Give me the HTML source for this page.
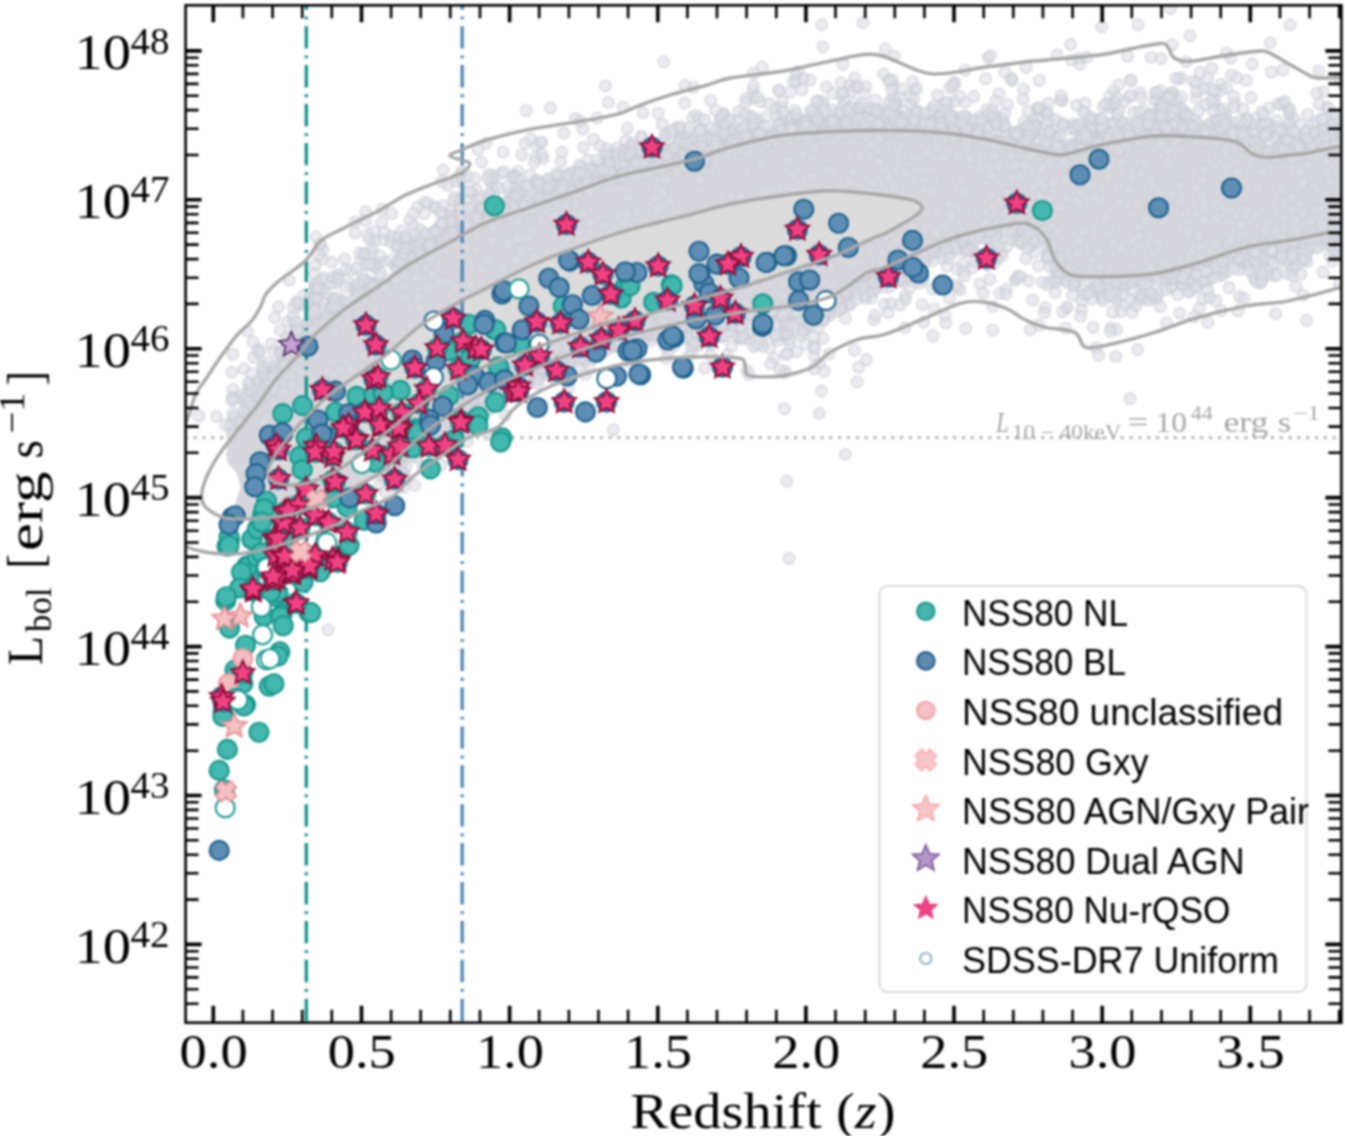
<!DOCTYPE html><html><head><meta charset="utf-8"><style>html,body{margin:0;padding:0;background:#fff;width:1345px;height:1136px;overflow:hidden}svg{display:block}#w{filter:blur(1px)}</style></head><body>
<div id="w"><svg width="1345" height="1136" viewBox="0 0 1345 1136">
<rect width="1345" height="1136" fill="#fff"/>
<defs><clipPath id="ax"><rect x="185.6" y="5.3" width="1155.8" height="1017.4"/></clipPath></defs>
<g clip-path="url(#ax)">
<line x1="185.6" y1="437.8" x2="1341.4" y2="437.8" stroke="#b2b2b2" stroke-width="3" stroke-dasharray="3 5.83" stroke-dashoffset="0.8"/>
<path d="M245 425 C249.9 418.9 253.8 410.9 259 403.2 C264.2 395.5 270.1 386.5 276.5 378.6 C282.9 370.7 291.5 362.8 297.7 355.7 C303.9 348.6 305.9 343.9 313.5 336.3 C321.1 328.7 331.6 319.1 343.5 310 C355.4 300.9 374.2 289.3 385 281.8 C395.8 274.3 396.7 271.9 408 265 C419.3 258.1 439.9 247.6 452.7 240.6 C465.5 233.6 472.2 228.5 485 223 C497.8 217.5 514.7 212.7 529.6 207.5 C544.5 202.3 559.3 197 574.2 191.8 C589.1 186.6 603.9 180.5 618.8 176.2 C633.7 171.9 650.5 169.2 663.5 166.2 C676.5 163.2 685.9 161.6 697 158.4 C708.1 155.2 715.7 151.1 730.4 147.2 C745.1 143.3 761 137.8 785 135 C809 132.2 848.2 130.9 874.2 130.5 C900.2 130.1 922.5 131.2 941.1 132.7 C959.7 134.2 970.9 136.6 985.8 139.4 C1000.7 142.2 1019.3 147.1 1030.4 149.5 C1041.6 151.9 1046.6 153.2 1052.7 154 C1058.8 154.8 1059.3 155.5 1067.3 154 C1075.3 152.5 1085.9 148 1100.8 145 C1115.7 142 1136 136.9 1156.5 136 C1177 135.1 1209.4 137.9 1223.5 139.4 C1237.6 140.9 1236.5 142.6 1241.3 145 C1246.1 147.4 1248 151.9 1252.5 154 C1257 156.1 1259.8 157.3 1268 157.3 C1276.2 157.3 1286.2 155.1 1301.5 154 C1316.8 152.9 1350.2 138.5 1360 151 C1369.8 163.5 1365.4 215.3 1360 229 C1354.6 242.7 1338.1 231.3 1327.6 233 C1317.1 234.7 1310.7 236.7 1297.2 239.1 C1283.7 241.5 1263.5 243.1 1246.6 247.2 C1229.7 251.2 1211.2 259 1196 263.4 C1180.8 267.8 1169 271.3 1155.5 273.5 C1142 275.7 1124.5 276 1115 276.5 C1105.5 277 1106.1 277 1098.8 276.7 C1091.5 276.4 1078 277.3 1070.9 274.8 C1063.8 272.3 1060 267.7 1056 261.8 C1052 255.9 1050.4 245.4 1046.7 239.5 C1043 233.6 1039 229.1 1033.7 226.5 C1028.4 223.9 1027.5 222.1 1015.1 223.7 C1002.7 225.2 974.8 231.3 959.3 235.8 C943.8 240.3 934.6 245.3 922.2 250.6 C909.8 255.9 894.1 263.9 885 267.5 C875.9 271.1 873.3 269.5 867.3 272.5 C861.3 275.5 855 281.5 848.8 285.5 C842.6 289.5 838 293.6 830.2 296.7 C822.5 299.8 816.2 301.6 802.3 304.1 C788.3 306.6 765.1 308.7 746.5 311.5 C727.9 314.3 709.4 317.1 690.8 320.8 C672.2 324.5 648.8 330.2 635 333.6 C621.2 337 618.7 337.5 608 340.9 C597.3 344.3 583.3 349.2 570.9 353.9 C558.5 358.5 546.1 363.5 533.7 368.8 C521.3 374.1 508.9 379 496.5 385.5 C484.1 392 471.7 399.6 459.3 407.8 C446.9 416.1 434.6 424.8 422.2 435 C409.8 445.2 393.7 461.6 385 469 C376.3 476.4 376.8 475.2 369.9 479.3 C363 483.4 352.3 489 343.5 493.4 C334.7 497.8 325.8 502.2 317 505.7 C308.2 509.2 299.4 512.5 290.6 514.5 C281.8 516.5 273 517.8 264.2 518 C255.4 518.2 242.8 518.4 238 516 C233.2 513.6 235.4 508.1 235.7 503.4 C236 498.6 240 492.8 240 487.5 C240 482.2 237.8 476.1 235.7 471.7 C233.6 467.3 228.2 466.3 227.2 461 C226.1 455.7 226.4 446 229.4 440 C232.4 434 240.1 431.1 245 425Z" fill="#d5d5dc"/>
<g fill="#dcdce3" fill-opacity="0.55" stroke="#c8c8d2" stroke-opacity="0.6" stroke-width="1.6"><circle cx="735.5" cy="140.6" r="5.6"/><circle cx="750.3" cy="134.5" r="5.6"/><circle cx="437.5" cy="229" r="5.6"/><circle cx="336.8" cy="318.4" r="5.6"/><circle cx="1003.8" cy="150.5" r="5.6"/><circle cx="1305.8" cy="137.6" r="5.6"/><circle cx="407.3" cy="241.1" r="5.6"/><circle cx="443.7" cy="245.2" r="5.6"/><circle cx="722.3" cy="122.9" r="5.6"/><circle cx="944.6" cy="127.2" r="5.6"/><circle cx="741" cy="147.9" r="5.6"/><circle cx="1340.2" cy="125.9" r="5.6"/><circle cx="582.9" cy="178.6" r="5.6"/><circle cx="1084.9" cy="144.7" r="5.6"/><circle cx="662.2" cy="124.4" r="5.6"/><circle cx="232.6" cy="354.1" r="5.6"/><circle cx="1323.1" cy="139.5" r="5.6"/><circle cx="932.6" cy="110.6" r="5.6"/><circle cx="1075.7" cy="146.6" r="5.6"/><circle cx="344.5" cy="259" r="5.6"/><circle cx="854.5" cy="118.5" r="5.6"/><circle cx="1046.6" cy="152.9" r="5.6"/><circle cx="361.7" cy="288.7" r="5.6"/><circle cx="1312.6" cy="124.3" r="5.6"/><circle cx="1216.9" cy="134.3" r="5.6"/><circle cx="1182.9" cy="115.2" r="5.6"/><circle cx="1333.1" cy="146.1" r="5.6"/><circle cx="1092" cy="137.5" r="5.6"/><circle cx="313.7" cy="306.5" r="5.6"/><circle cx="901.2" cy="124.8" r="5.6"/><circle cx="1299.5" cy="144" r="5.6"/><circle cx="1196.4" cy="130.7" r="5.6"/><circle cx="1243.1" cy="109" r="5.6"/><circle cx="443.2" cy="170" r="5.6"/><circle cx="1289.5" cy="114.8" r="5.6"/><circle cx="701.1" cy="149.9" r="5.6"/><circle cx="1303.5" cy="152.9" r="5.6"/><circle cx="518" cy="189.1" r="5.6"/><circle cx="427.3" cy="249.9" r="5.6"/><circle cx="854.6" cy="103.1" r="5.6"/><circle cx="543.9" cy="192.5" r="5.6"/><circle cx="531.6" cy="202" r="5.6"/><circle cx="642.5" cy="154.3" r="5.6"/><circle cx="635.1" cy="148.4" r="5.6"/><circle cx="963.2" cy="121" r="5.6"/><circle cx="388.2" cy="285.7" r="5.6"/><circle cx="1012.2" cy="80.5" r="5.6"/><circle cx="940.1" cy="128.2" r="5.6"/><circle cx="315.8" cy="299.1" r="5.6"/><circle cx="1052.4" cy="133.8" r="5.6"/><circle cx="1250.4" cy="146.4" r="5.6"/><circle cx="1234.6" cy="102.8" r="5.6"/><circle cx="1111.9" cy="105.5" r="5.6"/><circle cx="927.6" cy="128.1" r="5.6"/><circle cx="909.7" cy="133.4" r="5.6"/><circle cx="1337.6" cy="121.6" r="5.6"/><circle cx="664.3" cy="148" r="5.6"/><circle cx="722.3" cy="117.2" r="5.6"/><circle cx="1067" cy="155.8" r="5.6"/><circle cx="767.3" cy="138.9" r="5.6"/><circle cx="785.4" cy="128.4" r="5.6"/><circle cx="516.7" cy="207.3" r="5.6"/><circle cx="457.5" cy="177.3" r="5.6"/><circle cx="723.9" cy="114" r="5.6"/><circle cx="973.1" cy="134.2" r="5.6"/><circle cx="1129.1" cy="97.4" r="5.6"/><circle cx="659.9" cy="152.3" r="5.6"/><circle cx="383.6" cy="239.8" r="5.6"/><circle cx="1023.6" cy="89.3" r="5.6"/><circle cx="420.2" cy="247.3" r="5.6"/><circle cx="692.8" cy="145.1" r="5.6"/><circle cx="583" cy="129" r="5.6"/><circle cx="315.1" cy="265.1" r="5.6"/><circle cx="1020.7" cy="129.9" r="5.6"/><circle cx="1113" cy="138.6" r="5.6"/><circle cx="738.2" cy="150.7" r="5.6"/><circle cx="496.2" cy="220.7" r="5.6"/><circle cx="728.9" cy="135.7" r="5.6"/><circle cx="1130.6" cy="79.8" r="5.6"/><circle cx="453.9" cy="228.9" r="5.6"/><circle cx="757.6" cy="119.2" r="5.6"/><circle cx="535.1" cy="183" r="5.6"/><circle cx="915.9" cy="111.7" r="5.6"/><circle cx="1113.4" cy="90.9" r="5.6"/><circle cx="1270" cy="123.7" r="5.6"/><circle cx="736.8" cy="137.7" r="5.6"/><circle cx="651.4" cy="162.7" r="5.6"/><circle cx="1118.8" cy="84.8" r="5.6"/><circle cx="956.9" cy="135.9" r="5.6"/><circle cx="1142.8" cy="121.6" r="5.6"/><circle cx="1323.3" cy="91.8" r="5.6"/><circle cx="1112.1" cy="142.2" r="5.6"/><circle cx="1184.5" cy="125.3" r="5.6"/><circle cx="722.7" cy="142.3" r="5.6"/><circle cx="774.5" cy="142.3" r="5.6"/><circle cx="424.4" cy="213.6" r="5.6"/><circle cx="397.5" cy="244.7" r="5.6"/><circle cx="999.3" cy="93.9" r="5.6"/><circle cx="1288.4" cy="150.6" r="5.6"/><circle cx="818.2" cy="132.3" r="5.6"/><circle cx="943.1" cy="128.9" r="5.6"/><circle cx="855.2" cy="124.7" r="5.6"/><circle cx="1172.8" cy="92.3" r="5.6"/><circle cx="1178.9" cy="79" r="5.6"/><circle cx="869.7" cy="128.5" r="5.6"/><circle cx="792" cy="115.7" r="5.6"/><circle cx="1310.9" cy="140.8" r="5.6"/><circle cx="1123.6" cy="125.6" r="5.6"/><circle cx="1001.1" cy="143.2" r="5.6"/><circle cx="692.5" cy="117.6" r="5.6"/><circle cx="531.6" cy="204.1" r="5.6"/><circle cx="1139.9" cy="92.8" r="5.6"/><circle cx="585.1" cy="180.6" r="5.6"/><circle cx="376.1" cy="283.9" r="5.6"/><circle cx="484.9" cy="211.2" r="5.6"/><circle cx="921.8" cy="134.8" r="5.6"/><circle cx="368.7" cy="281.7" r="5.6"/><circle cx="822.3" cy="123.5" r="5.6"/><circle cx="692.1" cy="144.1" r="5.6"/><circle cx="459.3" cy="210.7" r="5.6"/><circle cx="1179.5" cy="126.9" r="5.6"/><circle cx="490.9" cy="183" r="5.6"/><circle cx="583.6" cy="147.3" r="5.6"/><circle cx="1343.2" cy="112" r="5.6"/><circle cx="498.4" cy="206" r="5.6"/><circle cx="1158.2" cy="130" r="5.6"/><circle cx="372.2" cy="252.9" r="5.6"/><circle cx="455.6" cy="181.4" r="5.6"/><circle cx="360.5" cy="259.3" r="5.6"/><circle cx="995.2" cy="133" r="5.6"/><circle cx="350.2" cy="283.4" r="5.6"/><circle cx="865" cy="124.9" r="5.6"/><circle cx="1263.6" cy="148.9" r="5.6"/><circle cx="1291" cy="147.5" r="5.6"/><circle cx="595.8" cy="173.8" r="5.6"/><circle cx="900.8" cy="135" r="5.6"/><circle cx="1171.7" cy="133.5" r="5.6"/><circle cx="1054.9" cy="139.9" r="5.6"/><circle cx="415.7" cy="266.9" r="5.6"/><circle cx="1124.3" cy="122.8" r="5.6"/><circle cx="932.5" cy="128.1" r="5.6"/><circle cx="793.3" cy="81.3" r="5.6"/><circle cx="519.4" cy="185.4" r="5.6"/><circle cx="1138.7" cy="134.9" r="5.6"/><circle cx="1211.3" cy="122.4" r="5.6"/><circle cx="1083.7" cy="143" r="5.6"/><circle cx="310.5" cy="314.6" r="5.6"/><circle cx="627.8" cy="162.6" r="5.6"/><circle cx="973.4" cy="134.5" r="5.6"/><circle cx="865.9" cy="117.8" r="5.6"/><circle cx="1344.9" cy="138.8" r="5.6"/><circle cx="1079.8" cy="64.1" r="5.6"/><circle cx="916.9" cy="110.9" r="5.6"/><circle cx="678.9" cy="158.5" r="5.6"/><circle cx="650.1" cy="165.2" r="5.6"/><circle cx="1240" cy="129.7" r="5.6"/><circle cx="1308.4" cy="147" r="5.6"/><circle cx="942.1" cy="105.8" r="5.6"/><circle cx="897.1" cy="104.2" r="5.6"/><circle cx="1267.3" cy="153.7" r="5.6"/><circle cx="420.2" cy="229.6" r="5.6"/><circle cx="1284.1" cy="145.7" r="5.6"/><circle cx="897.4" cy="122.3" r="5.6"/><circle cx="961.1" cy="121.8" r="5.6"/><circle cx="1029.6" cy="136.7" r="5.6"/><circle cx="504.7" cy="216.5" r="5.6"/><circle cx="666" cy="135.5" r="5.6"/><circle cx="1283.2" cy="160.9" r="5.6"/><circle cx="710.1" cy="151.7" r="5.6"/><circle cx="503.2" cy="151.9" r="5.6"/><circle cx="753.3" cy="90.6" r="5.6"/><circle cx="903.8" cy="132.4" r="5.6"/><circle cx="739.2" cy="136.5" r="5.6"/><circle cx="819.8" cy="131.4" r="5.6"/><circle cx="975.4" cy="126.2" r="5.6"/><circle cx="880" cy="126.6" r="5.6"/><circle cx="822.7" cy="46.8" r="5.6"/><circle cx="1049.3" cy="143.3" r="5.6"/><circle cx="1225.6" cy="114.3" r="5.6"/><circle cx="631.8" cy="172.4" r="5.6"/><circle cx="860.7" cy="119.4" r="5.6"/><circle cx="1070.5" cy="146.2" r="5.6"/><circle cx="1322.4" cy="118.3" r="5.6"/><circle cx="276" cy="368.5" r="5.6"/><circle cx="925.8" cy="132.4" r="5.6"/><circle cx="312.7" cy="304.1" r="5.6"/><circle cx="934.4" cy="127.1" r="5.6"/><circle cx="466.4" cy="200.7" r="5.6"/><circle cx="314.7" cy="286.4" r="5.6"/><circle cx="1087.6" cy="143.6" r="5.6"/><circle cx="519.2" cy="203.9" r="5.6"/><circle cx="1333" cy="147.6" r="5.6"/><circle cx="1062.4" cy="100.7" r="5.6"/><circle cx="643" cy="175.5" r="5.6"/><circle cx="319.4" cy="305.5" r="5.6"/><circle cx="994.8" cy="140.4" r="5.6"/><circle cx="316.7" cy="294.6" r="5.6"/><circle cx="570.1" cy="172.9" r="5.6"/><circle cx="391.1" cy="242.1" r="5.6"/><circle cx="362.6" cy="280.1" r="5.6"/><circle cx="1278.1" cy="103.5" r="5.6"/><circle cx="1125.8" cy="132.1" r="5.6"/><circle cx="676.7" cy="127.6" r="5.6"/><circle cx="508.4" cy="203" r="5.6"/><circle cx="672.3" cy="153.4" r="5.6"/><circle cx="859.5" cy="106.8" r="5.6"/><circle cx="1162.9" cy="116.1" r="5.6"/><circle cx="1076.7" cy="105.2" r="5.6"/><circle cx="256.7" cy="381.6" r="5.6"/><circle cx="1307.6" cy="140.5" r="5.6"/><circle cx="303.3" cy="295.7" r="5.6"/><circle cx="322.9" cy="250.2" r="5.6"/><circle cx="937.8" cy="135" r="5.6"/><circle cx="954.3" cy="127.8" r="5.6"/><circle cx="1083.8" cy="139.1" r="5.6"/><circle cx="670.9" cy="165.7" r="5.6"/><circle cx="980.4" cy="129.5" r="5.6"/><circle cx="1034.4" cy="132.9" r="5.6"/><circle cx="689" cy="136.5" r="5.6"/><circle cx="1181.9" cy="114.9" r="5.6"/><circle cx="1221.1" cy="84.4" r="5.6"/><circle cx="815.1" cy="119.9" r="5.6"/><circle cx="701.3" cy="144.6" r="5.6"/><circle cx="1057" cy="54.8" r="5.6"/><circle cx="418.6" cy="243.5" r="5.6"/><circle cx="1311.3" cy="150.8" r="5.6"/><circle cx="359.8" cy="253" r="5.6"/><circle cx="301.4" cy="330.3" r="5.6"/><circle cx="272.5" cy="374.2" r="5.6"/><circle cx="494" cy="193.2" r="5.6"/><circle cx="437.9" cy="248.5" r="5.6"/><circle cx="579" cy="165.2" r="5.6"/><circle cx="521.9" cy="154.9" r="5.6"/><circle cx="841.2" cy="82.7" r="5.6"/><circle cx="478" cy="149.4" r="5.6"/><circle cx="660.5" cy="156.8" r="5.6"/><circle cx="963.9" cy="126.3" r="5.6"/><circle cx="758.1" cy="139.4" r="5.6"/><circle cx="1025.9" cy="126.9" r="5.6"/><circle cx="406.6" cy="264.5" r="5.6"/><circle cx="806.4" cy="126.7" r="5.6"/><circle cx="528.6" cy="209.2" r="5.6"/><circle cx="1173.8" cy="101.7" r="5.6"/><circle cx="532.4" cy="205.1" r="5.6"/><circle cx="753.6" cy="98.3" r="5.6"/><circle cx="1186.2" cy="136.4" r="5.6"/><circle cx="696.1" cy="115.3" r="5.6"/><circle cx="1151.7" cy="133.7" r="5.6"/><circle cx="817.1" cy="136.4" r="5.6"/><circle cx="578.6" cy="187.3" r="5.6"/><circle cx="752" cy="122.8" r="5.6"/><circle cx="996.7" cy="139.5" r="5.6"/><circle cx="745.9" cy="98.5" r="5.6"/><circle cx="959.8" cy="134.6" r="5.6"/><circle cx="1022.2" cy="144.5" r="5.6"/><circle cx="741.9" cy="152.4" r="5.6"/><circle cx="1121.8" cy="139.6" r="5.6"/><circle cx="555.2" cy="183.7" r="5.6"/><circle cx="607.5" cy="162.2" r="5.6"/><circle cx="454.5" cy="236.1" r="5.6"/><circle cx="858.4" cy="109" r="5.6"/><circle cx="1152.3" cy="130.7" r="5.6"/><circle cx="337.1" cy="275" r="5.6"/><circle cx="679.7" cy="136.8" r="5.6"/><circle cx="332.3" cy="310.3" r="5.6"/><circle cx="684.8" cy="167" r="5.6"/><circle cx="707.3" cy="147" r="5.6"/><circle cx="1085.5" cy="113.3" r="5.6"/><circle cx="600.9" cy="181.9" r="5.6"/><circle cx="1011" cy="78.3" r="5.6"/><circle cx="966.8" cy="116.9" r="5.6"/><circle cx="600.4" cy="163" r="5.6"/><circle cx="652.3" cy="163.2" r="5.6"/><circle cx="1150.4" cy="114.1" r="5.6"/><circle cx="1085.1" cy="103.2" r="5.6"/><circle cx="624.4" cy="161.2" r="5.6"/><circle cx="1026" cy="67.3" r="5.6"/><circle cx="1028.2" cy="111.1" r="5.6"/><circle cx="1283.7" cy="132" r="5.6"/><circle cx="324.6" cy="303.1" r="5.6"/><circle cx="598.4" cy="177.4" r="5.6"/><circle cx="836.8" cy="121.2" r="5.6"/><circle cx="526.2" cy="110.6" r="5.6"/><circle cx="901.5" cy="135" r="5.6"/><circle cx="553.2" cy="196.6" r="5.6"/><circle cx="1156.6" cy="133.5" r="5.6"/><circle cx="316.9" cy="334.9" r="5.6"/><circle cx="1277.6" cy="131.3" r="5.6"/><circle cx="979.1" cy="117" r="5.6"/><circle cx="890.8" cy="99.7" r="5.6"/><circle cx="454.1" cy="235.1" r="5.6"/><circle cx="865.9" cy="129.1" r="5.6"/><circle cx="525.5" cy="203.3" r="5.6"/><circle cx="274.1" cy="383.9" r="5.6"/><circle cx="899.9" cy="121.6" r="5.6"/><circle cx="926.3" cy="121.4" r="5.6"/><circle cx="1068.7" cy="147.5" r="5.6"/><circle cx="1165" cy="97.5" r="5.6"/><circle cx="715" cy="146.2" r="5.6"/><circle cx="817.4" cy="122" r="5.6"/><circle cx="1238.5" cy="131.2" r="5.6"/><circle cx="1039.6" cy="109.6" r="5.6"/><circle cx="897" cy="108.3" r="5.6"/><circle cx="892.5" cy="125.7" r="5.6"/><circle cx="729.5" cy="136.4" r="5.6"/><circle cx="289.8" cy="336.9" r="5.6"/><circle cx="572.9" cy="183.1" r="5.6"/><circle cx="1246.3" cy="80.4" r="5.6"/><circle cx="1196.4" cy="133.9" r="5.6"/><circle cx="478.8" cy="209.6" r="5.6"/><circle cx="232.6" cy="423" r="5.6"/><circle cx="1139.6" cy="127.5" r="5.6"/><circle cx="883.7" cy="124.5" r="5.6"/><circle cx="1232" cy="136" r="5.6"/><circle cx="1271.5" cy="72.1" r="5.6"/><circle cx="461.8" cy="171.8" r="5.6"/><circle cx="449.6" cy="231.4" r="5.6"/><circle cx="1339.9" cy="151.2" r="5.6"/><circle cx="287.7" cy="321.9" r="5.6"/><circle cx="1234" cy="107.1" r="5.6"/><circle cx="382.1" cy="209.1" r="5.6"/><circle cx="319.9" cy="322.9" r="5.6"/><circle cx="450.7" cy="237.9" r="5.6"/><circle cx="1111.8" cy="137.2" r="5.6"/><circle cx="1216.4" cy="120.2" r="5.6"/><circle cx="566.9" cy="175.1" r="5.6"/><circle cx="944.2" cy="139.7" r="5.6"/><circle cx="722.1" cy="139.9" r="5.6"/><circle cx="282.5" cy="358.3" r="5.6"/><circle cx="1126" cy="137.1" r="5.6"/><circle cx="1073.1" cy="144.5" r="5.6"/><circle cx="842" cy="135.4" r="5.6"/><circle cx="1331.4" cy="152.4" r="5.6"/><circle cx="1067.4" cy="150.7" r="5.6"/><circle cx="788.4" cy="133.8" r="5.6"/><circle cx="949.8" cy="131.1" r="5.6"/><circle cx="1103.5" cy="131.2" r="5.6"/><circle cx="1172.9" cy="117.5" r="5.6"/><circle cx="1291.1" cy="156.2" r="5.6"/><circle cx="415.8" cy="254.1" r="5.6"/><circle cx="1092.4" cy="121.2" r="5.6"/><circle cx="494.6" cy="215.2" r="5.6"/><circle cx="787.3" cy="136.7" r="5.6"/><circle cx="1027.5" cy="138.8" r="5.6"/><circle cx="432.4" cy="252.2" r="5.6"/><circle cx="715.8" cy="140.9" r="5.6"/><circle cx="1120.8" cy="147" r="5.6"/><circle cx="865.2" cy="123.2" r="5.6"/><circle cx="496.9" cy="203.8" r="5.6"/><circle cx="581.9" cy="175.6" r="5.6"/><circle cx="887.2" cy="134.9" r="5.6"/><circle cx="423" cy="256.2" r="5.6"/><circle cx="1156.8" cy="99.7" r="5.6"/><circle cx="689" cy="150.3" r="5.6"/><circle cx="1312.2" cy="153.6" r="5.6"/><circle cx="1079.3" cy="58.3" r="5.6"/><circle cx="738.8" cy="119.3" r="5.6"/><circle cx="499.8" cy="213.5" r="5.6"/><circle cx="563.7" cy="188.7" r="5.6"/><circle cx="1340.7" cy="132.7" r="5.6"/><circle cx="487.9" cy="197.5" r="5.6"/><circle cx="745.7" cy="102.7" r="5.6"/><circle cx="607.1" cy="161.5" r="5.6"/><circle cx="680.6" cy="140.9" r="5.6"/><circle cx="614" cy="152.4" r="5.6"/><circle cx="1218.5" cy="127.4" r="5.6"/><circle cx="1170.3" cy="132.6" r="5.6"/><circle cx="471.7" cy="226.2" r="5.6"/><circle cx="414.4" cy="256" r="5.6"/><circle cx="575.4" cy="118.6" r="5.6"/><circle cx="1192.2" cy="133.3" r="5.6"/><circle cx="313" cy="320.8" r="5.6"/><circle cx="252.7" cy="400.6" r="5.6"/><circle cx="1259.9" cy="124.6" r="5.6"/><circle cx="633.9" cy="177.5" r="5.6"/><circle cx="632.4" cy="156.6" r="5.6"/><circle cx="1241.6" cy="143.3" r="5.6"/><circle cx="659.8" cy="172.1" r="5.6"/><circle cx="594" cy="169" r="5.6"/><circle cx="670.5" cy="155" r="5.6"/><circle cx="399.9" cy="268.4" r="5.6"/><circle cx="704" cy="139.8" r="5.6"/><circle cx="1018.5" cy="145.4" r="5.6"/><circle cx="973.5" cy="132" r="5.6"/><circle cx="544" cy="192.3" r="5.6"/><circle cx="1195.8" cy="131.7" r="5.6"/><circle cx="615.9" cy="171" r="5.6"/><circle cx="933.6" cy="126.9" r="5.6"/><circle cx="1317.8" cy="150.6" r="5.6"/><circle cx="1254.9" cy="152.6" r="5.6"/><circle cx="973.9" cy="96.5" r="5.6"/><circle cx="493.1" cy="217.7" r="5.6"/><circle cx="668.8" cy="163.4" r="5.6"/><circle cx="597.3" cy="175.2" r="5.6"/><circle cx="679.9" cy="148.8" r="5.6"/><circle cx="972.4" cy="128.5" r="5.6"/><circle cx="612.5" cy="178.3" r="5.6"/><circle cx="1012.6" cy="134.8" r="5.6"/><circle cx="257.6" cy="384.5" r="5.6"/><circle cx="682.1" cy="162" r="5.6"/><circle cx="884.1" cy="119.2" r="5.6"/><circle cx="514" cy="209.5" r="5.6"/><circle cx="861.6" cy="129.5" r="5.6"/><circle cx="439" cy="231.3" r="5.6"/><circle cx="635.6" cy="167.3" r="5.6"/><circle cx="1090.6" cy="130.4" r="5.6"/><circle cx="689.4" cy="149.7" r="5.6"/><circle cx="1155.4" cy="92.8" r="5.6"/><circle cx="1244.4" cy="142.6" r="5.6"/><circle cx="796.4" cy="128.1" r="5.6"/><circle cx="1319.4" cy="147.1" r="5.6"/><circle cx="486.3" cy="209.2" r="5.6"/><circle cx="837.3" cy="121.8" r="5.6"/><circle cx="781.4" cy="122.5" r="5.6"/><circle cx="926.9" cy="127.1" r="5.6"/><circle cx="1310.3" cy="145.5" r="5.6"/><circle cx="1218.5" cy="136.3" r="5.6"/><circle cx="1006" cy="131.2" r="5.6"/><circle cx="1149.5" cy="136.3" r="5.6"/><circle cx="778.1" cy="123.9" r="5.6"/><circle cx="550" cy="184.3" r="5.6"/><circle cx="509.5" cy="211" r="5.6"/><circle cx="372.2" cy="283.9" r="5.6"/><circle cx="1016.4" cy="144.5" r="5.6"/><circle cx="1091.4" cy="130.6" r="5.6"/><circle cx="1196.2" cy="97.9" r="5.6"/><circle cx="514.6" cy="175.4" r="5.6"/><circle cx="1028.9" cy="147.6" r="5.6"/><circle cx="595.8" cy="169.4" r="5.6"/><circle cx="1154.2" cy="119.4" r="5.6"/><circle cx="1018.8" cy="134.5" r="5.6"/><circle cx="1123.8" cy="137.9" r="5.6"/><circle cx="977" cy="130.6" r="5.6"/><circle cx="247.3" cy="330.9" r="5.6"/><circle cx="380.9" cy="272.8" r="5.6"/><circle cx="673.5" cy="130.1" r="5.6"/><circle cx="286.2" cy="358.5" r="5.6"/><circle cx="550.4" cy="107.9" r="5.6"/><circle cx="599.4" cy="172.5" r="5.6"/><circle cx="647.6" cy="169.5" r="5.6"/><circle cx="1165.5" cy="129.3" r="5.6"/><circle cx="919.6" cy="119.9" r="5.6"/><circle cx="665.3" cy="149.4" r="5.6"/><circle cx="1122.6" cy="134.7" r="5.6"/><circle cx="511.8" cy="209.2" r="5.6"/><circle cx="253.4" cy="407.9" r="5.6"/><circle cx="537" cy="191.1" r="5.6"/><circle cx="520.9" cy="215.5" r="5.6"/><circle cx="576.3" cy="188.8" r="5.6"/><circle cx="1341.8" cy="154.4" r="5.6"/><circle cx="771" cy="135.7" r="5.6"/><circle cx="672.7" cy="164.9" r="5.6"/><circle cx="963.1" cy="119.6" r="5.6"/><circle cx="1277" cy="120.7" r="5.6"/><circle cx="725.3" cy="125.7" r="5.6"/><circle cx="427.7" cy="245.4" r="5.6"/><circle cx="315.1" cy="289.6" r="5.6"/><circle cx="804.4" cy="130.8" r="5.6"/><circle cx="1299.7" cy="155.4" r="5.6"/><circle cx="1133.7" cy="112.3" r="5.6"/><circle cx="676.4" cy="143.8" r="5.6"/><circle cx="1086.5" cy="57.3" r="5.6"/><circle cx="1289.8" cy="148.7" r="5.6"/><circle cx="510.8" cy="215.5" r="5.6"/><circle cx="484.9" cy="213.4" r="5.6"/><circle cx="1134.4" cy="133.4" r="5.6"/><circle cx="626.1" cy="176.7" r="5.6"/><circle cx="590" cy="184.7" r="5.6"/><circle cx="467.2" cy="214.1" r="5.6"/><circle cx="429.3" cy="248.5" r="5.6"/><circle cx="711.4" cy="154.5" r="5.6"/><circle cx="680.9" cy="157.7" r="5.6"/><circle cx="1291.9" cy="156.8" r="5.6"/><circle cx="589.2" cy="192.7" r="5.6"/><circle cx="710.7" cy="100.4" r="5.6"/><circle cx="686.3" cy="138.4" r="5.6"/><circle cx="536.3" cy="145.4" r="5.6"/><circle cx="396.9" cy="263.6" r="5.6"/><circle cx="468.3" cy="176.7" r="5.6"/><circle cx="931.7" cy="125.2" r="5.6"/><circle cx="999.8" cy="135.6" r="5.6"/><circle cx="698.8" cy="147.5" r="5.6"/><circle cx="900.5" cy="119.8" r="5.6"/><circle cx="267.8" cy="372.1" r="5.6"/><circle cx="893.8" cy="85.8" r="5.6"/><circle cx="753.6" cy="73.3" r="5.6"/><circle cx="580.3" cy="120.9" r="5.6"/><circle cx="1197.5" cy="143.6" r="5.6"/><circle cx="778.6" cy="138.4" r="5.6"/><circle cx="954.6" cy="101.2" r="5.6"/><circle cx="1119.8" cy="135.5" r="5.6"/><circle cx="1024.1" cy="147.9" r="5.6"/><circle cx="737.4" cy="140.2" r="5.6"/><circle cx="450.1" cy="209.8" r="5.6"/><circle cx="849.7" cy="107.7" r="5.6"/><circle cx="501.1" cy="173.5" r="5.6"/><circle cx="843.4" cy="99.5" r="5.6"/><circle cx="400.9" cy="261.9" r="5.6"/><circle cx="616.9" cy="147.8" r="5.6"/><circle cx="434.2" cy="206.3" r="5.6"/><circle cx="1235.7" cy="149.6" r="5.6"/><circle cx="462.1" cy="182.1" r="5.6"/><circle cx="451.3" cy="220.6" r="5.6"/><circle cx="610" cy="163.3" r="5.6"/><circle cx="903.2" cy="110.4" r="5.6"/><circle cx="374.5" cy="267.5" r="5.6"/><circle cx="911" cy="122.1" r="5.6"/><circle cx="1339.3" cy="137.1" r="5.6"/><circle cx="633" cy="167.4" r="5.6"/><circle cx="394.8" cy="265.5" r="5.6"/><circle cx="687.2" cy="152.3" r="5.6"/><circle cx="1280.1" cy="150.9" r="5.6"/><circle cx="493.6" cy="217.4" r="5.6"/><circle cx="550.9" cy="180.8" r="5.6"/><circle cx="1271.2" cy="150.3" r="5.6"/><circle cx="901.2" cy="117.4" r="5.6"/><circle cx="698.5" cy="153" r="5.6"/><circle cx="1294.4" cy="151.7" r="5.6"/><circle cx="980" cy="133.9" r="5.6"/><circle cx="512.1" cy="209.2" r="5.6"/><circle cx="1178.4" cy="123.4" r="5.6"/><circle cx="330.4" cy="311.1" r="5.6"/><circle cx="976.8" cy="138.1" r="5.6"/><circle cx="1289" cy="157.6" r="5.6"/><circle cx="754.2" cy="135.8" r="5.6"/><circle cx="583.7" cy="182.2" r="5.6"/><circle cx="1318.8" cy="71" r="5.6"/><circle cx="1154.3" cy="119" r="5.6"/><circle cx="1342.4" cy="151.2" r="5.6"/><circle cx="678.6" cy="143.3" r="5.6"/><circle cx="1333.6" cy="147.7" r="5.6"/><circle cx="391.1" cy="236.5" r="5.6"/><circle cx="417.7" cy="239.6" r="5.6"/><circle cx="514" cy="187.3" r="5.6"/><circle cx="365.2" cy="300.8" r="5.6"/><circle cx="1283.3" cy="102.9" r="5.6"/><circle cx="622.8" cy="166.1" r="5.6"/><circle cx="355.8" cy="292.5" r="5.6"/><circle cx="370.7" cy="282.9" r="5.6"/><circle cx="802.1" cy="133.9" r="5.6"/><circle cx="506.7" cy="211.2" r="5.6"/><circle cx="734.7" cy="134.3" r="5.6"/><circle cx="1178.9" cy="141.1" r="5.6"/><circle cx="816.3" cy="128" r="5.6"/><circle cx="1193.5" cy="81.4" r="5.6"/><circle cx="243.9" cy="368.9" r="5.6"/><circle cx="1025.1" cy="146.5" r="5.6"/><circle cx="263.8" cy="391.5" r="5.6"/><circle cx="947.7" cy="102.6" r="5.6"/><circle cx="695.2" cy="155.2" r="5.6"/><circle cx="597.9" cy="174.6" r="5.6"/><circle cx="1285.4" cy="139.3" r="5.6"/><circle cx="1238" cy="132.2" r="5.6"/><circle cx="1054.9" cy="146.9" r="5.6"/><circle cx="709.8" cy="143.2" r="5.6"/><circle cx="711.1" cy="139.1" r="5.6"/><circle cx="1162.1" cy="136.4" r="5.6"/><circle cx="841.4" cy="121.1" r="5.6"/><circle cx="342.4" cy="300.6" r="5.6"/><circle cx="488.3" cy="197.8" r="5.6"/><circle cx="684.6" cy="103" r="5.6"/><circle cx="892.4" cy="79.8" r="5.6"/><circle cx="897.6" cy="122.5" r="5.6"/><circle cx="910" cy="117.3" r="5.6"/><circle cx="785.9" cy="129.2" r="5.6"/><circle cx="291" cy="351.1" r="5.6"/><circle cx="1117.6" cy="137.2" r="5.6"/><circle cx="679.8" cy="160.7" r="5.6"/><circle cx="1157.5" cy="126.4" r="5.6"/><circle cx="1143.9" cy="109.7" r="5.6"/><circle cx="285.4" cy="349.1" r="5.6"/><circle cx="942.9" cy="139.7" r="5.6"/><circle cx="1069.8" cy="129.2" r="5.6"/><circle cx="1052.2" cy="146.2" r="5.6"/><circle cx="1326.8" cy="106.9" r="5.6"/><circle cx="1101.7" cy="137.8" r="5.6"/><circle cx="652.5" cy="159.9" r="5.6"/><circle cx="363.3" cy="254.2" r="5.6"/><circle cx="973.5" cy="121.1" r="5.6"/><circle cx="855.5" cy="86.9" r="5.6"/><circle cx="693.7" cy="153" r="5.6"/><circle cx="757.8" cy="140.7" r="5.6"/><circle cx="652.2" cy="159" r="5.6"/><circle cx="781.4" cy="118.6" r="5.6"/><circle cx="1098.6" cy="147.8" r="5.6"/><circle cx="417.3" cy="253.1" r="5.6"/><circle cx="414.4" cy="240.2" r="5.6"/><circle cx="664.5" cy="158.8" r="5.6"/><circle cx="630.7" cy="161.8" r="5.6"/><circle cx="1323.4" cy="150.1" r="5.6"/><circle cx="492" cy="187.7" r="5.6"/><circle cx="518.1" cy="171.4" r="5.6"/><circle cx="1029.4" cy="141" r="5.6"/><circle cx="854.8" cy="77.9" r="5.6"/><circle cx="739.3" cy="132.4" r="5.6"/><circle cx="1070.2" cy="149.2" r="5.6"/><circle cx="1175.2" cy="140.1" r="5.6"/><circle cx="864.3" cy="116.5" r="5.6"/><circle cx="1083.1" cy="111.5" r="5.6"/><circle cx="1104.7" cy="136.3" r="5.6"/><circle cx="827.4" cy="113.8" r="5.6"/><circle cx="1083.3" cy="138.4" r="5.6"/><circle cx="1260.3" cy="128" r="5.6"/><circle cx="1290.5" cy="128" r="5.6"/><circle cx="1186.5" cy="113.3" r="5.6"/><circle cx="509.4" cy="193.6" r="5.6"/><circle cx="558.2" cy="196" r="5.6"/><circle cx="535.4" cy="200.1" r="5.6"/><circle cx="1204.6" cy="141.4" r="5.6"/><circle cx="1183.3" cy="123" r="5.6"/><circle cx="1048.8" cy="140.7" r="5.6"/><circle cx="1255.1" cy="118.4" r="5.6"/><circle cx="635.7" cy="147.4" r="5.6"/><circle cx="736" cy="143.2" r="5.6"/><circle cx="1282.3" cy="143" r="5.6"/><circle cx="620.2" cy="179.6" r="5.6"/><circle cx="963.4" cy="141.6" r="5.6"/><circle cx="345.5" cy="312.7" r="5.6"/><circle cx="576.3" cy="193.4" r="5.6"/><circle cx="307.5" cy="325.3" r="5.6"/><circle cx="994.6" cy="114.3" r="5.6"/><circle cx="812.1" cy="133.8" r="5.6"/><circle cx="437.4" cy="238.9" r="5.6"/><circle cx="451.8" cy="227.6" r="5.6"/><circle cx="319.6" cy="312.6" r="5.6"/><circle cx="856.9" cy="127.2" r="5.6"/><circle cx="605.6" cy="148.9" r="5.6"/><circle cx="1289.3" cy="109.2" r="5.6"/><circle cx="1272.6" cy="157.2" r="5.6"/><circle cx="889.4" cy="115.3" r="5.6"/><circle cx="914.4" cy="89.1" r="5.6"/><circle cx="809.9" cy="80" r="5.6"/><circle cx="1297.3" cy="148.4" r="5.6"/><circle cx="1155.5" cy="113.9" r="5.6"/><circle cx="877.6" cy="112.4" r="5.6"/><circle cx="232.8" cy="389.6" r="5.6"/><circle cx="1159.6" cy="124.2" r="5.6"/><circle cx="617.9" cy="153.9" r="5.6"/><circle cx="883.8" cy="117.4" r="5.6"/><circle cx="983.2" cy="126.7" r="5.6"/><circle cx="1213.5" cy="131.5" r="5.6"/><circle cx="514.1" cy="176" r="5.6"/><circle cx="497.2" cy="212.3" r="5.6"/><circle cx="515.7" cy="204.9" r="5.6"/><circle cx="567.6" cy="177.4" r="5.6"/><circle cx="1111.6" cy="122.8" r="5.6"/><circle cx="1081.7" cy="141.4" r="5.6"/><circle cx="693.2" cy="87.3" r="5.6"/><circle cx="628.7" cy="147.7" r="5.6"/><circle cx="662.9" cy="169.2" r="5.6"/><circle cx="1102.7" cy="141.6" r="5.6"/><circle cx="654.4" cy="165.5" r="5.6"/><circle cx="1057.3" cy="146" r="5.6"/><circle cx="247.4" cy="396.8" r="5.6"/><circle cx="1249.9" cy="145.4" r="5.6"/><circle cx="1209.4" cy="88.5" r="5.6"/><circle cx="612.6" cy="180.3" r="5.6"/><circle cx="1284.5" cy="147.1" r="5.6"/><circle cx="986.8" cy="109.5" r="5.6"/><circle cx="1288.5" cy="142.3" r="5.6"/><circle cx="365.7" cy="211.7" r="5.6"/><circle cx="437.7" cy="245.8" r="5.6"/><circle cx="435.5" cy="232.9" r="5.6"/><circle cx="863.9" cy="108.8" r="5.6"/><circle cx="1286.2" cy="150.9" r="5.6"/><circle cx="317.4" cy="294.8" r="5.6"/><circle cx="792.7" cy="130.7" r="5.6"/><circle cx="864.7" cy="130.4" r="5.6"/><circle cx="1314.5" cy="145.5" r="5.6"/><circle cx="1173.6" cy="122.5" r="5.6"/><circle cx="1282.7" cy="70.2" r="5.6"/><circle cx="1080.9" cy="134.5" r="5.6"/><circle cx="413.2" cy="225.4" r="5.6"/><circle cx="253.8" cy="357.4" r="5.6"/><circle cx="958.6" cy="122.9" r="5.6"/><circle cx="248.9" cy="412.2" r="5.6"/><circle cx="920.7" cy="126.4" r="5.6"/><circle cx="926.4" cy="126.2" r="5.6"/><circle cx="1215.8" cy="123.2" r="5.6"/><circle cx="833.2" cy="121.5" r="5.6"/><circle cx="1249" cy="152.5" r="5.6"/><circle cx="1181.4" cy="97" r="5.6"/><circle cx="798.4" cy="71.4" r="5.6"/><circle cx="422.3" cy="252.7" r="5.6"/><circle cx="548.1" cy="179.2" r="5.6"/><circle cx="854.5" cy="127.3" r="5.6"/><circle cx="804.3" cy="121" r="5.6"/><circle cx="784.6" cy="132.7" r="5.6"/><circle cx="935.3" cy="119.6" r="5.6"/><circle cx="785.7" cy="128.6" r="5.6"/><circle cx="1311.7" cy="148.1" r="5.6"/><circle cx="493" cy="175.4" r="5.6"/><circle cx="1236.8" cy="129.7" r="5.6"/><circle cx="849.9" cy="85.6" r="5.6"/><circle cx="768.7" cy="139.5" r="5.6"/><circle cx="791.9" cy="125.4" r="5.6"/><circle cx="471.5" cy="192.1" r="5.6"/><circle cx="1252.7" cy="133.2" r="5.6"/><circle cx="1024.1" cy="121.9" r="5.6"/><circle cx="428.1" cy="242.5" r="5.6"/><circle cx="1255.5" cy="155.3" r="5.6"/><circle cx="613.9" cy="171.6" r="5.6"/><circle cx="1269.9" cy="128.4" r="5.6"/><circle cx="974.6" cy="143.7" r="5.6"/><circle cx="1201.8" cy="128.4" r="5.6"/><circle cx="1004.7" cy="126.8" r="5.6"/><circle cx="925.3" cy="134.6" r="5.6"/><circle cx="1087.5" cy="123.5" r="5.6"/><circle cx="865.5" cy="86.7" r="5.6"/><circle cx="779.5" cy="128.3" r="5.6"/><circle cx="257.5" cy="348.8" r="5.6"/><circle cx="959.5" cy="117.7" r="5.6"/><circle cx="806.1" cy="126.1" r="5.6"/><circle cx="440.5" cy="225" r="5.6"/><circle cx="599.9" cy="146" r="5.6"/><circle cx="1291.6" cy="143.4" r="5.6"/><circle cx="1093.6" cy="136.7" r="5.6"/><circle cx="813.6" cy="117.9" r="5.6"/><circle cx="1192" cy="125.5" r="5.6"/><circle cx="1060.7" cy="144.8" r="5.6"/><circle cx="878.4" cy="124.7" r="5.6"/><circle cx="309.9" cy="328.6" r="5.6"/><circle cx="1288.1" cy="134.5" r="5.6"/><circle cx="684.7" cy="157.7" r="5.6"/><circle cx="1299.4" cy="151.8" r="5.6"/><circle cx="995.1" cy="119.3" r="5.6"/><circle cx="945.6" cy="102.2" r="5.6"/><circle cx="819.4" cy="134.8" r="5.6"/><circle cx="295.4" cy="330.1" r="5.6"/><circle cx="1033" cy="123.1" r="5.6"/><circle cx="1085.6" cy="131.6" r="5.6"/><circle cx="740.2" cy="132" r="5.6"/><circle cx="760.5" cy="101.6" r="5.6"/><circle cx="294.4" cy="352.8" r="5.6"/><circle cx="719.1" cy="148.9" r="5.6"/><circle cx="869.9" cy="107.8" r="5.6"/><circle cx="955.1" cy="121.3" r="5.6"/><circle cx="283.7" cy="361" r="5.6"/><circle cx="759.2" cy="135.5" r="5.6"/><circle cx="667.2" cy="151.2" r="5.6"/><circle cx="1293.5" cy="118.4" r="5.6"/><circle cx="886.2" cy="132.6" r="5.6"/><circle cx="365.5" cy="294.2" r="5.6"/><circle cx="798.3" cy="126.2" r="5.6"/><circle cx="1219.3" cy="138.8" r="5.6"/><circle cx="1020.1" cy="135.2" r="5.6"/><circle cx="718.2" cy="140.5" r="5.6"/><circle cx="926.3" cy="123.5" r="5.6"/><circle cx="1092.1" cy="135.7" r="5.6"/><circle cx="1210.9" cy="127.2" r="5.6"/><circle cx="1231.5" cy="75.1" r="5.6"/><circle cx="678.8" cy="149.9" r="5.6"/><circle cx="561.7" cy="152.1" r="5.6"/><circle cx="976.4" cy="132.4" r="5.6"/><circle cx="483.5" cy="210" r="5.6"/><circle cx="612.3" cy="178.1" r="5.6"/><circle cx="1085" cy="145.7" r="5.6"/><circle cx="298.5" cy="305.4" r="5.6"/><circle cx="667.5" cy="155.7" r="5.6"/><circle cx="1079.8" cy="124.4" r="5.6"/><circle cx="512" cy="195.9" r="5.6"/><circle cx="1330.6" cy="155" r="5.6"/><circle cx="593.5" cy="139.1" r="5.6"/><circle cx="863.2" cy="119.7" r="5.6"/><circle cx="417.9" cy="206.8" r="5.6"/><circle cx="553.8" cy="185.8" r="5.6"/><circle cx="906.3" cy="124" r="5.6"/><circle cx="1335.2" cy="145.8" r="5.6"/><circle cx="624.5" cy="150.1" r="5.6"/><circle cx="566.3" cy="181.9" r="5.6"/><circle cx="655.1" cy="162.3" r="5.6"/><circle cx="830" cy="131.6" r="5.6"/><circle cx="963.5" cy="132.1" r="5.6"/><circle cx="1203.2" cy="88.6" r="5.6"/><circle cx="430" cy="255.9" r="5.6"/><circle cx="1054.5" cy="148.4" r="5.6"/><circle cx="1006" cy="148.9" r="5.6"/><circle cx="1188.7" cy="137.5" r="5.6"/><circle cx="1010.3" cy="143.9" r="5.6"/><circle cx="475.1" cy="218" r="5.6"/><circle cx="1136.1" cy="124.8" r="5.6"/><circle cx="1330.5" cy="145.5" r="5.6"/><circle cx="921.7" cy="137.4" r="5.6"/><circle cx="611.8" cy="176.4" r="5.6"/><circle cx="1250.8" cy="124" r="5.6"/><circle cx="627.3" cy="154.1" r="5.6"/><circle cx="1214.4" cy="99.1" r="5.6"/><circle cx="637.4" cy="172.3" r="5.6"/><circle cx="284.4" cy="373.6" r="5.6"/><circle cx="836.6" cy="113.9" r="5.6"/><circle cx="899.9" cy="96.4" r="5.6"/><circle cx="345.4" cy="270.2" r="5.6"/><circle cx="535.5" cy="180.3" r="5.6"/><circle cx="752.3" cy="139.1" r="5.6"/><circle cx="628.1" cy="165.3" r="5.6"/><circle cx="557.2" cy="195.9" r="5.6"/><circle cx="890.9" cy="121.7" r="5.6"/><circle cx="1173.6" cy="126.9" r="5.6"/><circle cx="579.1" cy="171.6" r="5.6"/><circle cx="965.9" cy="120" r="5.6"/><circle cx="691.8" cy="153" r="5.6"/><circle cx="753.6" cy="132.4" r="5.6"/><circle cx="1109.7" cy="96.2" r="5.6"/><circle cx="256.7" cy="410.1" r="5.6"/><circle cx="922.5" cy="124.2" r="5.6"/><circle cx="1198.8" cy="110.6" r="5.6"/><circle cx="1001.9" cy="120" r="5.6"/><circle cx="674.3" cy="157.6" r="5.6"/><circle cx="1335.4" cy="117.2" r="5.6"/><circle cx="836.9" cy="119.2" r="5.6"/><circle cx="1191.4" cy="133.4" r="5.6"/><circle cx="246.9" cy="404.9" r="5.6"/><circle cx="355.1" cy="221.8" r="5.6"/><circle cx="1080.5" cy="134.1" r="5.6"/><circle cx="424.8" cy="202.3" r="5.6"/><circle cx="473.3" cy="206" r="5.6"/><circle cx="875" cy="108.2" r="5.6"/><circle cx="476.9" cy="215.7" r="5.6"/><circle cx="1080" cy="149.6" r="5.6"/><circle cx="853.9" cy="132.7" r="5.6"/><circle cx="523.9" cy="186.1" r="5.6"/><circle cx="295.7" cy="302.2" r="5.6"/><circle cx="456.6" cy="234.3" r="5.6"/><circle cx="1298.3" cy="144.7" r="5.6"/><circle cx="1153.5" cy="135.3" r="5.6"/><circle cx="916.7" cy="88.6" r="5.6"/><circle cx="858.8" cy="128.9" r="5.6"/><circle cx="512.8" cy="209.5" r="5.6"/><circle cx="1309.8" cy="146.8" r="5.6"/><circle cx="1253.2" cy="123.8" r="5.6"/><circle cx="439.5" cy="244.9" r="5.6"/><circle cx="1011.7" cy="78.7" r="5.6"/><circle cx="930.8" cy="130.1" r="5.6"/><circle cx="781.2" cy="135.9" r="5.6"/><circle cx="659.5" cy="150.4" r="5.6"/><circle cx="645.2" cy="160.5" r="5.6"/><circle cx="891.4" cy="89.1" r="5.6"/><circle cx="788.8" cy="129.6" r="5.6"/><circle cx="860.9" cy="123.4" r="5.6"/><circle cx="1038.5" cy="155.6" r="5.6"/><circle cx="269.2" cy="372.4" r="5.6"/><circle cx="921.6" cy="118.2" r="5.6"/><circle cx="1036" cy="155.1" r="5.6"/><circle cx="396.4" cy="266.8" r="5.6"/><circle cx="1208" cy="125.4" r="5.6"/><circle cx="901.6" cy="88.9" r="5.6"/><circle cx="357.3" cy="290.2" r="5.6"/><circle cx="455.2" cy="230.7" r="5.6"/><circle cx="828" cy="121.5" r="5.6"/><circle cx="864.3" cy="118.8" r="5.6"/><circle cx="759.9" cy="142.6" r="5.6"/><circle cx="447.2" cy="249.8" r="5.6"/><circle cx="886" cy="124.5" r="5.6"/><circle cx="1278.1" cy="152.6" r="5.6"/><circle cx="1020.1" cy="142.4" r="5.6"/><circle cx="1242.9" cy="143.4" r="5.6"/><circle cx="557.9" cy="176.5" r="5.6"/><circle cx="1261.2" cy="150.7" r="5.6"/><circle cx="1181.3" cy="108" r="5.6"/><circle cx="1322.5" cy="136.7" r="5.6"/><circle cx="635" cy="166.6" r="5.6"/><circle cx="1231.4" cy="131.8" r="5.6"/><circle cx="1343.9" cy="125.1" r="5.6"/><circle cx="1300.9" cy="150.9" r="5.6"/><circle cx="859.8" cy="133.9" r="5.6"/><circle cx="301.2" cy="339.6" r="5.6"/><circle cx="907.4" cy="128.8" r="5.6"/><circle cx="1186.1" cy="61.8" r="5.6"/><circle cx="638.9" cy="151.2" r="5.6"/><circle cx="1177.1" cy="135" r="5.6"/><circle cx="609.8" cy="173.4" r="5.6"/><circle cx="597.3" cy="117.9" r="5.6"/><circle cx="304.6" cy="339.8" r="5.6"/><circle cx="1036.3" cy="119.4" r="5.6"/><circle cx="700.5" cy="150.9" r="5.6"/><circle cx="580.1" cy="184" r="5.6"/><circle cx="457.9" cy="227.4" r="5.6"/><circle cx="692.8" cy="160.5" r="5.6"/><circle cx="869" cy="119.8" r="5.6"/><circle cx="296.8" cy="355.9" r="5.6"/><circle cx="1149.6" cy="115.6" r="5.6"/><circle cx="1184.9" cy="125.1" r="5.6"/><circle cx="946.1" cy="130.3" r="5.6"/><circle cx="265.2" cy="393.6" r="5.6"/><circle cx="374.6" cy="240.1" r="5.6"/><circle cx="365.9" cy="264.7" r="5.6"/><circle cx="848.7" cy="123.8" r="5.6"/><circle cx="985.7" cy="78.7" r="5.6"/><circle cx="1093.9" cy="127.3" r="5.6"/><circle cx="244" cy="414.3" r="5.6"/><circle cx="799" cy="118.7" r="5.6"/><circle cx="378.4" cy="263" r="5.6"/><circle cx="1114.3" cy="136.4" r="5.6"/><circle cx="794.9" cy="110.4" r="5.6"/><circle cx="1256.6" cy="139.4" r="5.6"/><circle cx="766" cy="140.8" r="5.6"/><circle cx="283.6" cy="371.6" r="5.6"/><circle cx="399.7" cy="259.1" r="5.6"/><circle cx="1081.9" cy="136.1" r="5.6"/><circle cx="641.4" cy="136.1" r="5.6"/><circle cx="769.5" cy="132.3" r="5.6"/><circle cx="1223" cy="108.9" r="5.6"/><circle cx="983.4" cy="135.5" r="5.6"/><circle cx="905.4" cy="137.9" r="5.6"/><circle cx="605.1" cy="155" r="5.6"/><circle cx="273.4" cy="367.6" r="5.6"/><circle cx="1112" cy="133.2" r="5.6"/><circle cx="903.6" cy="120.3" r="5.6"/><circle cx="1252.5" cy="151.7" r="5.6"/><circle cx="1288" cy="134.3" r="5.6"/><circle cx="1037.8" cy="109.7" r="5.6"/><circle cx="277.3" cy="374.2" r="5.6"/><circle cx="1289.4" cy="112.6" r="5.6"/><circle cx="846.3" cy="122.1" r="5.6"/><circle cx="1059.8" cy="122.9" r="5.6"/><circle cx="699.7" cy="143.2" r="5.6"/><circle cx="747.9" cy="136.7" r="5.6"/><circle cx="420.7" cy="244" r="5.6"/><circle cx="637.7" cy="161.8" r="5.6"/><circle cx="1316.7" cy="133.5" r="5.6"/><circle cx="1014.1" cy="131.9" r="5.6"/><circle cx="1088.9" cy="135.4" r="5.6"/><circle cx="1311.3" cy="147.7" r="5.6"/><circle cx="648.7" cy="160.8" r="5.6"/><circle cx="952.4" cy="127.3" r="5.6"/><circle cx="1174.5" cy="112.5" r="5.6"/><circle cx="1171" cy="130.7" r="5.6"/><circle cx="511.6" cy="216.4" r="5.6"/><circle cx="1257.4" cy="146.1" r="5.6"/><circle cx="362.3" cy="275.1" r="5.6"/><circle cx="325.4" cy="278.1" r="5.6"/><circle cx="1208.9" cy="131.6" r="5.6"/><circle cx="456.4" cy="221.6" r="5.6"/><circle cx="1043.5" cy="154.5" r="5.6"/><circle cx="1125.3" cy="129.8" r="5.6"/><circle cx="365.5" cy="253.5" r="5.6"/><circle cx="248.8" cy="384.1" r="5.6"/><circle cx="270.8" cy="379" r="5.6"/><circle cx="632.4" cy="142.8" r="5.6"/><circle cx="871.3" cy="133.7" r="5.6"/><circle cx="332.3" cy="311.9" r="5.6"/><circle cx="688.9" cy="165.5" r="5.6"/><circle cx="875.3" cy="100.1" r="5.6"/><circle cx="1075.6" cy="130.8" r="5.6"/><circle cx="1097.6" cy="119.9" r="5.6"/><circle cx="821.9" cy="126.1" r="5.6"/><circle cx="1025.7" cy="128.2" r="5.6"/><circle cx="1110" cy="104" r="5.6"/><circle cx="393.5" cy="278.4" r="5.6"/><circle cx="576.5" cy="183.4" r="5.6"/><circle cx="543.1" cy="201.1" r="5.6"/><circle cx="1126.3" cy="142.5" r="5.6"/><circle cx="309.2" cy="298.7" r="5.6"/><circle cx="974.3" cy="130.8" r="5.6"/><circle cx="458.2" cy="233" r="5.6"/><circle cx="350.8" cy="300.1" r="5.6"/><circle cx="879.4" cy="138.4" r="5.6"/><circle cx="1161.8" cy="122.8" r="5.6"/><circle cx="1151.2" cy="57.3" r="5.6"/><circle cx="1073.5" cy="123.9" r="5.6"/><circle cx="464.2" cy="226.6" r="5.6"/><circle cx="1233.8" cy="96.6" r="5.6"/><circle cx="373.9" cy="284.8" r="5.6"/><circle cx="1033.4" cy="120.9" r="5.6"/><circle cx="740.5" cy="134.7" r="5.6"/><circle cx="738.5" cy="131.9" r="5.6"/><circle cx="595.3" cy="176.8" r="5.6"/><circle cx="662.7" cy="154.1" r="5.6"/><circle cx="320.5" cy="244.6" r="5.6"/><circle cx="265.6" cy="375.9" r="5.6"/><circle cx="384.6" cy="232.3" r="5.6"/><circle cx="428.3" cy="258.3" r="5.6"/><circle cx="488.9" cy="174.3" r="5.6"/><circle cx="442.3" cy="213.1" r="5.6"/><circle cx="569.1" cy="187.4" r="5.6"/><circle cx="1115.3" cy="141.9" r="5.6"/><circle cx="1256" cy="141.3" r="5.6"/><circle cx="1276" cy="160.3" r="5.6"/><circle cx="455.2" cy="234" r="5.6"/><circle cx="724.1" cy="124.9" r="5.6"/><circle cx="1195.2" cy="120.5" r="5.6"/><circle cx="549.9" cy="198.1" r="5.6"/><circle cx="894.3" cy="99.7" r="5.6"/><circle cx="505.2" cy="202.9" r="5.6"/><circle cx="302.2" cy="335.2" r="5.6"/><circle cx="677.1" cy="148.3" r="5.6"/><circle cx="250.7" cy="401" r="5.6"/><circle cx="652.4" cy="158.7" r="5.6"/><circle cx="562.1" cy="188.5" r="5.6"/><circle cx="767" cy="145" r="5.6"/><circle cx="633" cy="166" r="5.6"/><circle cx="258.8" cy="353.2" r="5.6"/><circle cx="781" cy="134.4" r="5.6"/><circle cx="792" cy="117.7" r="5.6"/><circle cx="1226.9" cy="119.7" r="5.6"/><circle cx="745.7" cy="134.5" r="5.6"/><circle cx="816.6" cy="113.3" r="5.6"/><circle cx="917.9" cy="126.1" r="5.6"/><circle cx="287.2" cy="358.7" r="5.6"/><circle cx="415.2" cy="261.7" r="5.6"/><circle cx="776.4" cy="116.2" r="5.6"/><circle cx="1215.2" cy="136" r="5.6"/><circle cx="1048.3" cy="114.7" r="5.6"/><circle cx="538.2" cy="184.7" r="5.6"/><circle cx="819.5" cy="133.5" r="5.6"/><circle cx="608.4" cy="156.4" r="5.6"/><circle cx="370.1" cy="286.5" r="5.6"/><circle cx="354.2" cy="288.2" r="5.6"/><circle cx="716.4" cy="145.2" r="5.6"/><circle cx="1268.7" cy="108.2" r="5.6"/><circle cx="486.2" cy="208.6" r="5.6"/><circle cx="906.8" cy="133.2" r="5.6"/><circle cx="579.6" cy="185.4" r="5.6"/><circle cx="1045.4" cy="109.8" r="5.6"/><circle cx="495.8" cy="185.6" r="5.6"/><circle cx="525.1" cy="143.3" r="5.6"/><circle cx="1029.6" cy="141.4" r="5.6"/><circle cx="1086.1" cy="132.2" r="5.6"/><circle cx="816.5" cy="115.4" r="5.6"/><circle cx="943.5" cy="138.5" r="5.6"/><circle cx="1289.4" cy="109" r="5.6"/><circle cx="1176.5" cy="109.2" r="5.6"/><circle cx="314.7" cy="284.8" r="5.6"/><circle cx="280.4" cy="330.5" r="5.6"/><circle cx="1226.6" cy="53.1" r="5.6"/><circle cx="983.8" cy="125.5" r="5.6"/><circle cx="641.1" cy="151.2" r="5.6"/><circle cx="1233.8" cy="122.9" r="5.6"/><circle cx="746.5" cy="140.5" r="5.6"/><circle cx="989.5" cy="122.9" r="5.6"/><circle cx="236.2" cy="419.6" r="5.6"/><circle cx="478.5" cy="200" r="5.6"/><circle cx="985.1" cy="145.1" r="5.6"/><circle cx="909.7" cy="115.4" r="5.6"/><circle cx="626.3" cy="163.7" r="5.6"/><circle cx="971.1" cy="139.9" r="5.6"/><circle cx="1246" cy="128" r="5.6"/><circle cx="1131.4" cy="80.8" r="5.6"/><circle cx="1333.9" cy="136.4" r="5.6"/><circle cx="915.7" cy="123.8" r="5.6"/><circle cx="913.3" cy="119.5" r="5.6"/><circle cx="1156.5" cy="124" r="5.6"/><circle cx="892.5" cy="106.1" r="5.6"/><circle cx="1334.8" cy="148.7" r="5.6"/><circle cx="673.6" cy="162.2" r="5.6"/><circle cx="623" cy="107.1" r="5.6"/><circle cx="537.8" cy="200.9" r="5.6"/><circle cx="671.6" cy="164.6" r="5.6"/><circle cx="702.8" cy="130.2" r="5.6"/><circle cx="1319.7" cy="150.9" r="5.6"/><circle cx="483.8" cy="220.2" r="5.6"/><circle cx="556.5" cy="183.6" r="5.6"/><circle cx="827.3" cy="130.7" r="5.6"/><circle cx="548.7" cy="178.6" r="5.6"/><circle cx="894.1" cy="104.4" r="5.6"/><circle cx="293.5" cy="321.1" r="5.6"/><circle cx="1333.1" cy="124.1" r="5.6"/><circle cx="863.2" cy="117.5" r="5.6"/><circle cx="800" cy="137.4" r="5.6"/><circle cx="660.3" cy="169.2" r="5.6"/><circle cx="521" cy="205" r="5.6"/><circle cx="588" cy="160" r="5.6"/><circle cx="1221.4" cy="90.3" r="5.6"/><circle cx="1149.1" cy="137.4" r="5.6"/><circle cx="316.1" cy="236.7" r="5.6"/><circle cx="1030.2" cy="129" r="5.6"/><circle cx="1114.8" cy="147.9" r="5.6"/><circle cx="1143" cy="124.6" r="5.6"/><circle cx="263" cy="397.5" r="5.6"/><circle cx="1261.9" cy="125.7" r="5.6"/><circle cx="1034.5" cy="125.2" r="5.6"/><circle cx="1090.7" cy="130" r="5.6"/><circle cx="817.2" cy="126.5" r="5.6"/><circle cx="1221.3" cy="136.2" r="5.6"/><circle cx="640.3" cy="162.3" r="5.6"/><circle cx="1304.3" cy="136.6" r="5.6"/><circle cx="887.6" cy="126.2" r="5.6"/><circle cx="286.8" cy="342.5" r="5.6"/><circle cx="561.5" cy="188.4" r="5.6"/><circle cx="263.8" cy="376.5" r="5.6"/><circle cx="1290.7" cy="153.2" r="5.6"/><circle cx="824.6" cy="125.7" r="5.6"/><circle cx="910.2" cy="96.7" r="5.6"/><circle cx="1013.4" cy="144.5" r="5.6"/><circle cx="1159.2" cy="107.2" r="5.6"/><circle cx="1251.2" cy="97.5" r="5.6"/><circle cx="289.1" cy="280.3" r="5.6"/><circle cx="560.7" cy="161.8" r="5.6"/><circle cx="323.6" cy="320.3" r="5.6"/><circle cx="917.7" cy="112.5" r="5.6"/><circle cx="826.8" cy="132.2" r="5.6"/><circle cx="1131.3" cy="139.5" r="5.6"/><circle cx="503.7" cy="171.5" r="5.6"/><circle cx="848.7" cy="123.4" r="5.6"/><circle cx="1287" cy="128.4" r="5.6"/><circle cx="453.5" cy="233.1" r="5.6"/><circle cx="331.7" cy="298.4" r="5.6"/><circle cx="1177.1" cy="99.7" r="5.6"/><circle cx="1327.6" cy="153.8" r="5.6"/><circle cx="1280.3" cy="145.2" r="5.6"/><circle cx="372.7" cy="247.8" r="5.6"/><circle cx="762.2" cy="141.3" r="5.6"/><circle cx="384.4" cy="261" r="5.6"/><circle cx="1123.4" cy="102.1" r="5.6"/><circle cx="570.4" cy="177.1" r="5.6"/><circle cx="1197.7" cy="123.8" r="5.6"/><circle cx="775.5" cy="107.9" r="5.6"/><circle cx="1154.8" cy="100.2" r="5.6"/><circle cx="616.4" cy="157.7" r="5.6"/><circle cx="1329.9" cy="147" r="5.6"/><circle cx="1196.3" cy="83.3" r="5.6"/><circle cx="1214.3" cy="90.5" r="5.6"/><circle cx="918.5" cy="134.5" r="5.6"/><circle cx="1292.1" cy="137.1" r="5.6"/><circle cx="865.5" cy="130.3" r="5.6"/><circle cx="321.2" cy="279.3" r="5.6"/><circle cx="1181.9" cy="127" r="5.6"/><circle cx="866.2" cy="118.3" r="5.6"/><circle cx="742.4" cy="139.2" r="5.6"/><circle cx="320.3" cy="331.2" r="5.6"/><circle cx="910.9" cy="104.7" r="5.6"/><circle cx="409.7" cy="219.7" r="5.6"/><circle cx="951.3" cy="115" r="5.6"/><circle cx="454.3" cy="197.2" r="5.6"/><circle cx="889.9" cy="120.9" r="5.6"/><circle cx="854" cy="130" r="5.6"/><circle cx="461.9" cy="229.5" r="5.6"/><circle cx="1130.7" cy="95.1" r="5.6"/><circle cx="249.1" cy="408.9" r="5.6"/><circle cx="1246.8" cy="118.1" r="5.6"/><circle cx="907.2" cy="131.3" r="5.6"/><circle cx="519.3" cy="192.1" r="5.6"/><circle cx="616.8" cy="162.5" r="5.6"/><circle cx="951.9" cy="124.7" r="5.6"/><circle cx="276.2" cy="365" r="5.6"/><circle cx="1096.4" cy="147.7" r="5.6"/><circle cx="535.8" cy="157.5" r="5.6"/><circle cx="1160.9" cy="58.6" r="5.6"/><circle cx="1272.9" cy="137.2" r="5.6"/><circle cx="592.4" cy="170.5" r="5.6"/><circle cx="946.5" cy="110.4" r="5.6"/><circle cx="482.5" cy="211.7" r="5.6"/><circle cx="1174.2" cy="124.3" r="5.6"/><circle cx="906.2" cy="123.3" r="5.6"/><circle cx="852.7" cy="115.9" r="5.6"/><circle cx="369.5" cy="239.2" r="5.6"/><circle cx="558.3" cy="185.9" r="5.6"/><circle cx="430.4" cy="247.8" r="5.6"/><circle cx="542.2" cy="194.2" r="5.6"/><circle cx="814.7" cy="133.6" r="5.6"/><circle cx="900" cy="117.3" r="5.6"/><circle cx="913.7" cy="127.4" r="5.6"/><circle cx="998.4" cy="142.4" r="5.6"/><circle cx="883.6" cy="73.9" r="5.6"/><circle cx="842.9" cy="106.8" r="5.6"/><circle cx="646.6" cy="165.9" r="5.6"/><circle cx="1032.5" cy="153.3" r="5.6"/><circle cx="1325.1" cy="149.5" r="5.6"/><circle cx="923.5" cy="120.8" r="5.6"/><circle cx="251.3" cy="373.6" r="5.6"/><circle cx="1103.3" cy="137.6" r="5.6"/><circle cx="904.2" cy="118.3" r="5.6"/><circle cx="974.5" cy="120.4" r="5.6"/><circle cx="983.3" cy="119.8" r="5.6"/><circle cx="1311.5" cy="138.7" r="5.6"/><circle cx="801.2" cy="124" r="5.6"/><circle cx="1220.9" cy="139.7" r="5.6"/><circle cx="1243.2" cy="137.2" r="5.6"/><circle cx="743.9" cy="140.5" r="5.6"/><circle cx="723" cy="114.2" r="5.6"/><circle cx="832.1" cy="124.3" r="5.6"/><circle cx="1113.8" cy="123.1" r="5.6"/><circle cx="1294.6" cy="134.9" r="5.6"/><circle cx="841.3" cy="94.6" r="5.6"/><circle cx="953.1" cy="123.2" r="5.6"/><circle cx="409.4" cy="249.5" r="5.6"/><circle cx="901.4" cy="129.4" r="5.6"/><circle cx="758.9" cy="122.8" r="5.6"/><circle cx="840.1" cy="123.3" r="5.6"/><circle cx="1025.3" cy="141" r="5.6"/><circle cx="516.9" cy="211.1" r="5.6"/><circle cx="720" cy="144.9" r="5.6"/><circle cx="814" cy="123.3" r="5.6"/><circle cx="1289.3" cy="123.3" r="5.6"/><circle cx="1331.5" cy="146.9" r="5.6"/><circle cx="1142.9" cy="126.1" r="5.6"/><circle cx="427.9" cy="202.8" r="5.6"/><circle cx="416" cy="257.7" r="5.6"/><circle cx="778.5" cy="90.1" r="5.6"/><circle cx="1183.3" cy="128.9" r="5.6"/><circle cx="981.3" cy="133.6" r="5.6"/><circle cx="765.9" cy="144.5" r="5.6"/><circle cx="769.4" cy="136.1" r="5.6"/><circle cx="1128.2" cy="136.4" r="5.6"/><circle cx="333.9" cy="313.2" r="5.6"/><circle cx="997.4" cy="141.3" r="5.6"/><circle cx="884.3" cy="116.3" r="5.6"/><circle cx="738.6" cy="131.1" r="5.6"/><circle cx="326.5" cy="316" r="5.6"/><circle cx="325.7" cy="316.4" r="5.6"/><circle cx="1085.8" cy="133" r="5.6"/><circle cx="988.2" cy="58" r="5.6"/><circle cx="727.3" cy="140.3" r="5.6"/><circle cx="1164.9" cy="103.1" r="5.6"/><circle cx="1100.2" cy="138.8" r="5.6"/><circle cx="796.8" cy="133.3" r="5.6"/><circle cx="548.1" cy="196.3" r="5.6"/><circle cx="1283.6" cy="148" r="5.6"/><circle cx="779.9" cy="124.6" r="5.6"/><circle cx="965" cy="102.5" r="5.6"/><circle cx="584.7" cy="181" r="5.6"/><circle cx="1092.1" cy="147.9" r="5.6"/><circle cx="801.7" cy="136.1" r="5.6"/><circle cx="514.2" cy="208.6" r="5.6"/><circle cx="711.4" cy="135.8" r="5.6"/><circle cx="1104.2" cy="124" r="5.6"/><circle cx="779.7" cy="130.2" r="5.6"/><circle cx="1287.2" cy="146.5" r="5.6"/><circle cx="405.6" cy="260.6" r="5.6"/><circle cx="373.8" cy="231.6" r="5.6"/><circle cx="641.5" cy="175.2" r="5.6"/><circle cx="969.7" cy="141" r="5.6"/><circle cx="307.1" cy="302.4" r="5.6"/><circle cx="492.6" cy="180" r="5.6"/><circle cx="816.5" cy="125.2" r="5.6"/><circle cx="441.1" cy="224.2" r="5.6"/><circle cx="940" cy="124.7" r="5.6"/><circle cx="689.5" cy="133" r="5.6"/><circle cx="1211.9" cy="68.3" r="5.6"/><circle cx="1091.4" cy="125.6" r="5.6"/><circle cx="507.6" cy="186.4" r="5.6"/><circle cx="913.6" cy="123.1" r="5.6"/><circle cx="709.8" cy="148.2" r="5.6"/><circle cx="1007.6" cy="104.6" r="5.6"/><circle cx="581.2" cy="183.8" r="5.6"/><circle cx="1073.3" cy="127.2" r="5.6"/><circle cx="1039.4" cy="80.4" r="5.6"/><circle cx="729.2" cy="130" r="5.6"/><circle cx="1155.1" cy="127.1" r="5.6"/><circle cx="810.5" cy="121.1" r="5.6"/><circle cx="541.7" cy="142.3" r="5.6"/><circle cx="1236.9" cy="77.7" r="5.6"/><circle cx="543.1" cy="158.2" r="5.6"/><circle cx="564" cy="183.3" r="5.6"/><circle cx="1159.9" cy="133.2" r="5.6"/><circle cx="337.2" cy="300.3" r="5.6"/><circle cx="553.9" cy="194" r="5.6"/><circle cx="297.2" cy="331.9" r="5.6"/><circle cx="699.2" cy="118.9" r="5.6"/><circle cx="864.6" cy="93.6" r="5.6"/><circle cx="557.2" cy="190.2" r="5.6"/><circle cx="987.9" cy="146.3" r="5.6"/><circle cx="752.2" cy="143.6" r="5.6"/><circle cx="931.2" cy="109.1" r="5.6"/><circle cx="516.4" cy="196.7" r="5.6"/><circle cx="878.3" cy="125.5" r="5.6"/><circle cx="363.8" cy="279.6" r="5.6"/><circle cx="680.1" cy="129" r="5.6"/><circle cx="964.8" cy="137.9" r="5.6"/><circle cx="619.2" cy="179.6" r="5.6"/><circle cx="992.2" cy="141.9" r="5.6"/><circle cx="405.1" cy="253.5" r="5.6"/><circle cx="634.7" cy="169.7" r="5.6"/><circle cx="625.8" cy="157.2" r="5.6"/><circle cx="1316.7" cy="121.7" r="5.6"/><circle cx="1168" cy="95.5" r="5.6"/><circle cx="691.8" cy="140.6" r="5.6"/><circle cx="637.6" cy="169" r="5.6"/><circle cx="314.8" cy="320.2" r="5.6"/><circle cx="935.8" cy="133.8" r="5.6"/><circle cx="493.7" cy="213.3" r="5.6"/><circle cx="731.8" cy="140.4" r="5.6"/><circle cx="1297.8" cy="143.7" r="5.6"/><circle cx="827.5" cy="122.7" r="5.6"/><circle cx="320.7" cy="289.8" r="5.6"/><circle cx="1001.2" cy="119" r="5.6"/><circle cx="287.9" cy="350.8" r="5.6"/><circle cx="551.3" cy="200.7" r="5.6"/><circle cx="1075.5" cy="143.5" r="5.6"/><circle cx="1042.5" cy="146.2" r="5.6"/><circle cx="778" cy="136.5" r="5.6"/><circle cx="795.4" cy="123" r="5.6"/><circle cx="665.5" cy="134.6" r="5.6"/><circle cx="713" cy="137.3" r="5.6"/><circle cx="837.9" cy="113.8" r="5.6"/><circle cx="763.5" cy="140" r="5.6"/><circle cx="725.2" cy="126.2" r="5.6"/><circle cx="559.2" cy="174.7" r="5.6"/><circle cx="550.5" cy="185.4" r="5.6"/><circle cx="668.8" cy="159.8" r="5.6"/><circle cx="1209.7" cy="131.9" r="5.6"/><circle cx="832.4" cy="110" r="5.6"/><circle cx="717.6" cy="136.8" r="5.6"/><circle cx="958.5" cy="132.5" r="5.6"/><circle cx="463.6" cy="220.6" r="5.6"/><circle cx="293.3" cy="315.8" r="5.6"/><circle cx="762.3" cy="66.8" r="5.6"/><circle cx="1048.9" cy="130.5" r="5.6"/><circle cx="663.4" cy="163.2" r="5.6"/><circle cx="260.4" cy="392.3" r="5.6"/><circle cx="1047.4" cy="113.7" r="5.6"/><circle cx="1001.9" cy="144.9" r="5.6"/><circle cx="1266.7" cy="135.9" r="5.6"/><circle cx="800.7" cy="122.9" r="5.6"/><circle cx="451.6" cy="216.5" r="5.6"/><circle cx="916.5" cy="110.4" r="5.6"/><circle cx="434.5" cy="231.5" r="5.6"/><circle cx="529" cy="198.4" r="5.6"/><circle cx="950.5" cy="116.4" r="5.6"/><circle cx="1291.2" cy="144.5" r="5.6"/><circle cx="1264.1" cy="132.9" r="5.6"/><circle cx="1063.4" cy="124" r="5.6"/><circle cx="309.6" cy="300.9" r="5.6"/><circle cx="362.2" cy="297" r="5.6"/><circle cx="924.1" cy="113.7" r="5.6"/><circle cx="638.2" cy="148.3" r="5.6"/><circle cx="274.9" cy="317.6" r="5.6"/><circle cx="487.9" cy="178.3" r="5.6"/><circle cx="1012.4" cy="145.8" r="5.6"/><circle cx="242.9" cy="417.9" r="5.6"/><circle cx="271.6" cy="343.9" r="5.6"/><circle cx="530.3" cy="174.9" r="5.6"/><circle cx="1243.3" cy="124.6" r="5.6"/><circle cx="1055.8" cy="137.8" r="5.6"/><circle cx="1077.2" cy="144.5" r="5.6"/><circle cx="746" cy="137.8" r="5.6"/><circle cx="1109.3" cy="133.1" r="5.6"/><circle cx="534.3" cy="162.4" r="5.6"/><circle cx="263.8" cy="369.9" r="5.6"/><circle cx="853.2" cy="115.3" r="5.6"/><circle cx="419.6" cy="241.3" r="5.6"/><circle cx="537.8" cy="180.5" r="5.6"/><circle cx="588.8" cy="168.4" r="5.6"/><circle cx="1162.8" cy="100" r="5.6"/><circle cx="544.9" cy="201.2" r="5.6"/><circle cx="459.7" cy="215.1" r="5.6"/><circle cx="263.8" cy="365.5" r="5.6"/><circle cx="310.3" cy="315.6" r="5.6"/><circle cx="480.3" cy="206.2" r="5.6"/><circle cx="883.6" cy="110.5" r="5.6"/><circle cx="907.8" cy="131.7" r="5.6"/><circle cx="459.1" cy="206" r="5.6"/><circle cx="822.8" cy="103.3" r="5.6"/><circle cx="1114" cy="131.7" r="5.6"/><circle cx="929.3" cy="127" r="5.6"/><circle cx="337.1" cy="307.7" r="5.6"/><circle cx="1129.6" cy="123.9" r="5.6"/><circle cx="588.7" cy="191.2" r="5.6"/><circle cx="563.8" cy="133.1" r="5.6"/><circle cx="1094.2" cy="142.2" r="5.6"/><circle cx="321.5" cy="290.2" r="5.6"/><circle cx="1253" cy="148.3" r="5.6"/><circle cx="319.9" cy="332.9" r="5.6"/><circle cx="1280.6" cy="104.8" r="5.6"/><circle cx="333.6" cy="302" r="5.6"/><circle cx="937.9" cy="118" r="5.6"/><circle cx="391.1" cy="260.4" r="5.6"/><circle cx="1294" cy="158.4" r="5.6"/><circle cx="365.4" cy="220.4" r="5.6"/><circle cx="894.2" cy="117.2" r="5.6"/><circle cx="621.5" cy="177.2" r="5.6"/><circle cx="646" cy="162.1" r="5.6"/><circle cx="316.5" cy="327.1" r="5.6"/><circle cx="923.2" cy="129.6" r="5.6"/><circle cx="248.2" cy="410.4" r="5.6"/><circle cx="797.8" cy="120.1" r="5.6"/><circle cx="881.3" cy="128.5" r="5.6"/><circle cx="731.6" cy="142.1" r="5.6"/><circle cx="930.9" cy="137.8" r="5.6"/><circle cx="478.1" cy="225" r="5.6"/><circle cx="1302.2" cy="146.7" r="5.6"/><circle cx="840.6" cy="111.9" r="5.6"/><circle cx="475.9" cy="214.7" r="5.6"/><circle cx="1005" cy="113.7" r="5.6"/><circle cx="1183.8" cy="131.7" r="5.6"/><circle cx="899.8" cy="119.7" r="5.6"/><circle cx="847.6" cy="124.9" r="5.6"/><circle cx="326.2" cy="293" r="5.6"/><circle cx="1207.6" cy="78.3" r="5.6"/><circle cx="1307.1" cy="130.6" r="5.6"/><circle cx="658.6" cy="158.9" r="5.6"/><circle cx="306.8" cy="344.3" r="5.6"/><circle cx="768.1" cy="141.9" r="5.6"/><circle cx="1217.9" cy="131.8" r="5.6"/><circle cx="625.3" cy="160.1" r="5.6"/><circle cx="623.8" cy="155.2" r="5.6"/><circle cx="424.7" cy="256.9" r="5.6"/><circle cx="512.2" cy="177.1" r="5.6"/><circle cx="1243.5" cy="123.8" r="5.6"/><circle cx="1056.5" cy="136.4" r="5.6"/><circle cx="893.8" cy="116.1" r="5.6"/><circle cx="826.3" cy="86.9" r="5.6"/><circle cx="443.6" cy="240" r="5.6"/><circle cx="939.9" cy="129.6" r="5.6"/><circle cx="921.1" cy="128.7" r="5.6"/><circle cx="754.6" cy="143.7" r="5.6"/><circle cx="1315.5" cy="154.3" r="5.6"/><circle cx="914.7" cy="119.6" r="5.6"/><circle cx="795.9" cy="74.7" r="5.6"/><circle cx="715.8" cy="129.7" r="5.6"/><circle cx="311.4" cy="336.1" r="5.6"/><circle cx="1260.5" cy="150.6" r="5.6"/><circle cx="1222.1" cy="118.1" r="5.6"/><circle cx="1226.3" cy="87.5" r="5.6"/><circle cx="1307" cy="150.3" r="5.6"/><circle cx="1070.2" cy="144.2" r="5.6"/><circle cx="1239.7" cy="120.8" r="5.6"/><circle cx="336.3" cy="283" r="5.6"/><circle cx="1039.5" cy="140.2" r="5.6"/><circle cx="424.7" cy="233.5" r="5.6"/><circle cx="397.4" cy="247.8" r="5.6"/><circle cx="633.7" cy="167.3" r="5.6"/><circle cx="1093.8" cy="118.8" r="5.6"/><circle cx="779.3" cy="90.9" r="5.6"/><circle cx="397.9" cy="261.2" r="5.6"/><circle cx="859.6" cy="108.4" r="5.6"/><circle cx="453.9" cy="200.8" r="5.6"/><circle cx="332.9" cy="301.6" r="5.6"/><circle cx="421.4" cy="239.2" r="5.6"/><circle cx="937.7" cy="95.2" r="5.6"/><circle cx="917.4" cy="131.5" r="5.6"/><circle cx="898.2" cy="123.7" r="5.6"/><circle cx="1295.6" cy="151.9" r="5.6"/><circle cx="327" cy="320.3" r="5.6"/><circle cx="627.7" cy="180.5" r="5.6"/><circle cx="372.6" cy="264.8" r="5.6"/><circle cx="1091.4" cy="117.7" r="5.6"/><circle cx="922.9" cy="131.7" r="5.6"/><circle cx="335.9" cy="300.1" r="5.6"/><circle cx="959.8" cy="96.5" r="5.6"/><circle cx="621.6" cy="176.6" r="5.6"/><circle cx="640.8" cy="164.5" r="5.6"/><circle cx="700.1" cy="129.4" r="5.6"/><circle cx="1137.6" cy="128.3" r="5.6"/><circle cx="516.4" cy="177.8" r="5.6"/><circle cx="737.4" cy="139.3" r="5.6"/><circle cx="608.3" cy="162.3" r="5.6"/><circle cx="497.1" cy="219.3" r="5.6"/><circle cx="996" cy="101" r="5.6"/><circle cx="441" cy="234.6" r="5.6"/><circle cx="1160.9" cy="90.4" r="5.6"/><circle cx="262.4" cy="373.1" r="5.6"/><circle cx="622" cy="179.8" r="5.6"/><circle cx="466.2" cy="233.8" r="5.6"/><circle cx="357.3" cy="291" r="5.6"/><circle cx="1339" cy="135.9" r="5.6"/><circle cx="627.3" cy="128.5" r="5.6"/><circle cx="939.4" cy="123.9" r="5.6"/><circle cx="838.1" cy="127.8" r="5.6"/><circle cx="1343.2" cy="121.5" r="5.6"/><circle cx="1327.9" cy="131.6" r="5.6"/><circle cx="1117.6" cy="118.6" r="5.6"/><circle cx="563.6" cy="184.2" r="5.6"/><circle cx="817.7" cy="100.7" r="5.6"/><circle cx="671" cy="131.6" r="5.6"/><circle cx="620.7" cy="165.1" r="5.6"/><circle cx="678.2" cy="170.3" r="5.6"/><circle cx="1142" cy="120" r="5.6"/><circle cx="524.8" cy="197" r="5.6"/><circle cx="707.4" cy="137.4" r="5.6"/><circle cx="651.6" cy="161.2" r="5.6"/><circle cx="685.1" cy="85.4" r="5.6"/><circle cx="1066.9" cy="159.1" r="5.6"/><circle cx="838.5" cy="134.7" r="5.6"/><circle cx="1215.1" cy="142.8" r="5.6"/><circle cx="1299.3" cy="151.1" r="5.6"/><circle cx="1033.7" cy="133.2" r="5.6"/><circle cx="580.4" cy="173.9" r="5.6"/><circle cx="307.9" cy="302.5" r="5.6"/><circle cx="1101" cy="118.8" r="5.6"/><circle cx="719.8" cy="120.5" r="5.6"/><circle cx="1036.4" cy="126.9" r="5.6"/><circle cx="1292.5" cy="141.7" r="5.6"/><circle cx="448.2" cy="235" r="5.6"/><circle cx="1071.3" cy="59.9" r="5.6"/><circle cx="1181.2" cy="78" r="5.6"/><circle cx="1052.5" cy="151.7" r="5.6"/><circle cx="776.4" cy="141.9" r="5.6"/><circle cx="646.9" cy="160.9" r="5.6"/><circle cx="829.6" cy="133.6" r="5.6"/><circle cx="938" cy="121.4" r="5.6"/><circle cx="286.4" cy="337.2" r="5.6"/><circle cx="795.4" cy="133.5" r="5.6"/><circle cx="293.7" cy="307" r="5.6"/><circle cx="601.3" cy="181.9" r="5.6"/><circle cx="338.5" cy="275.6" r="5.6"/><circle cx="1043.8" cy="146.1" r="5.6"/><circle cx="345.9" cy="286.8" r="5.6"/><circle cx="748.2" cy="144.2" r="5.6"/><circle cx="1195.1" cy="129.5" r="5.6"/><circle cx="923.1" cy="124" r="5.6"/><circle cx="314.6" cy="273.6" r="5.6"/><circle cx="888.3" cy="103.9" r="5.6"/><circle cx="530.8" cy="139" r="5.6"/><circle cx="945.2" cy="118.7" r="5.6"/><circle cx="333" cy="314" r="5.6"/><circle cx="961.5" cy="128.1" r="5.6"/><circle cx="232.7" cy="432.1" r="5.6"/><circle cx="1248.9" cy="142.6" r="5.6"/><circle cx="435.7" cy="207.9" r="5.6"/><circle cx="1044.8" cy="137" r="5.6"/><circle cx="649.8" cy="172.4" r="5.6"/><circle cx="888.5" cy="112.9" r="5.6"/><circle cx="925.8" cy="123.5" r="5.6"/><circle cx="556.1" cy="173.8" r="5.6"/><circle cx="1101.7" cy="127.3" r="5.6"/><circle cx="461.8" cy="236.5" r="5.6"/><circle cx="267.9" cy="385" r="5.6"/><circle cx="760.9" cy="131.9" r="5.6"/><circle cx="1328.2" cy="108.3" r="5.6"/><circle cx="249.3" cy="388.2" r="5.6"/><circle cx="1262" cy="111.8" r="5.6"/><circle cx="1048.5" cy="103.1" r="5.6"/><circle cx="1312.4" cy="134.2" r="5.6"/><circle cx="1013.3" cy="137.7" r="5.6"/><circle cx="1266.8" cy="131.8" r="5.6"/><circle cx="730" cy="120.1" r="5.6"/><circle cx="769" cy="103.8" r="5.6"/><circle cx="481.6" cy="162" r="5.6"/><circle cx="1274.9" cy="150" r="5.6"/><circle cx="245.8" cy="404.7" r="5.6"/><circle cx="964" cy="116" r="5.6"/><circle cx="1244.8" cy="143.3" r="5.6"/><circle cx="678.6" cy="142.8" r="5.6"/><circle cx="1334.8" cy="119.9" r="5.6"/><circle cx="1055.1" cy="119.7" r="5.6"/><circle cx="988" cy="114.6" r="5.6"/><circle cx="407" cy="239.7" r="5.6"/><circle cx="443" cy="205.9" r="5.6"/><circle cx="404.5" cy="238.6" r="5.6"/><circle cx="1242.5" cy="146.7" r="5.6"/><circle cx="1284.5" cy="156.8" r="5.6"/><circle cx="843.8" cy="92.7" r="5.6"/><circle cx="690.6" cy="161.6" r="5.6"/><circle cx="588.4" cy="192.8" r="5.6"/><circle cx="1289.2" cy="149.7" r="5.6"/><circle cx="692.6" cy="164.1" r="5.6"/><circle cx="781.4" cy="107.3" r="5.6"/><circle cx="413.5" cy="213.5" r="5.6"/><circle cx="256.9" cy="395.3" r="5.6"/><circle cx="1187.8" cy="137.4" r="5.6"/><circle cx="629.7" cy="156.4" r="5.6"/><circle cx="310.2" cy="323.8" r="5.6"/><circle cx="850.1" cy="112.4" r="5.6"/><circle cx="810.3" cy="110.8" r="5.6"/><circle cx="447.1" cy="242.7" r="5.6"/><circle cx="663" cy="141.8" r="5.6"/><circle cx="1010" cy="141.1" r="5.6"/><circle cx="790.6" cy="92" r="5.6"/><circle cx="940.3" cy="120.2" r="5.6"/><circle cx="430.2" cy="242.7" r="5.6"/><circle cx="1093.8" cy="141.4" r="5.6"/><circle cx="777.8" cy="135.6" r="5.6"/><circle cx="1103" cy="106.7" r="5.6"/><circle cx="373.1" cy="287.1" r="5.6"/><circle cx="733.9" cy="144.2" r="5.6"/><circle cx="824.9" cy="126.7" r="5.6"/><circle cx="988.6" cy="128" r="5.6"/><circle cx="781.4" cy="131.8" r="5.6"/><circle cx="891.7" cy="131.2" r="5.6"/><circle cx="510.4" cy="204.1" r="5.6"/><circle cx="1305.5" cy="132.4" r="5.6"/><circle cx="796.9" cy="136.9" r="5.6"/><circle cx="451.1" cy="216" r="5.6"/><circle cx="1192.8" cy="132.1" r="5.6"/><circle cx="256.8" cy="394.9" r="5.6"/><circle cx="953.3" cy="129.2" r="5.6"/><circle cx="722.6" cy="147.2" r="5.6"/><circle cx="848.8" cy="133.6" r="5.6"/><circle cx="483.1" cy="209.3" r="5.6"/><circle cx="1183.3" cy="111" r="5.6"/><circle cx="800.8" cy="125.5" r="5.6"/><circle cx="725" cy="123.4" r="5.6"/><circle cx="1324.4" cy="127.9" r="5.6"/><circle cx="889.9" cy="129.2" r="5.6"/><circle cx="1158.9" cy="138.8" r="5.6"/><circle cx="985.7" cy="136.7" r="5.6"/><circle cx="701.1" cy="139.8" r="5.6"/><circle cx="934.2" cy="105.8" r="5.6"/><circle cx="766.6" cy="136" r="5.6"/><circle cx="974.5" cy="137.3" r="5.6"/><circle cx="542.9" cy="197.6" r="5.6"/><circle cx="512.5" cy="200" r="5.6"/><circle cx="945.5" cy="123.9" r="5.6"/><circle cx="667" cy="160" r="5.6"/><circle cx="462.1" cy="172" r="5.6"/><circle cx="481.3" cy="197.1" r="5.6"/><circle cx="431.6" cy="234.7" r="5.6"/><circle cx="801.3" cy="124.9" r="5.6"/><circle cx="1034.3" cy="131.8" r="5.6"/><circle cx="755.3" cy="122.2" r="5.6"/><circle cx="322.9" cy="289" r="5.6"/><circle cx="1299.9" cy="148.7" r="5.6"/><circle cx="753.5" cy="86" r="5.6"/><circle cx="512" cy="201.8" r="5.6"/><circle cx="724.2" cy="133.5" r="5.6"/><circle cx="1273.5" cy="158" r="5.6"/><circle cx="305.1" cy="341.8" r="5.6"/><circle cx="720.6" cy="117" r="5.6"/><circle cx="643.4" cy="167.8" r="5.6"/><circle cx="635.7" cy="161" r="5.6"/><circle cx="571.2" cy="179.7" r="5.6"/><circle cx="808.6" cy="123" r="5.6"/><circle cx="1055.6" cy="138.4" r="5.6"/><circle cx="1281.5" cy="151.6" r="5.6"/><circle cx="696" cy="147.3" r="5.6"/><circle cx="1190" cy="133.3" r="5.6"/><circle cx="910.1" cy="129.7" r="5.6"/><circle cx="379.7" cy="255.9" r="5.6"/><circle cx="1277.6" cy="154.2" r="5.6"/><circle cx="973.6" cy="137.7" r="5.6"/><circle cx="782.3" cy="101.6" r="5.6"/><circle cx="664.6" cy="153.6" r="5.6"/><circle cx="783.2" cy="112.3" r="5.6"/><circle cx="691.9" cy="141.7" r="5.6"/><circle cx="1171.8" cy="93.3" r="5.6"/><circle cx="1096.7" cy="146.3" r="5.6"/><circle cx="568.7" cy="187.9" r="5.6"/><circle cx="714.8" cy="133.8" r="5.6"/><circle cx="541.3" cy="196.8" r="5.6"/><circle cx="704.8" cy="149.7" r="5.6"/><circle cx="1325.3" cy="145.9" r="5.6"/><circle cx="808.9" cy="136.6" r="5.6"/><circle cx="273.9" cy="351" r="5.6"/><circle cx="1334.6" cy="140.4" r="5.6"/><circle cx="351" cy="270.5" r="5.6"/><circle cx="625.8" cy="140.8" r="5.6"/><circle cx="486.4" cy="206.6" r="5.6"/><circle cx="575.7" cy="179.7" r="5.6"/><circle cx="871.3" cy="128.6" r="5.6"/><circle cx="1281.5" cy="154.3" r="5.6"/><circle cx="575" cy="172.1" r="5.6"/><circle cx="381.6" cy="222.2" r="5.6"/><circle cx="253.1" cy="341.9" r="5.6"/><circle cx="795.2" cy="128.8" r="5.6"/><circle cx="1247.4" cy="134.9" r="5.6"/><circle cx="750.4" cy="115.6" r="5.6"/><circle cx="798.2" cy="127.3" r="5.6"/><circle cx="1321.6" cy="131.1" r="5.6"/><circle cx="811.5" cy="127.6" r="5.6"/><circle cx="547.4" cy="195" r="5.6"/><circle cx="521.1" cy="194.6" r="5.6"/><circle cx="715.7" cy="110.3" r="5.6"/><circle cx="826.9" cy="126.2" r="5.6"/><circle cx="532.7" cy="195.3" r="5.6"/><circle cx="638.5" cy="174.7" r="5.6"/><circle cx="584.8" cy="174.3" r="5.6"/><circle cx="1037.5" cy="150.6" r="5.6"/><circle cx="278.5" cy="307" r="5.6"/><circle cx="525.2" cy="200.5" r="5.6"/><circle cx="537.9" cy="190.1" r="5.6"/><circle cx="517.1" cy="199" r="5.6"/><circle cx="766.4" cy="117.1" r="5.6"/><circle cx="686.4" cy="160.4" r="5.6"/><circle cx="877.1" cy="122.9" r="5.6"/><circle cx="904.8" cy="124" r="5.6"/><circle cx="523.3" cy="213.6" r="5.6"/><circle cx="1148.9" cy="118" r="5.6"/><circle cx="1073" cy="148.6" r="5.6"/><circle cx="1258.1" cy="158.9" r="5.6"/><circle cx="1118.8" cy="135.8" r="5.6"/><circle cx="1046.4" cy="125.6" r="5.6"/><circle cx="821.5" cy="136" r="5.6"/><circle cx="828.4" cy="132.1" r="5.6"/><circle cx="1219.5" cy="110.2" r="5.6"/><circle cx="1276" cy="152.9" r="5.6"/><circle cx="1081.8" cy="128.9" r="5.6"/><circle cx="505.4" cy="212" r="5.6"/><circle cx="1269.4" cy="141.3" r="5.6"/><circle cx="955.7" cy="133.9" r="5.6"/><circle cx="638.5" cy="151.7" r="5.6"/><circle cx="430.3" cy="234.1" r="5.6"/><circle cx="1247.8" cy="143.8" r="5.6"/><circle cx="1323.2" cy="129.7" r="5.6"/><circle cx="969.8" cy="128.2" r="5.6"/><circle cx="475" cy="178.5" r="5.6"/><circle cx="1063.2" cy="125.4" r="5.6"/><circle cx="844" cy="129.4" r="5.6"/><circle cx="711.5" cy="128.1" r="5.6"/><circle cx="656.7" cy="161" r="5.6"/><circle cx="470.8" cy="214.4" r="5.6"/><circle cx="1213.8" cy="145.9" r="5.6"/><circle cx="630.6" cy="172.1" r="5.6"/><circle cx="628.1" cy="169.7" r="5.6"/><circle cx="987.8" cy="127.3" r="5.6"/><circle cx="513.7" cy="204.5" r="5.6"/><circle cx="541.9" cy="154.6" r="5.6"/><circle cx="704.3" cy="119.4" r="5.6"/><circle cx="1136.8" cy="122.7" r="5.6"/><circle cx="1033.7" cy="128.7" r="5.6"/><circle cx="1342.7" cy="156.2" r="5.6"/><circle cx="1034.4" cy="126.6" r="5.6"/><circle cx="1065.4" cy="156.4" r="5.6"/><circle cx="1195.6" cy="133.4" r="5.6"/><circle cx="1006.3" cy="136.6" r="5.6"/><circle cx="771" cy="137.6" r="5.6"/><circle cx="1070.2" cy="149.9" r="5.6"/><circle cx="1161.1" cy="142" r="5.6"/><circle cx="622.7" cy="172.8" r="5.6"/><circle cx="870.3" cy="121.3" r="5.6"/><circle cx="700.2" cy="131.1" r="5.6"/><circle cx="1031" cy="130.1" r="5.6"/><circle cx="1249.3" cy="143.6" r="5.6"/><circle cx="1171" cy="137.7" r="5.6"/><circle cx="680.4" cy="126.4" r="5.6"/><circle cx="482.6" cy="208.2" r="5.6"/><circle cx="752.1" cy="124.3" r="5.6"/><circle cx="632.1" cy="146" r="5.6"/><circle cx="441.8" cy="181.5" r="5.6"/><circle cx="682.9" cy="154.7" r="5.6"/><circle cx="1214.2" cy="103.3" r="5.6"/><circle cx="1185.1" cy="113.7" r="5.6"/><circle cx="1280.7" cy="156.5" r="5.6"/><circle cx="629.5" cy="176.5" r="5.6"/><circle cx="515.7" cy="211.1" r="5.6"/><circle cx="717.9" cy="148.6" r="5.6"/><circle cx="576.3" cy="175.7" r="5.6"/><circle cx="416.4" cy="247.1" r="5.6"/><circle cx="461.5" cy="237.2" r="5.6"/><circle cx="380.1" cy="276.3" r="5.6"/><circle cx="1277.1" cy="127.4" r="5.6"/><circle cx="1333.6" cy="144.2" r="5.6"/><circle cx="940.1" cy="117.3" r="5.6"/><circle cx="796.4" cy="114.4" r="5.6"/><circle cx="1287.5" cy="133.2" r="5.6"/><circle cx="832.9" cy="93.7" r="5.6"/><circle cx="1290.5" cy="150.8" r="5.6"/><circle cx="585.6" cy="177.3" r="5.6"/><circle cx="1170.6" cy="98" r="5.6"/><circle cx="1017.6" cy="132.5" r="5.6"/><circle cx="1332.6" cy="133.3" r="5.6"/><circle cx="324.1" cy="309.6" r="5.6"/><circle cx="649.5" cy="162.4" r="5.6"/><circle cx="849.3" cy="127.8" r="5.6"/><circle cx="636.1" cy="159.2" r="5.6"/><circle cx="1060.6" cy="100.1" r="5.6"/><circle cx="1300" cy="124.4" r="5.6"/><circle cx="813.1" cy="115" r="5.6"/><circle cx="316.9" cy="283.3" r="5.6"/><circle cx="284.2" cy="361.9" r="5.6"/><circle cx="489.1" cy="194.3" r="5.6"/><circle cx="795" cy="128.1" r="5.6"/><circle cx="326.8" cy="316.7" r="5.6"/><circle cx="632.1" cy="168.9" r="5.6"/><circle cx="433" cy="251.1" r="5.6"/><circle cx="1265.1" cy="135.7" r="5.6"/><circle cx="937" cy="124.4" r="5.6"/><circle cx="940.3" cy="122.7" r="5.6"/><circle cx="1319.2" cy="104.3" r="5.6"/><circle cx="991.8" cy="111.1" r="5.6"/><circle cx="452" cy="220.1" r="5.6"/><circle cx="1061.1" cy="148.8" r="5.6"/><circle cx="1257.4" cy="155.8" r="5.6"/><circle cx="528.8" cy="199.6" r="5.6"/><circle cx="993" cy="117.1" r="5.6"/><circle cx="979" cy="133" r="5.6"/><circle cx="1098.1" cy="142.2" r="5.6"/><circle cx="358.8" cy="293.2" r="5.6"/><circle cx="1321.4" cy="144.2" r="5.6"/><circle cx="267.9" cy="389.4" r="5.6"/><circle cx="403.6" cy="268.6" r="5.6"/><circle cx="957.9" cy="128.7" r="5.6"/><circle cx="539.5" cy="183.7" r="5.6"/><circle cx="402.7" cy="263.6" r="5.6"/><circle cx="427.5" cy="258.6" r="5.6"/><circle cx="829.3" cy="131.4" r="5.6"/><circle cx="934.9" cy="134.9" r="5.6"/><circle cx="237.5" cy="397.6" r="5.6"/><circle cx="1330.6" cy="135.4" r="5.6"/><circle cx="1072.4" cy="155.6" r="5.6"/><circle cx="1161.2" cy="109.8" r="5.6"/><circle cx="1174.6" cy="138.5" r="5.6"/><circle cx="1137.4" cy="143.2" r="5.6"/><circle cx="247.3" cy="407.1" r="5.6"/><circle cx="788.3" cy="141.7" r="5.6"/><circle cx="466.1" cy="228.1" r="5.6"/><circle cx="855.8" cy="124.9" r="5.6"/><circle cx="857.6" cy="118" r="5.6"/><circle cx="1122.1" cy="122.2" r="5.6"/><circle cx="1332" cy="146.6" r="5.6"/><circle cx="414.1" cy="234.2" r="5.6"/><circle cx="1340.8" cy="78.9" r="5.6"/><circle cx="1032.3" cy="148.5" r="5.6"/><circle cx="1189.9" cy="129.3" r="5.6"/><circle cx="960.4" cy="126.1" r="5.6"/><circle cx="434.8" cy="231.1" r="5.6"/><circle cx="530.1" cy="192.3" r="5.6"/><circle cx="520.1" cy="180.5" r="5.6"/><circle cx="425.4" cy="233.8" r="5.6"/><circle cx="966.8" cy="131.7" r="5.6"/><circle cx="1293.8" cy="130.8" r="5.6"/><circle cx="813.1" cy="126.7" r="5.6"/><circle cx="316.3" cy="298.2" r="5.6"/><circle cx="847.2" cy="110.1" r="5.6"/><circle cx="1280.8" cy="130.2" r="5.6"/><circle cx="356.6" cy="297.3" r="5.6"/><circle cx="1102" cy="139.3" r="5.6"/><circle cx="612.1" cy="175.9" r="5.6"/><circle cx="824.7" cy="134.2" r="5.6"/><circle cx="309.9" cy="336.6" r="5.6"/><circle cx="719.5" cy="144" r="5.6"/><circle cx="566" cy="192.4" r="5.6"/><circle cx="624.4" cy="165.8" r="5.6"/><circle cx="1108.5" cy="134.5" r="5.6"/><circle cx="1175.9" cy="78.5" r="5.6"/><circle cx="1081" cy="148" r="5.6"/><circle cx="1161.4" cy="119.6" r="5.6"/><circle cx="1328.2" cy="145.2" r="5.6"/><circle cx="1004.9" cy="72.2" r="5.6"/><circle cx="254.1" cy="404.7" r="5.6"/><circle cx="1299.7" cy="155.3" r="5.6"/><circle cx="983.4" cy="145.2" r="5.6"/><circle cx="580.9" cy="167.4" r="5.6"/><circle cx="928.9" cy="134.2" r="5.6"/><circle cx="398.1" cy="236.3" r="5.6"/><circle cx="949.9" cy="87.9" r="5.6"/><circle cx="1029" cy="134.7" r="5.6"/><circle cx="1345" cy="145.3" r="5.6"/><circle cx="894.1" cy="56.2" r="5.6"/><circle cx="464.8" cy="228.2" r="5.6"/><circle cx="620.3" cy="177.8" r="5.6"/><circle cx="1344.3" cy="85.9" r="5.6"/><circle cx="1007.8" cy="141.7" r="5.6"/><circle cx="788.9" cy="134.4" r="5.6"/><circle cx="476.4" cy="189.7" r="5.6"/><circle cx="316.7" cy="289.3" r="5.6"/><circle cx="498.5" cy="188.1" r="5.6"/><circle cx="383.5" cy="284.8" r="5.6"/><circle cx="630.6" cy="152.9" r="5.6"/><circle cx="942.5" cy="128.8" r="5.6"/><circle cx="888.9" cy="80.1" r="5.6"/><circle cx="1103.5" cy="140" r="5.6"/><circle cx="1007.5" cy="148.6" r="5.6"/><circle cx="1221" cy="138.6" r="5.6"/><circle cx="954.3" cy="82.1" r="5.6"/><circle cx="641.7" cy="138" r="5.6"/><circle cx="1248.5" cy="140.8" r="5.6"/><circle cx="1161.9" cy="104.2" r="5.6"/><circle cx="965.3" cy="70.1" r="5.6"/><circle cx="853" cy="118.4" r="5.6"/><circle cx="666.7" cy="154.7" r="5.6"/><circle cx="928.8" cy="132.1" r="5.6"/><circle cx="1147.9" cy="123.9" r="5.6"/><circle cx="1129.6" cy="134" r="5.6"/><circle cx="854.2" cy="123.4" r="5.6"/><circle cx="1168.3" cy="97" r="5.6"/><circle cx="1310.1" cy="143.6" r="5.6"/><circle cx="400.1" cy="263.3" r="5.6"/><circle cx="837.7" cy="125.4" r="5.6"/><circle cx="355.1" cy="232.9" r="5.6"/><circle cx="735.3" cy="151.7" r="5.6"/><circle cx="280.3" cy="352.2" r="5.6"/><circle cx="1015.9" cy="134.6" r="5.6"/><circle cx="306.4" cy="335.9" r="5.6"/><circle cx="698.3" cy="152" r="5.6"/><circle cx="299.7" cy="327.7" r="5.6"/><circle cx="892.6" cy="130.2" r="5.6"/><circle cx="783" cy="136" r="5.6"/><circle cx="524.6" cy="205.6" r="5.6"/><circle cx="1258.9" cy="144.6" r="5.6"/><circle cx="777.3" cy="131.3" r="5.6"/><circle cx="798.7" cy="130.1" r="5.6"/><circle cx="259.8" cy="398.6" r="5.6"/><circle cx="822.3" cy="101.9" r="5.6"/><circle cx="1226.4" cy="127.4" r="5.6"/><circle cx="1175.2" cy="134.1" r="5.6"/><circle cx="1061.3" cy="95.9" r="5.6"/><circle cx="1163.1" cy="113.8" r="5.6"/><circle cx="725.7" cy="124.4" r="5.6"/><circle cx="1284.9" cy="101.2" r="5.6"/><circle cx="831.6" cy="130.4" r="5.6"/><circle cx="1182.5" cy="127.7" r="5.6"/><circle cx="585.1" cy="174.4" r="5.6"/><circle cx="812" cy="110.9" r="5.6"/><circle cx="764.5" cy="126.6" r="5.6"/><circle cx="1139" cy="140.6" r="5.6"/><circle cx="1310.5" cy="142.5" r="5.6"/><circle cx="451.2" cy="236.4" r="5.6"/><circle cx="1226.3" cy="139.3" r="5.6"/><circle cx="1156.5" cy="129.5" r="5.6"/><circle cx="1342.7" cy="145.5" r="5.6"/><circle cx="1190.9" cy="125.9" r="5.6"/><circle cx="1196.6" cy="91.7" r="5.6"/><circle cx="967.6" cy="143.6" r="5.6"/><circle cx="912.4" cy="81.5" r="5.6"/><circle cx="632.1" cy="171.6" r="5.6"/><circle cx="1194.2" cy="126.5" r="5.6"/><circle cx="476.8" cy="218.1" r="5.6"/><circle cx="757.2" cy="97.2" r="5.6"/><circle cx="486.1" cy="143.2" r="5.6"/><circle cx="564.4" cy="189.6" r="5.6"/><circle cx="845.9" cy="124.7" r="5.6"/><circle cx="1128.5" cy="129.2" r="5.6"/><circle cx="962.1" cy="123" r="5.6"/><circle cx="1311.9" cy="155.8" r="5.6"/><circle cx="259.7" cy="388" r="5.6"/><circle cx="401.6" cy="231" r="5.6"/><circle cx="790.1" cy="127.8" r="5.6"/><circle cx="889.6" cy="130.2" r="5.6"/><circle cx="451.2" cy="221.6" r="5.6"/><circle cx="572.2" cy="188.9" r="5.6"/><circle cx="852" cy="91" r="5.6"/><circle cx="955.8" cy="131.7" r="5.6"/><circle cx="954.2" cy="130.3" r="5.6"/><circle cx="1326" cy="142.6" r="5.6"/><circle cx="860" cy="134.3" r="5.6"/><circle cx="655.2" cy="167.6" r="5.6"/><circle cx="693.5" cy="155.6" r="5.6"/><circle cx="811.7" cy="130.2" r="5.6"/><circle cx="890.2" cy="128.6" r="5.6"/><circle cx="738.7" cy="111.5" r="5.6"/><circle cx="1003" cy="144.1" r="5.6"/><circle cx="1322.1" cy="119.8" r="5.6"/><circle cx="547.6" cy="188" r="5.6"/><circle cx="996" cy="125.1" r="5.6"/><circle cx="1044.6" cy="141.5" r="5.6"/><circle cx="405.5" cy="236.2" r="5.6"/><circle cx="857.9" cy="86.4" r="5.6"/><circle cx="1049.1" cy="133.6" r="5.6"/><circle cx="1307.6" cy="138.3" r="5.6"/><circle cx="760.1" cy="134.5" r="5.6"/><circle cx="608" cy="168.9" r="5.6"/><circle cx="805.4" cy="121.3" r="5.6"/><circle cx="1139.1" cy="111.3" r="5.6"/><circle cx="232.4" cy="435.1" r="5.6"/><circle cx="317.9" cy="288" r="5.6"/><circle cx="1204" cy="131.4" r="5.6"/><circle cx="526.9" cy="185.8" r="5.6"/><circle cx="396.4" cy="246.9" r="5.6"/><circle cx="878.2" cy="112.2" r="5.6"/><circle cx="966.2" cy="140" r="5.6"/><circle cx="1225.3" cy="147.5" r="5.6"/><circle cx="953.7" cy="131.5" r="5.6"/><circle cx="567.6" cy="181.4" r="5.6"/><circle cx="1221.8" cy="128.4" r="5.6"/><circle cx="1010.7" cy="145" r="5.6"/><circle cx="726.7" cy="153.8" r="5.6"/><circle cx="1003.7" cy="149.1" r="5.6"/><circle cx="949.8" cy="114.9" r="5.6"/><circle cx="421.4" cy="258.3" r="5.6"/><circle cx="1286.5" cy="141.4" r="5.6"/><circle cx="1318.8" cy="141" r="5.6"/><circle cx="368" cy="234.7" r="5.6"/><circle cx="452.6" cy="232.9" r="5.6"/><circle cx="260.2" cy="396.9" r="5.6"/><circle cx="345.2" cy="303.4" r="5.6"/><circle cx="269" cy="381.1" r="5.6"/><circle cx="447.6" cy="185.2" r="5.6"/><circle cx="778.1" cy="125.1" r="5.6"/><circle cx="419.1" cy="252.3" r="5.6"/><circle cx="550.3" cy="199" r="5.6"/><circle cx="694.4" cy="146.7" r="5.6"/><circle cx="1023.2" cy="99.1" r="5.6"/><circle cx="1004.7" cy="124.6" r="5.6"/><circle cx="1160.5" cy="115.4" r="5.6"/><circle cx="1058.9" cy="146.7" r="5.6"/><circle cx="696.2" cy="155.2" r="5.6"/><circle cx="1265.1" cy="123.1" r="5.6"/><circle cx="712" cy="139.5" r="5.6"/><circle cx="741.7" cy="128.4" r="5.6"/><circle cx="845.9" cy="126" r="5.6"/><circle cx="260.7" cy="398.5" r="5.6"/><circle cx="979.2" cy="128.2" r="5.6"/><circle cx="981.1" cy="120.2" r="5.6"/><circle cx="1027.5" cy="125.8" r="5.6"/><circle cx="1117.1" cy="97.8" r="5.6"/><circle cx="658.2" cy="113.3" r="5.6"/><circle cx="1141.2" cy="97.3" r="5.6"/><circle cx="1206" cy="104.9" r="5.6"/><circle cx="1247.1" cy="120.7" r="5.6"/><circle cx="1231.6" cy="136.4" r="5.6"/><circle cx="1128.9" cy="135.5" r="5.6"/><circle cx="1110.2" cy="107.7" r="5.6"/><circle cx="691.4" cy="149.2" r="5.6"/><circle cx="931" cy="124.2" r="5.6"/><circle cx="440.3" cy="212.1" r="5.6"/><circle cx="1060.1" cy="136.6" r="5.6"/><circle cx="817.7" cy="119.5" r="5.6"/><circle cx="830.6" cy="122.1" r="5.6"/><circle cx="1314.8" cy="132.1" r="5.6"/><circle cx="1188" cy="136.1" r="5.6"/><circle cx="1283" cy="148.6" r="5.6"/><circle cx="286.8" cy="347.6" r="5.6"/><circle cx="593.5" cy="180.5" r="5.6"/><circle cx="1048.6" cy="143.4" r="5.6"/><circle cx="954.7" cy="84.2" r="5.6"/><circle cx="1213.4" cy="110.6" r="5.6"/><circle cx="405.5" cy="252.9" r="5.6"/><circle cx="266" cy="395.2" r="5.6"/><circle cx="331.5" cy="282.7" r="5.6"/><circle cx="1118.8" cy="109.8" r="5.6"/><circle cx="942.9" cy="123.5" r="5.6"/><circle cx="894.8" cy="121.4" r="5.6"/><circle cx="1081.2" cy="136.5" r="5.6"/><circle cx="1263.7" cy="114.9" r="5.6"/><circle cx="792.4" cy="129.8" r="5.6"/><circle cx="1244.7" cy="137.3" r="5.6"/><circle cx="1200" cy="72.5" r="5.6"/><circle cx="900.9" cy="123.5" r="5.6"/><circle cx="941" cy="123.7" r="5.6"/><circle cx="638.1" cy="162.3" r="5.6"/><circle cx="1329.4" cy="147.5" r="5.6"/><circle cx="1310.1" cy="157.9" r="5.6"/><circle cx="356.5" cy="267.9" r="5.6"/><circle cx="875.9" cy="109.8" r="5.6"/><circle cx="832" cy="120.8" r="5.6"/><circle cx="940.8" cy="127.6" r="5.6"/><circle cx="1163.1" cy="107.5" r="5.6"/><circle cx="833.2" cy="121.3" r="5.6"/><circle cx="1261.2" cy="153.1" r="5.6"/><circle cx="1180.2" cy="137.6" r="5.6"/><circle cx="255.8" cy="390.3" r="5.6"/><circle cx="1114.7" cy="102.9" r="5.6"/><circle cx="283.5" cy="351" r="5.6"/><circle cx="1311.7" cy="154.3" r="5.6"/><circle cx="1053.9" cy="155.7" r="5.6"/><circle cx="460" cy="199" r="5.6"/><circle cx="624" cy="173.5" r="5.6"/><circle cx="569.9" cy="191.4" r="5.6"/><circle cx="519" cy="215.1" r="5.6"/><circle cx="442.6" cy="241" r="5.6"/><circle cx="1253.6" cy="142.2" r="5.6"/><circle cx="1071.3" cy="152.7" r="5.6"/><circle cx="410.1" cy="257.2" r="5.6"/><circle cx="511.3" cy="201.1" r="5.6"/><circle cx="358.2" cy="284.3" r="5.6"/><circle cx="966.3" cy="128.8" r="5.6"/><circle cx="686" cy="143.7" r="5.6"/><circle cx="743.7" cy="127.8" r="5.6"/><circle cx="1287.2" cy="139.9" r="5.6"/><circle cx="642.9" cy="162.1" r="5.6"/><circle cx="824.4" cy="108.6" r="5.6"/><circle cx="1105.4" cy="137.8" r="5.6"/><circle cx="391.6" cy="213.6" r="5.6"/><circle cx="441.5" cy="223" r="5.6"/><circle cx="996.2" cy="122.9" r="5.6"/><circle cx="403" cy="254.2" r="5.6"/><circle cx="796.5" cy="81.4" r="5.6"/><circle cx="1078.2" cy="125.4" r="5.6"/><circle cx="842.9" cy="64" r="5.6"/><circle cx="563.2" cy="185.3" r="5.6"/><circle cx="1176.2" cy="122.4" r="5.6"/><circle cx="822.1" cy="133.1" r="5.6"/><circle cx="609.6" cy="164.6" r="5.6"/><circle cx="908.7" cy="137" r="5.6"/><circle cx="1187.4" cy="116" r="5.6"/><circle cx="439.8" cy="250.5" r="5.6"/><circle cx="1108.9" cy="139.2" r="5.6"/><circle cx="333.1" cy="277.3" r="5.6"/><circle cx="913.9" cy="98.7" r="5.6"/><circle cx="1242.2" cy="133.5" r="5.6"/><circle cx="325.3" cy="325.3" r="5.6"/><circle cx="716.8" cy="155.9" r="5.6"/><circle cx="596.8" cy="182.1" r="5.6"/><circle cx="745.8" cy="135.7" r="5.6"/><circle cx="322.3" cy="258.9" r="5.6"/><circle cx="1037.1" cy="108.6" r="5.6"/><circle cx="1056.6" cy="145.8" r="5.6"/><circle cx="803.2" cy="78.4" r="5.6"/><circle cx="489.8" cy="211.1" r="5.6"/><circle cx="658.9" cy="153.1" r="5.6"/><circle cx="1175.7" cy="141" r="5.6"/><circle cx="498.8" cy="216" r="5.6"/><circle cx="1295.8" cy="144.6" r="5.6"/><circle cx="1059.7" cy="153.1" r="5.6"/><circle cx="1307.8" cy="114.4" r="5.6"/><circle cx="1101.6" cy="119.1" r="5.6"/><circle cx="875.9" cy="132.1" r="5.6"/><circle cx="878.3" cy="124.4" r="5.6"/><circle cx="435.2" cy="231.8" r="5.6"/><circle cx="1334.5" cy="114.3" r="5.6"/><circle cx="701.5" cy="145.8" r="5.6"/><circle cx="320" cy="244.5" r="5.6"/><circle cx="1210.6" cy="100.5" r="5.6"/><circle cx="1252.3" cy="64" r="5.6"/><circle cx="889.4" cy="80.8" r="5.6"/><circle cx="635.9" cy="176.3" r="5.6"/><circle cx="859.1" cy="119" r="5.6"/><circle cx="1230.8" cy="129.5" r="5.6"/><circle cx="729.7" cy="148.8" r="5.6"/><circle cx="951.4" cy="120" r="5.6"/><circle cx="943.4" cy="133" r="5.6"/><circle cx="467.2" cy="222.9" r="5.6"/><circle cx="718.9" cy="146.6" r="5.6"/><circle cx="1033.1" cy="153.8" r="5.6"/><circle cx="689.9" cy="161.2" r="5.6"/><circle cx="651" cy="156.2" r="5.6"/><circle cx="782" cy="129.8" r="5.6"/><circle cx="331.6" cy="262.2" r="5.6"/><circle cx="587" cy="182.5" r="5.6"/><circle cx="1105.6" cy="104.1" r="5.6"/><circle cx="1325.1" cy="146.6" r="5.6"/><circle cx="804.3" cy="123.4" r="5.6"/><circle cx="752.2" cy="117.5" r="5.6"/><circle cx="716.2" cy="141.2" r="5.6"/><circle cx="515.2" cy="195.6" r="5.6"/><circle cx="802.1" cy="89.9" r="5.6"/><circle cx="1156.9" cy="92.5" r="5.6"/><circle cx="622.8" cy="175.2" r="5.6"/><circle cx="1172.1" cy="125.6" r="5.6"/><circle cx="1154.4" cy="134.8" r="5.6"/><circle cx="1085.1" cy="132.7" r="5.6"/><circle cx="898.1" cy="128.4" r="5.6"/><circle cx="1117.6" cy="114.7" r="5.6"/><circle cx="369.9" cy="264.4" r="5.6"/><circle cx="1226" cy="124.2" r="5.6"/><circle cx="314.2" cy="310.2" r="5.6"/><circle cx="304.2" cy="305.2" r="5.6"/><circle cx="729.8" cy="121" r="5.6"/><circle cx="952.1" cy="85.6" r="5.6"/><circle cx="863.8" cy="123.9" r="5.6"/><circle cx="901.3" cy="122.8" r="5.6"/><circle cx="848.1" cy="127.8" r="5.6"/><circle cx="1299" cy="147.3" r="5.6"/><circle cx="977.2" cy="134" r="5.6"/><circle cx="596.5" cy="184.2" r="5.6"/><circle cx="1254.5" cy="148.8" r="5.6"/><circle cx="759.7" cy="133.6" r="5.6"/><circle cx="1000.8" cy="143.1" r="5.6"/><circle cx="1148.5" cy="124.4" r="5.6"/><circle cx="513" cy="207.2" r="5.6"/><circle cx="567.2" cy="174.7" r="5.6"/><circle cx="397" cy="279.3" r="5.6"/><circle cx="744.7" cy="114.3" r="5.6"/><circle cx="539.2" cy="198.3" r="5.6"/><circle cx="846" cy="121.5" r="5.6"/><circle cx="535.2" cy="209.5" r="5.6"/><circle cx="1164.3" cy="126.7" r="5.6"/><circle cx="1149.6" cy="139.6" r="5.6"/><circle cx="791.5" cy="129.2" r="5.6"/><circle cx="1167.9" cy="133.8" r="5.6"/><circle cx="1166.7" cy="128.2" r="5.6"/><circle cx="1127.6" cy="56.1" r="5.6"/><circle cx="447.8" cy="238.7" r="5.6"/><circle cx="597.4" cy="159.8" r="5.6"/><circle cx="673.5" cy="147.9" r="5.6"/><circle cx="296.2" cy="340.4" r="5.6"/><circle cx="1316.8" cy="93.1" r="5.6"/><circle cx="714.7" cy="145.8" r="5.6"/><circle cx="689" cy="128.5" r="5.6"/><circle cx="540.4" cy="142.5" r="5.6"/><circle cx="1335.8" cy="144.3" r="5.6"/><circle cx="338.3" cy="279.3" r="5.6"/><circle cx="1312.1" cy="146.9" r="5.6"/><circle cx="1098.4" cy="142" r="5.6"/><circle cx="1047.6" cy="120.8" r="5.6"/><circle cx="609.5" cy="171.7" r="5.6"/><circle cx="862.4" cy="103.8" r="5.6"/><circle cx="468.3" cy="208.5" r="5.6"/><circle cx="1267.5" cy="152.1" r="5.6"/><circle cx="1086.4" cy="137.2" r="5.6"/><circle cx="489.4" cy="217.1" r="5.6"/><circle cx="404.9" cy="248.3" r="5.6"/><circle cx="561.2" cy="189.7" r="5.6"/><circle cx="643" cy="112.7" r="5.6"/><circle cx="635.4" cy="163.8" r="5.6"/><circle cx="337.8" cy="297.1" r="5.6"/><circle cx="319.1" cy="254.7" r="5.6"/><circle cx="1038.7" cy="107.3" r="5.6"/><circle cx="429.7" cy="245.3" r="5.6"/><circle cx="233.1" cy="413" r="5.6"/><circle cx="1232.5" cy="133.5" r="5.6"/><circle cx="609.5" cy="180.1" r="5.6"/><circle cx="250.4" cy="390.2" r="5.6"/><circle cx="602.9" cy="169.9" r="5.6"/><circle cx="1245.9" cy="147.7" r="5.6"/><circle cx="1266.6" cy="157.3" r="5.6"/><circle cx="1098.1" cy="144.1" r="5.6"/><circle cx="816.6" cy="101.2" r="5.6"/><circle cx="953.2" cy="129.1" r="5.6"/><circle cx="1049.7" cy="131.9" r="5.6"/><circle cx="469.8" cy="191.1" r="5.6"/><circle cx="430.3" cy="260.1" r="5.6"/><circle cx="953.5" cy="133" r="5.6"/><circle cx="580" cy="172.5" r="5.6"/><circle cx="1325.2" cy="136.6" r="5.6"/><circle cx="805.9" cy="126" r="5.6"/><circle cx="1238" cy="310.7" r="5.6"/><circle cx="562" cy="358.7" r="5.6"/><circle cx="691.3" cy="341.1" r="5.6"/><circle cx="391.8" cy="478.5" r="5.6"/><circle cx="1053.6" cy="256.1" r="5.6"/><circle cx="1098.8" cy="275.3" r="5.6"/><circle cx="841.8" cy="288.3" r="5.6"/><circle cx="531.2" cy="365.1" r="5.6"/><circle cx="778" cy="308.9" r="5.6"/><circle cx="551.8" cy="357.9" r="5.6"/><circle cx="666.4" cy="329.1" r="5.6"/><circle cx="497.8" cy="386" r="5.6"/><circle cx="1038.7" cy="325.2" r="5.6"/><circle cx="462.6" cy="402.2" r="5.6"/><circle cx="1234.1" cy="255.2" r="5.6"/><circle cx="1123.3" cy="305.4" r="5.6"/><circle cx="783.2" cy="315.9" r="5.6"/><circle cx="846.6" cy="304.1" r="5.6"/><circle cx="1193.2" cy="273.4" r="5.6"/><circle cx="787.1" cy="315.8" r="5.6"/><circle cx="425.3" cy="435.6" r="5.6"/><circle cx="965.1" cy="238" r="5.6"/><circle cx="508.6" cy="379.5" r="5.6"/><circle cx="438.9" cy="446.2" r="5.6"/><circle cx="1277.1" cy="256.6" r="5.6"/><circle cx="810.1" cy="312.8" r="5.6"/><circle cx="550.4" cy="371" r="5.6"/><circle cx="1323" cy="272" r="5.6"/><circle cx="577.4" cy="351.4" r="5.6"/><circle cx="1209.5" cy="277.5" r="5.6"/><circle cx="691.8" cy="340.4" r="5.6"/><circle cx="455" cy="419.5" r="5.6"/><circle cx="493.3" cy="404.3" r="5.6"/><circle cx="564.4" cy="357" r="5.6"/><circle cx="701.4" cy="330.2" r="5.6"/><circle cx="949.9" cy="253.6" r="5.6"/><circle cx="1274.5" cy="275.4" r="5.6"/><circle cx="1157.1" cy="298.7" r="5.6"/><circle cx="1081.8" cy="289.7" r="5.6"/><circle cx="1278.4" cy="263.2" r="5.6"/><circle cx="894.5" cy="262.3" r="5.6"/><circle cx="984.1" cy="225.5" r="5.6"/><circle cx="976" cy="255" r="5.6"/><circle cx="406.3" cy="446.6" r="5.6"/><circle cx="1262.4" cy="265.1" r="5.6"/><circle cx="835.1" cy="312.2" r="5.6"/><circle cx="845.9" cy="294.3" r="5.6"/><circle cx="439.6" cy="423" r="5.6"/><circle cx="518.3" cy="389.2" r="5.6"/><circle cx="392.5" cy="473" r="5.6"/><circle cx="1098" cy="292.5" r="5.6"/><circle cx="1032.6" cy="300.1" r="5.6"/><circle cx="644.1" cy="330.9" r="5.6"/><circle cx="989.8" cy="237.6" r="5.6"/><circle cx="734" cy="316.2" r="5.6"/><circle cx="1080.3" cy="276.7" r="5.6"/><circle cx="973.2" cy="250.8" r="5.6"/><circle cx="1179.6" cy="313.2" r="5.6"/><circle cx="957.8" cy="287.5" r="5.6"/><circle cx="879.5" cy="269.7" r="5.6"/><circle cx="731.1" cy="313.6" r="5.6"/><circle cx="556.9" cy="360" r="5.6"/><circle cx="800.7" cy="335.6" r="5.6"/><circle cx="1276.9" cy="275.1" r="5.6"/><circle cx="1015.1" cy="280.3" r="5.6"/><circle cx="513.2" cy="372.7" r="5.6"/><circle cx="1293.7" cy="267.8" r="5.6"/><circle cx="384.3" cy="474.5" r="5.6"/><circle cx="691.7" cy="326" r="5.6"/><circle cx="786" cy="330.2" r="5.6"/><circle cx="442.4" cy="427.3" r="5.6"/><circle cx="1139.5" cy="287.1" r="5.6"/><circle cx="405.9" cy="452.1" r="5.6"/><circle cx="1243.4" cy="262.6" r="5.6"/><circle cx="749.7" cy="340.5" r="5.6"/><circle cx="837.7" cy="307.4" r="5.6"/><circle cx="625" cy="347.3" r="5.6"/><circle cx="785.6" cy="354.2" r="5.6"/><circle cx="756.3" cy="311.6" r="5.6"/><circle cx="1101.7" cy="298.5" r="5.6"/><circle cx="1296.9" cy="242.5" r="5.6"/><circle cx="979.9" cy="283.8" r="5.6"/><circle cx="1207.4" cy="278.5" r="5.6"/><circle cx="995.6" cy="235.4" r="5.6"/><circle cx="1139.7" cy="296.6" r="5.6"/><circle cx="739" cy="318.5" r="5.6"/><circle cx="1060.1" cy="279.3" r="5.6"/><circle cx="1090.8" cy="282.2" r="5.6"/><circle cx="1300.6" cy="261.2" r="5.6"/><circle cx="922.6" cy="250" r="5.6"/><circle cx="432.1" cy="441.4" r="5.6"/><circle cx="633" cy="333.9" r="5.6"/><circle cx="653.9" cy="336.6" r="5.6"/><circle cx="630.5" cy="342.8" r="5.6"/><circle cx="1067.5" cy="267.8" r="5.6"/><circle cx="429.7" cy="441" r="5.6"/><circle cx="540.5" cy="372.3" r="5.6"/><circle cx="427.5" cy="447" r="5.6"/><circle cx="1011.2" cy="235.9" r="5.6"/><circle cx="1269.8" cy="257.4" r="5.6"/><circle cx="959.9" cy="289.9" r="5.6"/><circle cx="1021" cy="235.1" r="5.6"/><circle cx="850.6" cy="294.5" r="5.6"/><circle cx="848.7" cy="284.7" r="5.6"/><circle cx="1103" cy="295.1" r="5.6"/><circle cx="566.3" cy="353.4" r="5.6"/><circle cx="546.8" cy="362.3" r="5.6"/><circle cx="1300.1" cy="239.5" r="5.6"/><circle cx="469.6" cy="415.9" r="5.6"/><circle cx="1206.5" cy="262.7" r="5.6"/><circle cx="474.7" cy="401.4" r="5.6"/><circle cx="1024.7" cy="240.4" r="5.6"/><circle cx="1007" cy="246.2" r="5.6"/><circle cx="1261.1" cy="281.5" r="5.6"/><circle cx="1271.1" cy="243.9" r="5.6"/><circle cx="796.4" cy="351.5" r="5.6"/><circle cx="485.3" cy="410.4" r="5.6"/><circle cx="824.6" cy="319" r="5.6"/><circle cx="789" cy="334.5" r="5.6"/><circle cx="1138" cy="300.4" r="5.6"/><circle cx="561.9" cy="360.2" r="5.6"/><circle cx="666.9" cy="324.5" r="5.6"/><circle cx="1342.9" cy="234.1" r="5.6"/><circle cx="739.5" cy="316.7" r="5.6"/><circle cx="544.1" cy="366.8" r="5.6"/><circle cx="1050.7" cy="244.8" r="5.6"/><circle cx="1260.4" cy="268.3" r="5.6"/><circle cx="961.9" cy="233.3" r="5.6"/><circle cx="809.3" cy="321.1" r="5.6"/><circle cx="862.9" cy="282.3" r="5.6"/><circle cx="610.9" cy="347" r="5.6"/><circle cx="1293.5" cy="245.4" r="5.6"/><circle cx="1190.1" cy="268.5" r="5.6"/><circle cx="589.3" cy="342.3" r="5.6"/><circle cx="441.2" cy="445.8" r="5.6"/><circle cx="1179.5" cy="269.9" r="5.6"/><circle cx="1285.5" cy="239.9" r="5.6"/><circle cx="730.8" cy="331.8" r="5.6"/><circle cx="1339.3" cy="283.6" r="5.6"/><circle cx="1265.5" cy="253.7" r="5.6"/><circle cx="870.5" cy="281.8" r="5.6"/><circle cx="1153.5" cy="276.5" r="5.6"/><circle cx="1001.6" cy="252.7" r="5.6"/><circle cx="941.9" cy="242.9" r="5.6"/><circle cx="728.8" cy="317.3" r="5.6"/><circle cx="876.6" cy="271.4" r="5.6"/><circle cx="452.4" cy="416.9" r="5.6"/><circle cx="847.3" cy="289.4" r="5.6"/><circle cx="1289.6" cy="260.8" r="5.6"/><circle cx="826.4" cy="312.7" r="5.6"/><circle cx="722.9" cy="317.3" r="5.6"/><circle cx="822.1" cy="299.8" r="5.6"/><circle cx="948.2" cy="244.5" r="5.6"/><circle cx="896" cy="267.1" r="5.6"/><circle cx="687.8" cy="334.1" r="5.6"/><circle cx="382.6" cy="476.7" r="5.6"/><circle cx="705.3" cy="337.9" r="5.6"/><circle cx="1273.3" cy="263.5" r="5.6"/><circle cx="843.1" cy="286.4" r="5.6"/><circle cx="632.7" cy="349.4" r="5.6"/><circle cx="988.4" cy="256.3" r="5.6"/><circle cx="997.4" cy="229.1" r="5.6"/><circle cx="884.6" cy="304.4" r="5.6"/><circle cx="1251" cy="249.8" r="5.6"/><circle cx="533.5" cy="369.3" r="5.6"/><circle cx="486.2" cy="401.1" r="5.6"/><circle cx="1133" cy="279.8" r="5.6"/><circle cx="859.1" cy="285.6" r="5.6"/><circle cx="650.9" cy="340.7" r="5.6"/><circle cx="650.5" cy="332.1" r="5.6"/><circle cx="932.9" cy="289.1" r="5.6"/><circle cx="825.5" cy="311.7" r="5.6"/><circle cx="935.2" cy="245.1" r="5.6"/><circle cx="491.6" cy="403.8" r="5.6"/><circle cx="993.6" cy="227.2" r="5.6"/><circle cx="396.9" cy="471.4" r="5.6"/><circle cx="573.7" cy="354.1" r="5.6"/><circle cx="519.7" cy="390.8" r="5.6"/><circle cx="1006.1" cy="289.3" r="5.6"/><circle cx="819.7" cy="306.4" r="5.6"/><circle cx="529.4" cy="381.2" r="5.6"/><circle cx="1116.9" cy="283.3" r="5.6"/><circle cx="629.3" cy="338.2" r="5.6"/><circle cx="863.1" cy="289.4" r="5.6"/><circle cx="731.8" cy="314.3" r="5.6"/><circle cx="648.2" cy="332.1" r="5.6"/><circle cx="785" cy="321.9" r="5.6"/><circle cx="718.6" cy="325.8" r="5.6"/><circle cx="1294.3" cy="259.2" r="5.6"/><circle cx="728.4" cy="311.9" r="5.6"/><circle cx="1170.4" cy="267.7" r="5.6"/><circle cx="1198.2" cy="265.5" r="5.6"/><circle cx="759.2" cy="319.6" r="5.6"/><circle cx="1209.4" cy="256.6" r="5.6"/><circle cx="915.5" cy="260.3" r="5.6"/><circle cx="696.1" cy="316.5" r="5.6"/><circle cx="851.2" cy="290.6" r="5.6"/><circle cx="1056" cy="278.3" r="5.6"/><circle cx="1267.4" cy="275" r="5.6"/><circle cx="715" cy="325.6" r="5.6"/><circle cx="819.1" cy="298.4" r="5.6"/><circle cx="479.1" cy="411" r="5.6"/><circle cx="1327.7" cy="232.7" r="5.6"/><circle cx="463" cy="410.1" r="5.6"/><circle cx="714" cy="316.7" r="5.6"/><circle cx="1056.2" cy="271.2" r="5.6"/><circle cx="402.6" cy="474.7" r="5.6"/><circle cx="807.9" cy="310.3" r="5.6"/><circle cx="1264.2" cy="255.8" r="5.6"/><circle cx="1221.4" cy="275.5" r="5.6"/><circle cx="494.6" cy="385.7" r="5.6"/><circle cx="874.1" cy="280.5" r="5.6"/><circle cx="582" cy="351" r="5.6"/><circle cx="686.5" cy="332.5" r="5.6"/><circle cx="1148.1" cy="284.8" r="5.6"/><circle cx="1185" cy="279" r="5.6"/><circle cx="1275.2" cy="246.5" r="5.6"/><circle cx="1220.6" cy="263.6" r="5.6"/><circle cx="672.6" cy="337.9" r="5.6"/><circle cx="1291.1" cy="271.3" r="5.6"/><circle cx="392.1" cy="471.3" r="5.6"/><circle cx="665.5" cy="346.3" r="5.6"/><circle cx="890.4" cy="271.9" r="5.6"/><circle cx="896.7" cy="270.2" r="5.6"/><circle cx="648" cy="333.9" r="5.6"/><circle cx="785.3" cy="334.7" r="5.6"/><circle cx="914.8" cy="281.7" r="5.6"/><circle cx="538.1" cy="366.6" r="5.6"/><circle cx="528.1" cy="379.7" r="5.6"/><circle cx="723.9" cy="312.1" r="5.6"/><circle cx="729.8" cy="312.9" r="5.6"/><circle cx="652" cy="334.1" r="5.6"/><circle cx="867.2" cy="283.3" r="5.6"/><circle cx="1170.3" cy="287.1" r="5.6"/><circle cx="436.4" cy="429.5" r="5.6"/><circle cx="420.5" cy="445.4" r="5.6"/><circle cx="1015.1" cy="236.5" r="5.6"/><circle cx="827.6" cy="312.6" r="5.6"/><circle cx="639.3" cy="335.8" r="5.6"/><circle cx="970.3" cy="248.3" r="5.6"/><circle cx="586.6" cy="357.9" r="5.6"/><circle cx="1164.9" cy="268.9" r="5.6"/><circle cx="789.9" cy="343.8" r="5.6"/><circle cx="871.5" cy="297.8" r="5.6"/><circle cx="1154.5" cy="274.7" r="5.6"/><circle cx="909.6" cy="287.6" r="5.6"/><circle cx="1198" cy="285.7" r="5.6"/><circle cx="1066.7" cy="307.5" r="5.6"/><circle cx="545.6" cy="363.5" r="5.6"/><circle cx="1310.7" cy="245.8" r="5.6"/><circle cx="664.3" cy="341.9" r="5.6"/><circle cx="1334.7" cy="245.5" r="5.6"/><circle cx="542.4" cy="373.3" r="5.6"/><circle cx="501.8" cy="403.3" r="5.6"/><circle cx="825.4" cy="306.2" r="5.6"/><circle cx="1042.6" cy="282.1" r="5.6"/><circle cx="844.1" cy="292.8" r="5.6"/><circle cx="398.9" cy="461.7" r="5.6"/><circle cx="1192.6" cy="287" r="5.6"/><circle cx="934.6" cy="250.9" r="5.6"/><circle cx="1022.8" cy="230.9" r="5.6"/><circle cx="447.2" cy="425.3" r="5.6"/><circle cx="590.5" cy="358.7" r="5.6"/><circle cx="590.2" cy="347.4" r="5.6"/><circle cx="1298.6" cy="243.5" r="5.6"/><circle cx="964.7" cy="249.4" r="5.6"/><circle cx="762.4" cy="315.5" r="5.6"/><circle cx="1333.4" cy="251.8" r="5.6"/><circle cx="1127.3" cy="283.8" r="5.6"/><circle cx="752.8" cy="312.7" r="5.6"/><circle cx="458" cy="428.8" r="5.6"/><circle cx="865.5" cy="298.4" r="5.6"/><circle cx="806.1" cy="327.7" r="5.6"/><circle cx="576.2" cy="355.4" r="5.6"/><circle cx="1048.2" cy="254.7" r="5.6"/><circle cx="615.2" cy="346.4" r="5.6"/><circle cx="975" cy="238.3" r="5.6"/><circle cx="666.1" cy="358.3" r="5.6"/><circle cx="1228.7" cy="254.4" r="5.6"/><circle cx="1140.9" cy="281.8" r="5.6"/><circle cx="1121" cy="311.4" r="5.6"/><circle cx="1001.1" cy="223.3" r="5.6"/><circle cx="495.9" cy="386" r="5.6"/><circle cx="440.2" cy="422.4" r="5.6"/><circle cx="561.7" cy="374.1" r="5.6"/><circle cx="989.9" cy="242.9" r="5.6"/><circle cx="789.7" cy="339.4" r="5.6"/><circle cx="745.4" cy="311" r="5.6"/><circle cx="525.1" cy="379.2" r="5.6"/><circle cx="1331" cy="240.5" r="5.6"/><circle cx="731.5" cy="324.3" r="5.6"/><circle cx="1329.3" cy="239.6" r="5.6"/><circle cx="691.8" cy="320.3" r="5.6"/><circle cx="501.6" cy="394.4" r="5.6"/><circle cx="428" cy="438.2" r="5.6"/><circle cx="999.2" cy="246.6" r="5.6"/><circle cx="1253.3" cy="274.9" r="5.6"/><circle cx="385.7" cy="466.2" r="5.6"/><circle cx="1231.3" cy="254.5" r="5.6"/><circle cx="581.6" cy="352.7" r="5.6"/><circle cx="829.4" cy="315.2" r="5.6"/><circle cx="598.3" cy="344" r="5.6"/><circle cx="1081.9" cy="301.1" r="5.6"/><circle cx="428.6" cy="426.8" r="5.6"/><circle cx="1199.4" cy="308" r="5.6"/><circle cx="884.9" cy="280.6" r="5.6"/><circle cx="901.4" cy="281.3" r="5.6"/><circle cx="665.4" cy="326.3" r="5.6"/><circle cx="427.2" cy="434" r="5.6"/><circle cx="1205.3" cy="279.5" r="5.6"/><circle cx="1137.5" cy="349.6" r="5.6"/><circle cx="697.4" cy="323.5" r="5.6"/><circle cx="1093.4" cy="289.7" r="5.6"/><circle cx="1002.2" cy="255.8" r="5.6"/><circle cx="1190" cy="291.7" r="5.6"/><circle cx="1190.5" cy="273.2" r="5.6"/><circle cx="1184.2" cy="286.4" r="5.6"/><circle cx="568.1" cy="355.7" r="5.6"/><circle cx="746.8" cy="370.3" r="5.6"/><circle cx="536.9" cy="371.7" r="5.6"/><circle cx="928.8" cy="253.6" r="5.6"/><circle cx="556.6" cy="364.6" r="5.6"/><circle cx="1177.4" cy="269.7" r="5.6"/><circle cx="1256.5" cy="279.9" r="5.6"/><circle cx="765.1" cy="335.5" r="5.6"/><circle cx="1171.5" cy="287.3" r="5.6"/><circle cx="1111" cy="327.9" r="5.6"/><circle cx="1222.8" cy="254.7" r="5.6"/><circle cx="857" cy="275.8" r="5.6"/><circle cx="1221.3" cy="310.8" r="5.6"/><circle cx="878.8" cy="270.9" r="5.6"/><circle cx="1279.9" cy="249.1" r="5.6"/><circle cx="1168" cy="277.8" r="5.6"/><circle cx="1068.6" cy="272.6" r="5.6"/><circle cx="603" cy="338.5" r="5.6"/><circle cx="1182.5" cy="285.3" r="5.6"/><circle cx="490.2" cy="393.3" r="5.6"/><circle cx="987.7" cy="265.3" r="5.6"/><circle cx="695.5" cy="341.6" r="5.6"/><circle cx="1049.1" cy="259.2" r="5.6"/><circle cx="441.5" cy="464.7" r="5.6"/><circle cx="439.6" cy="427.2" r="5.6"/><circle cx="1281.9" cy="243.9" r="5.6"/><circle cx="1207.6" cy="281.2" r="5.6"/><circle cx="1227.2" cy="249.6" r="5.6"/><circle cx="1241.5" cy="257.6" r="5.6"/><circle cx="1302.9" cy="248.5" r="5.6"/><circle cx="582.9" cy="348.3" r="5.6"/><circle cx="984.9" cy="231.2" r="5.6"/><circle cx="403.4" cy="487.7" r="5.6"/><circle cx="706.2" cy="323.9" r="5.6"/><circle cx="853.7" cy="288" r="5.6"/><circle cx="732.5" cy="325.1" r="5.6"/><circle cx="577.1" cy="351.6" r="5.6"/><circle cx="589.8" cy="341.1" r="5.6"/><circle cx="843.5" cy="293" r="5.6"/><circle cx="1059.5" cy="261.9" r="5.6"/><circle cx="858.1" cy="289" r="5.6"/><circle cx="706.8" cy="329.9" r="5.6"/><circle cx="881.6" cy="271.9" r="5.6"/><circle cx="1336.5" cy="255.5" r="5.6"/><circle cx="450.7" cy="435" r="5.6"/><circle cx="457.9" cy="416.8" r="5.6"/><circle cx="738.7" cy="338.3" r="5.6"/><circle cx="1028.7" cy="281" r="5.6"/><circle cx="461.9" cy="412.7" r="5.6"/><circle cx="1160.2" cy="306.6" r="5.6"/><circle cx="1060.1" cy="266.3" r="5.6"/><circle cx="1016.7" cy="278.4" r="5.6"/><circle cx="569.7" cy="364.6" r="5.6"/><circle cx="814.1" cy="355.6" r="5.6"/><circle cx="1220" cy="252.9" r="5.6"/><circle cx="1014.8" cy="227.8" r="5.6"/><circle cx="677.6" cy="339" r="5.6"/><circle cx="626.9" cy="352.5" r="5.6"/><circle cx="1142.9" cy="274.2" r="5.6"/><circle cx="444.9" cy="419.9" r="5.6"/><circle cx="890.9" cy="303.9" r="5.6"/><circle cx="1145.8" cy="274" r="5.6"/><circle cx="781.6" cy="335.3" r="5.6"/><circle cx="387.2" cy="480.9" r="5.6"/><circle cx="411.7" cy="452.8" r="5.6"/><circle cx="1307" cy="261.6" r="5.6"/><circle cx="1132.4" cy="312.2" r="5.6"/><circle cx="686.8" cy="335.8" r="5.6"/><circle cx="1067.1" cy="281.3" r="5.6"/><circle cx="1083.4" cy="294.7" r="5.6"/><circle cx="823.2" cy="294.8" r="5.6"/><circle cx="951.3" cy="238.7" r="5.6"/><circle cx="775.1" cy="306.5" r="5.6"/><circle cx="813.8" cy="345.6" r="5.6"/><circle cx="478.4" cy="404.7" r="5.6"/><circle cx="380" cy="484.5" r="5.6"/><circle cx="622.1" cy="333.5" r="5.6"/><circle cx="696.8" cy="323.9" r="5.6"/><circle cx="540.5" cy="367.5" r="5.6"/><circle cx="953.9" cy="243.2" r="5.6"/><circle cx="774.3" cy="318.6" r="5.6"/><circle cx="1263.2" cy="259.7" r="5.6"/><circle cx="1194.7" cy="264" r="5.6"/><circle cx="406" cy="467.2" r="5.6"/><circle cx="511.2" cy="384.5" r="5.6"/><circle cx="893.6" cy="262.3" r="5.6"/><circle cx="706.7" cy="332.4" r="5.6"/><circle cx="455.8" cy="416.4" r="5.6"/><circle cx="753.1" cy="312.7" r="5.6"/><circle cx="494.1" cy="395.8" r="5.6"/><circle cx="1221.6" cy="254.4" r="5.6"/><circle cx="561.3" cy="370.1" r="5.6"/><circle cx="1218.2" cy="268.3" r="5.6"/><circle cx="723.8" cy="317.7" r="5.6"/><circle cx="1221.8" cy="262.3" r="5.6"/><circle cx="479.3" cy="398" r="5.6"/><circle cx="1329.3" cy="231" r="5.6"/><circle cx="455.6" cy="411.7" r="5.6"/><circle cx="445.5" cy="427.8" r="5.6"/><circle cx="1119.3" cy="284.5" r="5.6"/><circle cx="705.7" cy="336.4" r="5.6"/><circle cx="552.1" cy="372" r="5.6"/><circle cx="619.2" cy="337.4" r="5.6"/><circle cx="872.6" cy="290.4" r="5.6"/><circle cx="701.9" cy="337.9" r="5.6"/><circle cx="616.3" cy="338.9" r="5.6"/><circle cx="1207.8" cy="290.3" r="5.6"/><circle cx="890.3" cy="279.9" r="5.6"/><circle cx="401.5" cy="464.5" r="5.6"/><circle cx="923.2" cy="279.6" r="5.6"/><circle cx="873.8" cy="319.8" r="5.6"/><circle cx="974.8" cy="241.3" r="5.6"/><circle cx="996.7" cy="224.8" r="5.6"/><circle cx="714.8" cy="326.4" r="5.6"/><circle cx="1289.8" cy="246.6" r="5.6"/><circle cx="822.9" cy="338.2" r="5.6"/><circle cx="806.3" cy="309.6" r="5.6"/><circle cx="584.1" cy="344.2" r="5.6"/><circle cx="886.4" cy="280.5" r="5.6"/><circle cx="585.2" cy="361" r="5.6"/><circle cx="404.9" cy="451.9" r="5.6"/><circle cx="752.2" cy="318.6" r="5.6"/><circle cx="628" cy="361.4" r="5.6"/><circle cx="664.3" cy="329.5" r="5.6"/><circle cx="546.5" cy="367.7" r="5.6"/><circle cx="1172.5" cy="279" r="5.6"/><circle cx="923.6" cy="322" r="5.6"/><circle cx="489.5" cy="388.5" r="5.6"/><circle cx="1295.9" cy="286.5" r="5.6"/><circle cx="604.1" cy="340.7" r="5.6"/><circle cx="803.6" cy="322.5" r="5.6"/><circle cx="882.7" cy="273.2" r="5.6"/><circle cx="1141.8" cy="295.4" r="5.6"/><circle cx="1245.6" cy="243.9" r="5.6"/><circle cx="522.2" cy="381.5" r="5.6"/><circle cx="961.4" cy="229.9" r="5.6"/><circle cx="1103.2" cy="300.9" r="5.6"/><circle cx="798.1" cy="319" r="5.6"/><circle cx="1226.1" cy="258.1" r="5.6"/><circle cx="1139.9" cy="280.5" r="5.6"/><circle cx="475.6" cy="429.7" r="5.6"/><circle cx="834.2" cy="294.8" r="5.6"/><circle cx="719.5" cy="315.4" r="5.6"/><circle cx="721.6" cy="320.3" r="5.6"/><circle cx="1338.2" cy="252.1" r="5.6"/><circle cx="818.4" cy="314.6" r="5.6"/><circle cx="1239.6" cy="296.6" r="5.6"/><circle cx="691.7" cy="350.5" r="5.6"/><circle cx="1091.4" cy="299" r="5.6"/><circle cx="841.5" cy="299.6" r="5.6"/><circle cx="456.3" cy="413.1" r="5.6"/><circle cx="965.8" cy="251.3" r="5.6"/><circle cx="1332.2" cy="261" r="5.6"/><circle cx="743.9" cy="322.2" r="5.6"/><circle cx="1096.2" cy="347.6" r="5.6"/><circle cx="522.1" cy="379.6" r="5.6"/><circle cx="1245.7" cy="251.2" r="5.6"/><circle cx="1050.3" cy="267" r="5.6"/><circle cx="960.5" cy="233.6" r="5.6"/><circle cx="800.8" cy="320" r="5.6"/><circle cx="763.3" cy="322.1" r="5.6"/><circle cx="1256.5" cy="253.3" r="5.6"/><circle cx="709.4" cy="321.4" r="5.6"/><circle cx="888.4" cy="312.5" r="5.6"/><circle cx="419.6" cy="443.7" r="5.6"/><circle cx="605.6" cy="344.8" r="5.6"/><circle cx="1025.2" cy="227.4" r="5.6"/><circle cx="577.3" cy="360.5" r="5.6"/><circle cx="481" cy="401.2" r="5.6"/><circle cx="1164" cy="283.8" r="5.6"/><circle cx="824" cy="318.2" r="5.6"/><circle cx="511.7" cy="381.6" r="5.6"/><circle cx="532.5" cy="371.2" r="5.6"/><circle cx="1329.6" cy="255.5" r="5.6"/><circle cx="704.9" cy="368.2" r="5.6"/><circle cx="955.2" cy="232.8" r="5.6"/><circle cx="1102.6" cy="286.4" r="5.6"/><circle cx="538.6" cy="374.1" r="5.6"/><circle cx="486.2" cy="388.6" r="5.6"/><circle cx="759.7" cy="329" r="5.6"/><circle cx="562.7" cy="358" r="5.6"/><circle cx="595.1" cy="344.6" r="5.6"/><circle cx="777.7" cy="326" r="5.6"/><circle cx="451" cy="412.7" r="5.6"/><circle cx="453.1" cy="435.8" r="5.6"/><circle cx="1303" cy="259.6" r="5.6"/><circle cx="866.1" cy="282.7" r="5.6"/><circle cx="1222.1" cy="269.4" r="5.6"/><circle cx="728.3" cy="318.8" r="5.6"/><circle cx="1059.4" cy="271.5" r="5.6"/><circle cx="461" cy="410.3" r="5.6"/><circle cx="1196.4" cy="274.5" r="5.6"/><circle cx="641.1" cy="346.4" r="5.6"/><circle cx="1336.7" cy="235.2" r="5.6"/><circle cx="668.4" cy="351.3" r="5.6"/><circle cx="1088.2" cy="293.9" r="5.6"/><circle cx="653.5" cy="334.6" r="5.6"/><circle cx="437.9" cy="421.4" r="5.6"/><circle cx="549.7" cy="356.7" r="5.6"/><circle cx="917.2" cy="265.3" r="5.6"/><circle cx="1306.9" cy="252.9" r="5.6"/><circle cx="1244" cy="298.1" r="5.6"/><circle cx="1213.6" cy="264.6" r="5.6"/><circle cx="625.5" cy="342" r="5.6"/><circle cx="684.6" cy="320.1" r="5.6"/><circle cx="1170.6" cy="263.6" r="5.6"/><circle cx="1245.7" cy="263.3" r="5.6"/><circle cx="592.3" cy="342.3" r="5.6"/><circle cx="605.9" cy="350.4" r="5.6"/><circle cx="430.3" cy="435.3" r="5.6"/><circle cx="984.4" cy="233.1" r="5.6"/><circle cx="1271.5" cy="249.9" r="5.6"/><circle cx="1209.7" cy="263.3" r="5.6"/><circle cx="385" cy="463.5" r="5.6"/><circle cx="712.2" cy="313.3" r="5.6"/><circle cx="440.8" cy="416.1" r="5.6"/><circle cx="511.4" cy="392.8" r="5.6"/><circle cx="464.5" cy="418.4" r="5.6"/><circle cx="596" cy="349.1" r="5.6"/><circle cx="811.9" cy="316.1" r="5.6"/><circle cx="1202.9" cy="299" r="5.6"/><circle cx="893.5" cy="280.4" r="5.6"/><circle cx="1212.9" cy="261.4" r="5.6"/><circle cx="698.7" cy="345.5" r="5.6"/><circle cx="495.7" cy="432.7" r="5.6"/><circle cx="934" cy="249.8" r="5.6"/><circle cx="691" cy="346" r="5.6"/><circle cx="1067" cy="282.2" r="5.6"/><circle cx="1254.5" cy="279.7" r="5.6"/><circle cx="426.5" cy="438.1" r="5.6"/><circle cx="1216.7" cy="266.2" r="5.6"/><circle cx="645.8" cy="334" r="5.6"/><circle cx="395.7" cy="470.6" r="5.6"/><circle cx="1022.8" cy="244.6" r="5.6"/><circle cx="426.4" cy="431.3" r="5.6"/><circle cx="401.6" cy="457.9" r="5.6"/><circle cx="834" cy="305.1" r="5.6"/><circle cx="1257.8" cy="283" r="5.6"/><circle cx="571.5" cy="352.5" r="5.6"/><circle cx="749.7" cy="333.6" r="5.6"/><circle cx="1248.3" cy="265.6" r="5.6"/><circle cx="1005.9" cy="222" r="5.6"/><circle cx="608.1" cy="337.4" r="5.6"/><circle cx="1026" cy="258.4" r="5.6"/><circle cx="906.6" cy="278.1" r="5.6"/><circle cx="793.8" cy="312.7" r="5.6"/><circle cx="940.8" cy="244.3" r="5.6"/><circle cx="863.9" cy="295.4" r="5.6"/><circle cx="1305.4" cy="258.7" r="5.6"/><circle cx="863.9" cy="274.9" r="5.6"/><circle cx="679.1" cy="322.5" r="5.6"/><circle cx="387.9" cy="467.1" r="5.6"/><circle cx="1332.7" cy="234.9" r="5.6"/><circle cx="848" cy="305.7" r="5.6"/><circle cx="1045.1" cy="244.4" r="5.6"/><circle cx="1256.1" cy="250.9" r="5.6"/><circle cx="1262.1" cy="279.3" r="5.6"/><circle cx="676.4" cy="336.3" r="5.6"/><circle cx="1183.1" cy="284.9" r="5.6"/><circle cx="1017.2" cy="241.1" r="5.6"/><circle cx="776.1" cy="314.4" r="5.6"/><circle cx="738.3" cy="336.9" r="5.6"/><circle cx="1134.2" cy="291.5" r="5.6"/><circle cx="869.9" cy="283.9" r="5.6"/><circle cx="682.8" cy="331" r="5.6"/><circle cx="489.4" cy="406.6" r="5.6"/><circle cx="1034.3" cy="252.1" r="5.6"/><circle cx="1237.8" cy="262.2" r="5.6"/><circle cx="482.7" cy="388.7" r="5.6"/><circle cx="660.8" cy="321.4" r="5.6"/><circle cx="430.9" cy="424.7" r="5.6"/><circle cx="472" cy="397.3" r="5.6"/><circle cx="532.2" cy="373" r="5.6"/><circle cx="1039.8" cy="240.4" r="5.6"/><circle cx="651.4" cy="330" r="5.6"/><circle cx="629.2" cy="335.8" r="5.6"/><circle cx="434.3" cy="422.3" r="5.6"/><circle cx="575.3" cy="352.2" r="5.6"/><circle cx="677.8" cy="335.1" r="5.6"/><circle cx="1248.4" cy="270.5" r="5.6"/><circle cx="796.9" cy="312.4" r="5.6"/><circle cx="1343.8" cy="233.8" r="5.6"/><circle cx="1176.1" cy="274.4" r="5.6"/><circle cx="1343.2" cy="242" r="5.6"/><circle cx="838.2" cy="293.3" r="5.6"/><circle cx="664.8" cy="334.5" r="5.6"/><circle cx="1249.3" cy="261.6" r="5.6"/><circle cx="1021.4" cy="242.4" r="5.6"/><circle cx="965.8" cy="328.3" r="5.6"/><circle cx="1235.8" cy="249.8" r="5.6"/><circle cx="526.4" cy="367.8" r="5.6"/><circle cx="1218.2" cy="265.3" r="5.6"/><circle cx="1177.8" cy="294.5" r="5.6"/><circle cx="415" cy="441.1" r="5.6"/><circle cx="945.1" cy="315.5" r="5.6"/><circle cx="513.2" cy="374.2" r="5.6"/><circle cx="1101" cy="286.8" r="5.6"/><circle cx="1110" cy="280.1" r="5.6"/><circle cx="449.7" cy="432.8" r="5.6"/><circle cx="1065.5" cy="328.1" r="5.6"/><circle cx="385.2" cy="469.1" r="5.6"/><circle cx="878.2" cy="272.2" r="5.6"/><circle cx="636.4" cy="360.8" r="5.6"/><circle cx="786.4" cy="333.4" r="5.6"/><circle cx="1151.8" cy="294.7" r="5.6"/><circle cx="616.2" cy="346.2" r="5.6"/><circle cx="638.6" cy="345" r="5.6"/><circle cx="604.6" cy="340.1" r="5.6"/><circle cx="507.1" cy="376.4" r="5.6"/><circle cx="960.3" cy="244.2" r="5.6"/><circle cx="1094.9" cy="286.1" r="5.6"/><circle cx="1233.6" cy="255.7" r="5.6"/><circle cx="701.9" cy="325.1" r="5.6"/><circle cx="609.3" cy="339.4" r="5.6"/><circle cx="703.7" cy="326.9" r="5.6"/><circle cx="595.3" cy="341.5" r="5.6"/><circle cx="875.3" cy="315.2" r="5.6"/><circle cx="945.6" cy="242.4" r="5.6"/><circle cx="524.3" cy="379.4" r="5.6"/><circle cx="1293.3" cy="248.8" r="5.6"/><circle cx="462.9" cy="416.1" r="5.6"/><circle cx="682" cy="331.6" r="5.6"/><circle cx="963.9" cy="238.7" r="5.6"/><circle cx="1018.3" cy="275.9" r="5.6"/><circle cx="1014.6" cy="228.3" r="5.6"/><circle cx="1281" cy="252.6" r="5.6"/><circle cx="631.2" cy="344.8" r="5.6"/><circle cx="997.7" cy="235.2" r="5.6"/><circle cx="760.7" cy="312.1" r="5.6"/><circle cx="1323.9" cy="243.5" r="5.6"/><circle cx="1272.1" cy="250.6" r="5.6"/><circle cx="1066.1" cy="267.6" r="5.6"/><circle cx="972.4" cy="267.6" r="5.6"/><circle cx="1123.3" cy="287.6" r="5.6"/><circle cx="1060.6" cy="266.1" r="5.6"/><circle cx="821.9" cy="303.7" r="5.6"/><circle cx="414.8" cy="485.1" r="5.6"/><circle cx="1239.2" cy="269.6" r="5.6"/><circle cx="422.9" cy="437.5" r="5.6"/><circle cx="536.5" cy="379.4" r="5.6"/><circle cx="810.9" cy="299.5" r="5.6"/><circle cx="1207.9" cy="322.3" r="5.6"/><circle cx="393.4" cy="482.1" r="5.6"/><circle cx="419.5" cy="441" r="5.6"/><circle cx="1335.8" cy="250" r="5.6"/><circle cx="782.7" cy="314" r="5.6"/><circle cx="465.8" cy="405.3" r="5.6"/><circle cx="550.6" cy="374" r="5.6"/><circle cx="1074.4" cy="284.6" r="5.6"/><circle cx="649" cy="332.9" r="5.6"/><circle cx="675.6" cy="329.1" r="5.6"/><circle cx="505.5" cy="415.1" r="5.6"/><circle cx="1030.2" cy="329.7" r="5.6"/><circle cx="1228.1" cy="258.9" r="5.6"/><circle cx="817.5" cy="314.8" r="5.6"/><circle cx="1120.4" cy="286.3" r="5.6"/><circle cx="1224.9" cy="263.7" r="5.6"/><circle cx="827.4" cy="301.1" r="5.6"/><circle cx="633.8" cy="342.5" r="5.6"/><circle cx="658.5" cy="332.9" r="5.6"/><circle cx="962.5" cy="263.7" r="5.6"/><circle cx="632.5" cy="329.7" r="5.6"/><circle cx="760.6" cy="339.7" r="5.6"/><circle cx="570.7" cy="357" r="5.6"/><circle cx="817.3" cy="297.8" r="5.6"/><circle cx="1165.8" cy="289.6" r="5.6"/><circle cx="1236" cy="248.6" r="5.6"/><circle cx="1031.2" cy="228" r="5.6"/><circle cx="792.4" cy="304.8" r="5.6"/><circle cx="632" cy="337.1" r="5.6"/><circle cx="928.7" cy="257.5" r="5.6"/><circle cx="1227.1" cy="271.9" r="5.6"/><circle cx="828.1" cy="303.2" r="5.6"/><circle cx="571" cy="356.8" r="5.6"/><circle cx="471.1" cy="405.7" r="5.6"/><circle cx="429.9" cy="428.6" r="5.6"/><circle cx="1055.3" cy="292.3" r="5.6"/><circle cx="919.4" cy="261.5" r="5.6"/><circle cx="1315.1" cy="240.1" r="5.6"/><circle cx="393.1" cy="477.3" r="5.6"/><circle cx="792.6" cy="313.4" r="5.6"/><circle cx="621.8" cy="338" r="5.6"/><circle cx="1166.7" cy="322.6" r="5.6"/><circle cx="615.7" cy="335.4" r="5.6"/><circle cx="1222.9" cy="273.6" r="5.6"/><circle cx="1259.6" cy="256.4" r="5.6"/><circle cx="989" cy="252.1" r="5.6"/><circle cx="722.8" cy="325.4" r="5.6"/><circle cx="1077.3" cy="274.2" r="5.6"/><circle cx="1031.2" cy="246.1" r="5.6"/><circle cx="1303.1" cy="295.2" r="5.6"/><circle cx="1234.6" cy="268.5" r="5.6"/><circle cx="1149.7" cy="297.9" r="5.6"/><circle cx="486.9" cy="411" r="5.6"/><circle cx="426.5" cy="432.8" r="5.6"/><circle cx="672" cy="325.4" r="5.6"/><circle cx="1193.9" cy="263.2" r="5.6"/><circle cx="1286.2" cy="260.2" r="5.6"/><circle cx="929.2" cy="246" r="5.6"/><circle cx="1215.7" cy="300.4" r="5.6"/><circle cx="395" cy="456.8" r="5.6"/><circle cx="740.8" cy="318.7" r="5.6"/><circle cx="829.4" cy="353.8" r="5.6"/><circle cx="831.5" cy="303.2" r="5.6"/><circle cx="1245.7" cy="246.4" r="5.6"/><circle cx="1318.3" cy="246.8" r="5.6"/><circle cx="968.1" cy="249.6" r="5.6"/><circle cx="467.6" cy="415.8" r="5.6"/><circle cx="408.2" cy="449" r="5.6"/><circle cx="957.3" cy="268.9" r="5.6"/><circle cx="462" cy="430.4" r="5.6"/><circle cx="1158.7" cy="268" r="5.6"/><circle cx="1021.6" cy="241.3" r="5.6"/><circle cx="438" cy="417.6" r="5.6"/><circle cx="812.1" cy="299" r="5.6"/><circle cx="818.2" cy="328.1" r="5.6"/><circle cx="766.1" cy="312.3" r="5.6"/><circle cx="1047.2" cy="253.6" r="5.6"/><circle cx="491.4" cy="391.1" r="5.6"/><circle cx="385.2" cy="491.9" r="5.6"/><circle cx="800.4" cy="303.5" r="5.6"/><circle cx="714" cy="319.8" r="5.6"/><circle cx="517.8" cy="369.5" r="5.6"/><circle cx="517" cy="375.9" r="5.6"/><circle cx="520.6" cy="376.1" r="5.6"/><circle cx="926.2" cy="256.9" r="5.6"/><circle cx="893.9" cy="271.7" r="5.6"/><circle cx="929.7" cy="249.4" r="5.6"/><circle cx="425.5" cy="440.4" r="5.6"/><circle cx="758.3" cy="314.8" r="5.6"/><circle cx="805.5" cy="344.6" r="5.6"/><circle cx="824.1" cy="371" r="5.6"/><circle cx="487.7" cy="405" r="5.6"/><circle cx="962.9" cy="242.1" r="5.6"/><circle cx="568.7" cy="387.8" r="5.6"/><circle cx="777.6" cy="340.6" r="5.6"/><circle cx="742.4" cy="338.7" r="5.6"/><circle cx="708" cy="341.3" r="5.6"/><circle cx="589.3" cy="365.6" r="5.6"/><circle cx="592.6" cy="345.7" r="5.6"/><circle cx="1123.6" cy="283.8" r="5.6"/><circle cx="1253.2" cy="258.1" r="5.6"/><circle cx="816.9" cy="320.8" r="5.6"/><circle cx="401.4" cy="450.4" r="5.6"/><circle cx="899.9" cy="279.9" r="5.6"/><circle cx="447.9" cy="408.2" r="5.6"/><circle cx="579.1" cy="368.5" r="5.6"/><circle cx="635.9" cy="333.1" r="5.6"/><circle cx="615" cy="339.1" r="5.6"/><circle cx="784" cy="372.6" r="5.6"/><circle cx="421.7" cy="438.1" r="5.6"/><circle cx="889.1" cy="287.3" r="5.6"/><circle cx="666.3" cy="325.9" r="5.6"/><circle cx="1300.8" cy="274.1" r="5.6"/><circle cx="1097.6" cy="281.9" r="5.6"/><circle cx="583.7" cy="358.6" r="5.6"/><circle cx="920.2" cy="283" r="5.6"/><circle cx="1141.9" cy="299" r="5.6"/><circle cx="910.8" cy="259.8" r="5.6"/><circle cx="1073.7" cy="285.9" r="5.6"/><circle cx="784.8" cy="322.6" r="5.6"/><circle cx="1316.6" cy="241.2" r="5.6"/><circle cx="1282.8" cy="246.1" r="5.6"/><circle cx="479.9" cy="405.1" r="5.6"/><circle cx="738.6" cy="319.4" r="5.6"/><circle cx="417.2" cy="457.3" r="5.6"/><circle cx="803.7" cy="302.1" r="5.6"/><circle cx="446.6" cy="410.5" r="5.6"/><circle cx="616.2" cy="341.3" r="5.6"/><circle cx="1255.8" cy="261.2" r="5.6"/><circle cx="775.6" cy="336.7" r="5.6"/><circle cx="748.6" cy="312.9" r="5.6"/><circle cx="854.5" cy="350.3" r="5.6"/><circle cx="771.3" cy="316.6" r="5.6"/><circle cx="992.9" cy="306.4" r="5.6"/><circle cx="450.6" cy="428.8" r="5.6"/><circle cx="685.9" cy="320.7" r="5.6"/><circle cx="751.3" cy="313.7" r="5.6"/><circle cx="643.5" cy="343.4" r="5.6"/><circle cx="431.1" cy="423.7" r="5.6"/><circle cx="585.4" cy="374.4" r="5.6"/><circle cx="423.4" cy="429" r="5.6"/><circle cx="1154.6" cy="297.3" r="5.6"/><circle cx="1244.7" cy="256.2" r="5.6"/><circle cx="1130.5" cy="299.7" r="5.6"/><circle cx="704.6" cy="318.2" r="5.6"/><circle cx="1306.6" cy="320.5" r="5.6"/><circle cx="1079.2" cy="274.5" r="5.6"/><circle cx="1330.1" cy="244.8" r="5.6"/><circle cx="966.3" cy="250.8" r="5.6"/><circle cx="856.9" cy="293.9" r="5.6"/><circle cx="748" cy="333.2" r="5.6"/><circle cx="662.8" cy="320.6" r="5.6"/><circle cx="485.3" cy="393.9" r="5.6"/><circle cx="403.7" cy="473.3" r="5.6"/><circle cx="999.8" cy="293.4" r="5.6"/><circle cx="785.5" cy="371.6" r="5.6"/><circle cx="1144.9" cy="284.3" r="5.6"/><circle cx="398.9" cy="457.1" r="5.6"/><circle cx="421.5" cy="442.5" r="5.6"/><circle cx="716.4" cy="322.2" r="5.6"/><circle cx="548.2" cy="372.7" r="5.6"/><circle cx="634.2" cy="342.3" r="5.6"/><circle cx="1309.2" cy="230.8" r="5.6"/><circle cx="518.3" cy="395.5" r="5.6"/><circle cx="611.9" cy="335.6" r="5.6"/><circle cx="956.9" cy="250.4" r="5.6"/><circle cx="1196.6" cy="274.3" r="5.6"/><circle cx="1292.4" cy="252.3" r="5.6"/><circle cx="897.4" cy="257.7" r="5.6"/><circle cx="1115.8" cy="356.6" r="5.6"/><circle cx="518.3" cy="391.6" r="5.6"/><circle cx="524.8" cy="376.7" r="5.6"/><circle cx="939.7" cy="253.4" r="5.6"/><circle cx="1287" cy="273.6" r="5.6"/><circle cx="1327.3" cy="234.8" r="5.6"/><circle cx="803.2" cy="329.8" r="5.6"/><circle cx="1264.3" cy="268.8" r="5.6"/><circle cx="802.7" cy="331.9" r="5.6"/><circle cx="961.3" cy="234.6" r="5.6"/><circle cx="678" cy="334" r="5.6"/><circle cx="554.1" cy="378.6" r="5.6"/><circle cx="1072.6" cy="295.1" r="5.6"/><circle cx="1107.4" cy="282.8" r="5.6"/><circle cx="731.6" cy="346.8" r="5.6"/><circle cx="464.8" cy="398.3" r="5.6"/><circle cx="484" cy="399" r="5.6"/><circle cx="814.4" cy="295.8" r="5.6"/><circle cx="409.5" cy="451.2" r="5.6"/><circle cx="905.8" cy="269.8" r="5.6"/><circle cx="828.7" cy="304" r="5.6"/><circle cx="850.4" cy="304.2" r="5.6"/><circle cx="451.1" cy="414.7" r="5.6"/><circle cx="664.1" cy="324.4" r="5.6"/><circle cx="1098.5" cy="355.3" r="5.6"/><circle cx="1219.9" cy="251.9" r="5.6"/><circle cx="949.6" cy="298.2" r="5.6"/><circle cx="818.4" cy="310.5" r="5.6"/><circle cx="1148.8" cy="300.4" r="5.6"/><circle cx="396.9" cy="473.5" r="5.6"/><circle cx="686.5" cy="325.8" r="5.6"/><circle cx="1245" cy="247.8" r="5.6"/><circle cx="670" cy="335.6" r="5.6"/><circle cx="1203" cy="281.8" r="5.6"/><circle cx="963" cy="231.6" r="5.6"/><circle cx="1046.7" cy="256.7" r="5.6"/><circle cx="1267.1" cy="269.9" r="5.6"/><circle cx="512" cy="374.1" r="5.6"/><circle cx="872.6" cy="291.6" r="5.6"/><circle cx="1303.3" cy="243.6" r="5.6"/><circle cx="680.3" cy="331" r="5.6"/><circle cx="839.6" cy="305.8" r="5.6"/><circle cx="1324.6" cy="235.3" r="5.6"/><circle cx="469.2" cy="407.6" r="5.6"/><circle cx="1117.2" cy="300.1" r="5.6"/><circle cx="1180.5" cy="272.6" r="5.6"/><circle cx="443.3" cy="426.9" r="5.6"/><circle cx="410.3" cy="454.8" r="5.6"/><circle cx="727.3" cy="354.7" r="5.6"/><circle cx="571.2" cy="359.1" r="5.6"/><circle cx="1055.8" cy="266.6" r="5.6"/><circle cx="1054.5" cy="282.7" r="5.6"/><circle cx="774.4" cy="358.2" r="5.6"/><circle cx="934.1" cy="308.9" r="5.6"/><circle cx="881.1" cy="262.3" r="5.6"/><circle cx="1239" cy="258.4" r="5.6"/><circle cx="538.7" cy="365.5" r="5.6"/><circle cx="839.9" cy="301.1" r="5.6"/><circle cx="590" cy="343.4" r="5.6"/><circle cx="943.4" cy="280.6" r="5.6"/><circle cx="987.1" cy="239.6" r="5.6"/><circle cx="947" cy="266.3" r="5.6"/><circle cx="437.2" cy="417.7" r="5.6"/><circle cx="899" cy="278.5" r="5.6"/><circle cx="996.8" cy="234.6" r="5.6"/><circle cx="1251.3" cy="248.7" r="5.6"/><circle cx="963.2" cy="271.3" r="5.6"/><circle cx="1028.5" cy="239.4" r="5.6"/><circle cx="625.9" cy="335.6" r="5.6"/><circle cx="837.3" cy="299.7" r="5.6"/><circle cx="1188.3" cy="263" r="5.6"/><circle cx="606.6" cy="344" r="5.6"/><circle cx="1071.7" cy="276.8" r="5.6"/><circle cx="1121.9" cy="279.2" r="5.6"/><circle cx="1133" cy="277.2" r="5.6"/><circle cx="784" cy="308.5" r="5.6"/><circle cx="394.1" cy="465.9" r="5.6"/><circle cx="942.9" cy="257.9" r="5.6"/><circle cx="495.3" cy="385.4" r="5.6"/><circle cx="1107" cy="278" r="5.6"/><circle cx="697.1" cy="314" r="5.6"/><circle cx="769.5" cy="348.3" r="5.6"/><circle cx="955.5" cy="248.5" r="5.6"/><circle cx="1180.1" cy="264.3" r="5.6"/><circle cx="597.6" cy="343.6" r="5.6"/><circle cx="595.7" cy="347.2" r="5.6"/><circle cx="728" cy="320.7" r="5.6"/><circle cx="709.4" cy="323.6" r="5.6"/><circle cx="642.7" cy="328.5" r="5.6"/><circle cx="924.8" cy="257" r="5.6"/><circle cx="759.3" cy="325.7" r="5.6"/><circle cx="1272.6" cy="251.6" r="5.6"/><circle cx="561.4" cy="364.6" r="5.6"/><circle cx="400.2" cy="456.2" r="5.6"/><circle cx="530.1" cy="374.1" r="5.6"/><circle cx="786.9" cy="312" r="5.6"/><circle cx="1050.5" cy="281.5" r="5.6"/><circle cx="964.5" cy="276" r="5.6"/><circle cx="1294.4" cy="242.9" r="5.6"/><circle cx="1233.4" cy="251.2" r="5.6"/><circle cx="1075.2" cy="281.3" r="5.6"/><circle cx="743.6" cy="334.1" r="5.6"/><circle cx="696" cy="325.3" r="5.6"/><circle cx="424" cy="443" r="5.6"/><circle cx="845.5" cy="318.4" r="5.6"/><circle cx="1122.3" cy="273.3" r="5.6"/><circle cx="1221.5" cy="263.9" r="5.6"/><circle cx="768.5" cy="321.3" r="5.6"/><circle cx="1115.6" cy="289.3" r="5.6"/><circle cx="1154.9" cy="273.3" r="5.6"/><circle cx="879.2" cy="272.4" r="5.6"/><circle cx="712.6" cy="327.4" r="5.6"/><circle cx="601.2" cy="348.5" r="5.6"/><circle cx="390.9" cy="485.8" r="5.6"/><circle cx="429.7" cy="439.4" r="5.6"/><circle cx="720.5" cy="336" r="5.6"/><circle cx="710.3" cy="344.7" r="5.6"/><circle cx="936" cy="251.8" r="5.6"/><circle cx="994.2" cy="263" r="5.6"/><circle cx="519.9" cy="380.4" r="5.6"/><circle cx="433.5" cy="456.4" r="5.6"/><circle cx="732.9" cy="320.4" r="5.6"/><circle cx="932.9" cy="247.9" r="5.6"/><circle cx="487.8" cy="434.4" r="5.6"/><circle cx="1208.9" cy="268.9" r="5.6"/><circle cx="742.9" cy="337.5" r="5.6"/><circle cx="526.8" cy="368.7" r="5.6"/><circle cx="676.6" cy="332.2" r="5.6"/><circle cx="824.5" cy="312.8" r="5.6"/><circle cx="687" cy="337.6" r="5.6"/><circle cx="1308.3" cy="249.1" r="5.6"/><circle cx="540" cy="370.9" r="5.6"/><circle cx="814.5" cy="348.5" r="5.6"/><circle cx="955" cy="285.3" r="5.6"/><circle cx="710.5" cy="355.1" r="5.6"/><circle cx="1331.2" cy="229.7" r="5.6"/><circle cx="988.1" cy="263.2" r="5.6"/><circle cx="573.2" cy="347.8" r="5.6"/><circle cx="881.2" cy="267" r="5.6"/><circle cx="1030.6" cy="235.5" r="5.6"/><circle cx="1209.6" cy="297.7" r="5.6"/><circle cx="1262.2" cy="274" r="5.6"/><circle cx="388.2" cy="458.9" r="5.6"/><circle cx="722.3" cy="323.9" r="5.6"/><circle cx="764.6" cy="308.4" r="5.6"/><circle cx="1033.7" cy="242.9" r="5.6"/><circle cx="785.9" cy="324.3" r="5.6"/><circle cx="722" cy="337" r="5.6"/><circle cx="654.8" cy="324.9" r="5.6"/><circle cx="1122.4" cy="294.3" r="5.6"/><circle cx="702.5" cy="323.4" r="5.6"/><circle cx="713.7" cy="314.9" r="5.6"/><circle cx="905.4" cy="295.9" r="5.6"/><circle cx="1156" cy="276.6" r="5.6"/><circle cx="1152.1" cy="268.8" r="5.6"/><circle cx="817.5" cy="308.9" r="5.6"/><circle cx="409.4" cy="446.7" r="5.6"/><circle cx="405.8" cy="445.6" r="5.6"/><circle cx="498.1" cy="396" r="5.6"/><circle cx="1327.1" cy="233" r="5.6"/><circle cx="760" cy="316" r="5.6"/><circle cx="841.8" cy="302.7" r="5.6"/><circle cx="588.8" cy="342.9" r="5.6"/><circle cx="755.4" cy="314.6" r="5.6"/><circle cx="786.1" cy="312.8" r="5.6"/><circle cx="1285.3" cy="243.1" r="5.6"/><circle cx="932.8" cy="260.8" r="5.6"/><circle cx="923.6" cy="278.8" r="5.6"/><circle cx="730.4" cy="323.3" r="5.6"/><circle cx="1042.8" cy="236.3" r="5.6"/><circle cx="1157.8" cy="294.1" r="5.6"/><circle cx="1095" cy="280.6" r="5.6"/><circle cx="922.3" cy="304.7" r="5.6"/><circle cx="884" cy="267.2" r="5.6"/><circle cx="1296.9" cy="236.7" r="5.6"/><circle cx="923.7" cy="256" r="5.6"/><circle cx="1047.2" cy="284.8" r="5.6"/><circle cx="1023.2" cy="228.7" r="5.6"/><circle cx="1206.3" cy="271.5" r="5.6"/><circle cx="591" cy="346.8" r="5.6"/><circle cx="1116.6" cy="329.5" r="5.6"/><circle cx="1292.1" cy="251.9" r="5.6"/><circle cx="1141.6" cy="272.8" r="5.6"/><circle cx="771.6" cy="314.8" r="5.6"/><circle cx="565.1" cy="351.1" r="5.6"/><circle cx="846" cy="293.5" r="5.6"/><circle cx="1066.9" cy="307.9" r="5.6"/><circle cx="632.3" cy="333.9" r="5.6"/><circle cx="797" cy="312.4" r="5.6"/><circle cx="1256.1" cy="252.9" r="5.6"/><circle cx="863.4" cy="287.3" r="5.6"/><circle cx="626.2" cy="336.2" r="5.6"/><circle cx="945.8" cy="322.9" r="5.6"/><circle cx="719.4" cy="310.7" r="5.6"/><circle cx="618.6" cy="345" r="5.6"/><circle cx="753.8" cy="346.9" r="5.6"/><circle cx="725.4" cy="336" r="5.6"/><circle cx="604.7" cy="342" r="5.6"/><circle cx="1032.8" cy="240.2" r="5.6"/><circle cx="1074.1" cy="272.9" r="5.6"/><circle cx="996.1" cy="256" r="5.6"/><circle cx="1009.6" cy="239.4" r="5.6"/><circle cx="904.9" cy="327.8" r="5.6"/><circle cx="896" cy="265.2" r="5.6"/><circle cx="636.7" cy="339.9" r="5.6"/><circle cx="1179.1" cy="277.8" r="5.6"/><circle cx="1293.7" cy="252.1" r="5.6"/><circle cx="589.4" cy="356.5" r="5.6"/><circle cx="776" cy="323.2" r="5.6"/><circle cx="924.4" cy="262.6" r="5.6"/><circle cx="1022.4" cy="229.6" r="5.6"/><circle cx="1256.6" cy="253.9" r="5.6"/><circle cx="881.6" cy="286.9" r="5.6"/><circle cx="1126.9" cy="278.1" r="5.6"/><circle cx="1282.6" cy="246.8" r="5.6"/><circle cx="890.7" cy="265.7" r="5.6"/><circle cx="516.9" cy="383.2" r="5.6"/><circle cx="469.2" cy="403.1" r="5.6"/><circle cx="1296.8" cy="265.6" r="5.6"/><circle cx="1010" cy="231.7" r="5.6"/><circle cx="983.3" cy="293" r="5.6"/><circle cx="1290.7" cy="258.3" r="5.6"/><circle cx="495.7" cy="380.8" r="5.6"/><circle cx="1112.6" cy="312.2" r="5.6"/><circle cx="814" cy="337" r="5.6"/><circle cx="770.8" cy="363.5" r="5.6"/><circle cx="431.5" cy="435.8" r="5.6"/><circle cx="949.1" cy="258" r="5.6"/><circle cx="1130.6" cy="281.8" r="5.6"/><circle cx="841.3" cy="308" r="5.6"/><circle cx="734.2" cy="326.4" r="5.6"/><circle cx="1292.7" cy="256.4" r="5.6"/><circle cx="782.3" cy="314.6" r="5.6"/><circle cx="986.4" cy="255.7" r="5.6"/><circle cx="398.9" cy="456.2" r="5.6"/><circle cx="750" cy="314.5" r="5.6"/><circle cx="1213.9" cy="255" r="5.6"/><circle cx="919" cy="259.8" r="5.6"/><circle cx="1098.6" cy="286.6" r="5.6"/><circle cx="669.9" cy="334" r="5.6"/><circle cx="482.2" cy="401.3" r="5.6"/><circle cx="1116.1" cy="282.2" r="5.6"/><circle cx="905.4" cy="299.9" r="5.6"/><circle cx="1165.7" cy="279" r="5.6"/><circle cx="1173.2" cy="273.7" r="5.6"/><circle cx="705.7" cy="335.6" r="5.6"/><circle cx="1213.3" cy="277.7" r="5.6"/><circle cx="996.9" cy="259.4" r="5.6"/><circle cx="875.9" cy="288.2" r="5.6"/><circle cx="1261" cy="244.9" r="5.6"/><circle cx="536.2" cy="378.4" r="5.6"/><circle cx="538.6" cy="380.2" r="5.6"/><circle cx="1219.1" cy="270.8" r="5.6"/><circle cx="681.2" cy="325.4" r="5.6"/><circle cx="1271.6" cy="250.5" r="5.6"/><circle cx="1045.3" cy="307.6" r="5.6"/><circle cx="932.3" cy="252.4" r="5.6"/><circle cx="1223.1" cy="268.1" r="5.6"/><circle cx="412.5" cy="457.1" r="5.6"/><circle cx="576" cy="349.2" r="5.6"/><circle cx="1229.1" cy="287.6" r="5.6"/><circle cx="1027.5" cy="248.1" r="5.6"/><circle cx="891.2" cy="280.5" r="5.6"/><circle cx="506.7" cy="396.3" r="5.6"/><circle cx="1136.1" cy="305.8" r="5.6"/><circle cx="436.8" cy="433.1" r="5.6"/><circle cx="934.7" cy="246.1" r="5.6"/><circle cx="1020.6" cy="276.6" r="5.6"/><circle cx="762.6" cy="346.3" r="5.6"/><circle cx="1157.3" cy="280.5" r="5.6"/><circle cx="1215.8" cy="267.1" r="5.6"/><circle cx="1110.3" cy="331.5" r="5.6"/><circle cx="882.9" cy="280.1" r="5.6"/><circle cx="488.3" cy="405" r="5.6"/><circle cx="479.1" cy="398.8" r="5.6"/><circle cx="840.6" cy="309.4" r="5.6"/><circle cx="1038.6" cy="265.5" r="5.6"/><circle cx="645.7" cy="331" r="5.6"/><circle cx="439.7" cy="440.4" r="5.6"/><circle cx="986.7" cy="232" r="5.6"/><circle cx="1010" cy="219" r="5.6"/><circle cx="794" cy="324.7" r="5.6"/><circle cx="865.5" cy="273.5" r="5.6"/><circle cx="1296.4" cy="241.3" r="5.6"/><circle cx="799.1" cy="299.8" r="5.6"/><circle cx="987.3" cy="239.3" r="5.6"/><circle cx="627.9" cy="333.2" r="5.6"/><circle cx="1093" cy="327.3" r="5.6"/><circle cx="674.9" cy="331.2" r="5.6"/><circle cx="1311.7" cy="246.6" r="5.6"/><circle cx="1005.9" cy="294.1" r="5.6"/><circle cx="437" cy="421.7" r="5.6"/><circle cx="1187.6" cy="280.1" r="5.6"/><circle cx="823" cy="320.7" r="5.6"/><circle cx="900.1" cy="260.8" r="5.6"/><circle cx="406.1" cy="478.8" r="5.6"/><circle cx="819.6" cy="363.3" r="5.6"/><circle cx="1340" cy="245.6" r="5.6"/><circle cx="1292.2" cy="275.5" r="5.6"/><circle cx="637.1" cy="337.8" r="5.6"/><circle cx="887.8" cy="279.3" r="5.6"/><circle cx="995.5" cy="237" r="5.6"/><circle cx="974.3" cy="261.8" r="5.6"/><circle cx="994.8" cy="228.2" r="5.6"/><circle cx="647.6" cy="329.8" r="5.6"/><circle cx="829.5" cy="298.2" r="5.6"/><circle cx="395.1" cy="466" r="5.6"/><circle cx="474.4" cy="397.5" r="5.6"/><circle cx="837" cy="298.8" r="5.6"/><circle cx="596.4" cy="356.7" r="5.6"/><circle cx="1183.6" cy="278.8" r="5.6"/><circle cx="893.9" cy="271.6" r="5.6"/><circle cx="464.3" cy="410.6" r="5.6"/><circle cx="1172" cy="278.1" r="5.6"/><circle cx="1048.5" cy="256.8" r="5.6"/><circle cx="1167.8" cy="275.1" r="5.6"/><circle cx="599.4" cy="350.5" r="5.6"/><circle cx="1204.8" cy="259.7" r="5.6"/><circle cx="1316.4" cy="248.1" r="5.6"/><circle cx="969.3" cy="237.7" r="5.6"/><circle cx="1310.6" cy="238.4" r="5.6"/><circle cx="989.9" cy="254.6" r="5.6"/><circle cx="971" cy="250" r="5.6"/><circle cx="1203.1" cy="257.3" r="5.6"/><circle cx="567.2" cy="371.7" r="5.6"/><circle cx="1215.1" cy="256.6" r="5.6"/><circle cx="681" cy="326.4" r="5.6"/><circle cx="990.5" cy="232.2" r="5.6"/><circle cx="989.8" cy="279.3" r="5.6"/><circle cx="913.2" cy="257.4" r="5.6"/><circle cx="1196.1" cy="287.9" r="5.6"/><circle cx="468.6" cy="409.4" r="5.6"/><circle cx="1044.4" cy="312.7" r="5.6"/><circle cx="619.8" cy="345.4" r="5.6"/><circle cx="900" cy="305" r="5.6"/><circle cx="757.4" cy="344.8" r="5.6"/><circle cx="789.3" cy="325.8" r="5.6"/><circle cx="1114.1" cy="297.8" r="5.6"/><circle cx="1026.1" cy="237.9" r="5.6"/><circle cx="865.1" cy="271.7" r="5.6"/><circle cx="1228" cy="247.9" r="5.6"/><circle cx="903.1" cy="282.1" r="5.6"/><circle cx="478.5" cy="413.7" r="5.6"/><circle cx="694.8" cy="343.6" r="5.6"/><circle cx="704.1" cy="326.6" r="5.6"/><circle cx="953.2" cy="246.3" r="5.6"/><circle cx="400.4" cy="471" r="5.6"/><circle cx="1115" cy="293.7" r="5.6"/><circle cx="1325.7" cy="238.7" r="5.6"/><circle cx="950.5" cy="236.3" r="5.6"/><circle cx="493.1" cy="384" r="5.6"/><circle cx="443.3" cy="420.3" r="5.6"/><circle cx="807.9" cy="321.5" r="5.6"/><circle cx="1258.3" cy="245" r="5.6"/><circle cx="1322.7" cy="231.9" r="5.6"/><circle cx="888.5" cy="281.1" r="5.6"/><circle cx="561.9" cy="373.2" r="5.6"/><circle cx="979.9" cy="237.3" r="5.6"/><circle cx="1081.6" cy="309.7" r="5.6"/><circle cx="489.1" cy="409.7" r="5.6"/><circle cx="598.3" cy="348.1" r="5.6"/><circle cx="551.3" cy="377" r="5.6"/><circle cx="1038.2" cy="228.1" r="5.6"/><circle cx="1151.8" cy="293.1" r="5.6"/><circle cx="673.7" cy="345.6" r="5.6"/><circle cx="776.9" cy="335.1" r="5.6"/><circle cx="554.2" cy="366.9" r="5.6"/><circle cx="500.8" cy="403.4" r="5.6"/><circle cx="695.8" cy="314.2" r="5.6"/><circle cx="946.4" cy="248.7" r="5.6"/><circle cx="741.3" cy="327.4" r="5.6"/><circle cx="964.2" cy="235.4" r="5.6"/><circle cx="569.2" cy="354.2" r="5.6"/><circle cx="1193.9" cy="316.6" r="5.6"/><circle cx="1026.9" cy="227" r="5.6"/><circle cx="472.9" cy="399" r="5.6"/><circle cx="1222.4" cy="261.1" r="5.6"/><circle cx="856.3" cy="299.3" r="5.6"/><circle cx="1275.7" cy="313.8" r="5.6"/><circle cx="467.3" cy="441.3" r="5.6"/><circle cx="1286.3" cy="243.4" r="5.6"/><circle cx="664" cy="341.2" r="5.6"/><circle cx="873.9" cy="283.2" r="5.6"/><circle cx="1324.7" cy="235.6" r="5.6"/><circle cx="1206.2" cy="271.7" r="5.6"/><circle cx="1185.6" cy="272.7" r="5.6"/><circle cx="1254.2" cy="251" r="5.6"/><circle cx="537.7" cy="383.7" r="5.6"/><circle cx="1062.5" cy="311.5" r="5.6"/><circle cx="473.6" cy="413.3" r="5.6"/><circle cx="717.8" cy="332.1" r="5.6"/><circle cx="900.6" cy="277.9" r="5.6"/><circle cx="1069.5" cy="268.2" r="5.6"/><circle cx="668.1" cy="333.2" r="5.6"/><circle cx="1028.8" cy="232.8" r="5.6"/><circle cx="994.8" cy="241.7" r="5.6"/><circle cx="688.7" cy="356.2" r="5.6"/><circle cx="1339.1" cy="233.6" r="5.6"/><circle cx="1125.1" cy="278" r="5.6"/><circle cx="771" cy="312.4" r="5.6"/><circle cx="726.2" cy="315.9" r="5.6"/><circle cx="422.9" cy="466.9" r="5.6"/><circle cx="772.2" cy="311.3" r="5.6"/><circle cx="449.9" cy="422.5" r="5.6"/><circle cx="1293.3" cy="242.8" r="5.6"/><circle cx="543.2" cy="368.9" r="5.6"/><circle cx="810" cy="325" r="5.6"/><circle cx="439.5" cy="444.2" r="5.6"/><circle cx="1109.7" cy="295.6" r="5.6"/><circle cx="1281.6" cy="257" r="5.6"/><circle cx="591.9" cy="349.5" r="5.6"/><circle cx="1261.2" cy="282.8" r="5.6"/><circle cx="1080.6" cy="316.4" r="5.6"/><circle cx="547.1" cy="367.2" r="5.6"/><circle cx="1182.5" cy="277.4" r="5.6"/><circle cx="1187.6" cy="291.5" r="5.6"/><circle cx="507.7" cy="361.7" r="5.6"/><circle cx="1184.1" cy="245.8" r="5.6"/><circle cx="1122.6" cy="249.2" r="5.6"/><circle cx="1128.1" cy="204.3" r="5.6"/><circle cx="1301.3" cy="186" r="5.6"/><circle cx="1088.2" cy="247.1" r="5.6"/><circle cx="460.8" cy="265" r="5.6"/><circle cx="1237.8" cy="214" r="5.6"/><circle cx="571.1" cy="314.6" r="5.6"/><circle cx="796.9" cy="252.2" r="5.6"/><circle cx="760" cy="292.7" r="5.6"/><circle cx="1167.9" cy="150.9" r="5.6"/><circle cx="1105.1" cy="216.5" r="5.6"/><circle cx="319.9" cy="389.5" r="5.6"/><circle cx="1151.5" cy="197.3" r="5.6"/><circle cx="442.6" cy="332.5" r="5.6"/><circle cx="374" cy="309.7" r="5.6"/><circle cx="540.3" cy="204.4" r="5.6"/><circle cx="753.1" cy="277.8" r="5.6"/><circle cx="1082.4" cy="239.9" r="5.6"/><circle cx="1165.2" cy="270.9" r="5.6"/><circle cx="616" cy="269.4" r="5.6"/><circle cx="971.7" cy="157.4" r="5.6"/><circle cx="992.4" cy="176.6" r="5.6"/><circle cx="471.7" cy="286.1" r="5.6"/><circle cx="1316.1" cy="186.7" r="5.6"/><circle cx="958.9" cy="208" r="5.6"/><circle cx="567.3" cy="220.3" r="5.6"/><circle cx="1276" cy="157.4" r="5.6"/><circle cx="677.7" cy="309.9" r="5.6"/><circle cx="816" cy="249.7" r="5.6"/><circle cx="827.7" cy="230.9" r="5.6"/><circle cx="410.8" cy="406.4" r="5.6"/><circle cx="547" cy="317.8" r="5.6"/><circle cx="1316.2" cy="160" r="5.6"/><circle cx="1127" cy="147.2" r="5.6"/><circle cx="403.7" cy="383" r="5.6"/><circle cx="1138.8" cy="226.9" r="5.6"/><circle cx="472.3" cy="372.5" r="5.6"/><circle cx="512.4" cy="288.4" r="5.6"/><circle cx="1298.8" cy="187.9" r="5.6"/><circle cx="515.7" cy="260.2" r="5.6"/><circle cx="505.7" cy="363.5" r="5.6"/><circle cx="591.6" cy="191.6" r="5.6"/><circle cx="294.4" cy="475.2" r="5.6"/><circle cx="903.3" cy="196" r="5.6"/><circle cx="485.2" cy="345.7" r="5.6"/><circle cx="1230.7" cy="252" r="5.6"/><circle cx="536.8" cy="318.8" r="5.6"/><circle cx="666.2" cy="246.1" r="5.6"/><circle cx="552.3" cy="217.9" r="5.6"/><circle cx="1131.2" cy="173.2" r="5.6"/><circle cx="264.1" cy="421.7" r="5.6"/><circle cx="554.9" cy="216" r="5.6"/><circle cx="907.5" cy="164" r="5.6"/><circle cx="695.2" cy="252.6" r="5.6"/><circle cx="1259.5" cy="170.6" r="5.6"/><circle cx="624" cy="233.6" r="5.6"/><circle cx="838.3" cy="227.3" r="5.6"/><circle cx="308.3" cy="462.1" r="5.6"/><circle cx="377" cy="462.3" r="5.6"/><circle cx="759.1" cy="203.8" r="5.6"/><circle cx="713.1" cy="236.3" r="5.6"/><circle cx="794.4" cy="224.4" r="5.6"/><circle cx="583.3" cy="276.3" r="5.6"/><circle cx="1060.4" cy="207.6" r="5.6"/><circle cx="1095.1" cy="246.9" r="5.6"/><circle cx="702.5" cy="251.6" r="5.6"/><circle cx="1093.7" cy="191" r="5.6"/><circle cx="1094.4" cy="259.8" r="5.6"/><circle cx="714.3" cy="161.9" r="5.6"/><circle cx="552.8" cy="304.1" r="5.6"/><circle cx="1217.1" cy="217.6" r="5.6"/><circle cx="1008.1" cy="193.2" r="5.6"/><circle cx="695.8" cy="283.7" r="5.6"/><circle cx="1160.8" cy="266.4" r="5.6"/><circle cx="1196.9" cy="214.2" r="5.6"/><circle cx="912.2" cy="177.6" r="5.6"/><circle cx="1000.1" cy="201.1" r="5.6"/><circle cx="1314" cy="187.4" r="5.6"/><circle cx="668.6" cy="247.8" r="5.6"/><circle cx="814.8" cy="148.3" r="5.6"/><circle cx="1014.4" cy="178" r="5.6"/><circle cx="950.1" cy="211.8" r="5.6"/><circle cx="345" cy="481.7" r="5.6"/><circle cx="1228.7" cy="242" r="5.6"/><circle cx="563" cy="304.4" r="5.6"/><circle cx="1064.7" cy="162.2" r="5.6"/><circle cx="391.3" cy="448.8" r="5.6"/><circle cx="1164.4" cy="262.8" r="5.6"/><circle cx="926.6" cy="187.5" r="5.6"/><circle cx="905" cy="251.4" r="5.6"/><circle cx="629.1" cy="198.4" r="5.6"/><circle cx="1217.9" cy="141.5" r="5.6"/><circle cx="1022" cy="172.7" r="5.6"/><circle cx="1160" cy="250.8" r="5.6"/><circle cx="394.2" cy="356.3" r="5.6"/><circle cx="866.7" cy="137.2" r="5.6"/><circle cx="1165.7" cy="199.8" r="5.6"/><circle cx="665.7" cy="225.4" r="5.6"/><circle cx="429.1" cy="408.4" r="5.6"/><circle cx="1293.4" cy="226.6" r="5.6"/><circle cx="379.4" cy="444.9" r="5.6"/><circle cx="369.8" cy="357.5" r="5.6"/><circle cx="1084.3" cy="231.3" r="5.6"/><circle cx="416.2" cy="278" r="5.6"/><circle cx="882" cy="254.8" r="5.6"/><circle cx="849.6" cy="180.9" r="5.6"/><circle cx="531.3" cy="314.7" r="5.6"/><circle cx="862.9" cy="216.6" r="5.6"/><circle cx="817.7" cy="227.8" r="5.6"/><circle cx="1053.6" cy="188.8" r="5.6"/><circle cx="686.8" cy="246.7" r="5.6"/><circle cx="760.3" cy="253.6" r="5.6"/><circle cx="700" cy="241.2" r="5.6"/><circle cx="796" cy="303.7" r="5.6"/><circle cx="444.6" cy="314.1" r="5.6"/><circle cx="1119.8" cy="247.6" r="5.6"/><circle cx="271.8" cy="457.1" r="5.6"/><circle cx="1019.3" cy="148.7" r="5.6"/><circle cx="1141.2" cy="173.7" r="5.6"/><circle cx="1200" cy="256.8" r="5.6"/><circle cx="831.3" cy="235.3" r="5.6"/><circle cx="926.7" cy="214.7" r="5.6"/><circle cx="503.4" cy="356.9" r="5.6"/><circle cx="712.3" cy="293.5" r="5.6"/><circle cx="1044.7" cy="186.9" r="5.6"/><circle cx="1201.9" cy="196.3" r="5.6"/><circle cx="707" cy="160.3" r="5.6"/><circle cx="427.5" cy="268.6" r="5.6"/><circle cx="906.4" cy="226.8" r="5.6"/><circle cx="260.7" cy="517.7" r="5.6"/><circle cx="901.1" cy="145" r="5.6"/><circle cx="786.4" cy="201.7" r="5.6"/><circle cx="568.1" cy="346.6" r="5.6"/><circle cx="1334.4" cy="217.3" r="5.6"/><circle cx="1255.6" cy="215" r="5.6"/><circle cx="404.7" cy="275.6" r="5.6"/><circle cx="397.1" cy="387.5" r="5.6"/><circle cx="1139.6" cy="237.1" r="5.6"/><circle cx="504.2" cy="288.3" r="5.6"/><circle cx="301.1" cy="392.1" r="5.6"/><circle cx="937.2" cy="147.4" r="5.6"/><circle cx="365.4" cy="357.8" r="5.6"/><circle cx="1033.8" cy="151.7" r="5.6"/><circle cx="770.8" cy="192.7" r="5.6"/><circle cx="362" cy="318.5" r="5.6"/><circle cx="983.7" cy="171.4" r="5.6"/><circle cx="728.4" cy="272.3" r="5.6"/><circle cx="503" cy="269" r="5.6"/><circle cx="569.2" cy="349.7" r="5.6"/><circle cx="1153.1" cy="201.4" r="5.6"/><circle cx="401.7" cy="398.5" r="5.6"/><circle cx="934.7" cy="233.3" r="5.6"/><circle cx="1033.6" cy="187" r="5.6"/><circle cx="322.4" cy="380.7" r="5.6"/><circle cx="533.2" cy="310.5" r="5.6"/><circle cx="1099.8" cy="267.1" r="5.6"/><circle cx="303.5" cy="415.4" r="5.6"/><circle cx="914.2" cy="226.3" r="5.6"/><circle cx="1071.2" cy="175.4" r="5.6"/><circle cx="410.7" cy="421.7" r="5.6"/><circle cx="702.7" cy="252.1" r="5.6"/><circle cx="292" cy="489.7" r="5.6"/><circle cx="635.8" cy="285.1" r="5.6"/><circle cx="343.8" cy="441.9" r="5.6"/><circle cx="575.1" cy="222.4" r="5.6"/><circle cx="680.3" cy="320.8" r="5.6"/><circle cx="904.3" cy="132.4" r="5.6"/><circle cx="322.8" cy="468.2" r="5.6"/><circle cx="786" cy="201.9" r="5.6"/><circle cx="1254" cy="242" r="5.6"/><circle cx="1315.1" cy="156.9" r="5.6"/><circle cx="643.3" cy="314.1" r="5.6"/><circle cx="1085.6" cy="179" r="5.6"/><circle cx="1208.2" cy="250.6" r="5.6"/><circle cx="1295.2" cy="220.1" r="5.6"/><circle cx="313" cy="347.7" r="5.6"/><circle cx="1234.4" cy="187" r="5.6"/><circle cx="638.5" cy="290.2" r="5.6"/><circle cx="906.2" cy="173.3" r="5.6"/><circle cx="689.4" cy="224.5" r="5.6"/><circle cx="1305.1" cy="165.5" r="5.6"/><circle cx="755.8" cy="218.3" r="5.6"/><circle cx="1203.6" cy="220.3" r="5.6"/><circle cx="1119.9" cy="201.8" r="5.6"/><circle cx="579.9" cy="230.3" r="5.6"/><circle cx="1309.2" cy="165.4" r="5.6"/><circle cx="1146.3" cy="144.4" r="5.6"/><circle cx="520.5" cy="250.7" r="5.6"/><circle cx="1303.1" cy="213.2" r="5.6"/><circle cx="818.9" cy="296.3" r="5.6"/><circle cx="377.1" cy="428.9" r="5.6"/><circle cx="882.9" cy="203.5" r="5.6"/><circle cx="559.1" cy="260.9" r="5.6"/><circle cx="385.6" cy="288.7" r="5.6"/><circle cx="982.9" cy="220.4" r="5.6"/><circle cx="425.4" cy="337.6" r="5.6"/><circle cx="948.9" cy="213.7" r="5.6"/><circle cx="492.5" cy="283.6" r="5.6"/><circle cx="735.2" cy="308.9" r="5.6"/><circle cx="438" cy="393.2" r="5.6"/><circle cx="1107.3" cy="178.6" r="5.6"/><circle cx="915.8" cy="180.5" r="5.6"/><circle cx="351.7" cy="369" r="5.6"/><circle cx="352.5" cy="424.8" r="5.6"/><circle cx="1118.8" cy="152.4" r="5.6"/><circle cx="693.5" cy="300.5" r="5.6"/><circle cx="910" cy="243.2" r="5.6"/><circle cx="306.4" cy="442.3" r="5.6"/><circle cx="1300.9" cy="171.3" r="5.6"/><circle cx="1092.6" cy="185.6" r="5.6"/><circle cx="1100.5" cy="200.1" r="5.6"/><circle cx="822.3" cy="250" r="5.6"/><circle cx="823.5" cy="280.7" r="5.6"/><circle cx="746.8" cy="172.4" r="5.6"/><circle cx="681.4" cy="262.9" r="5.6"/><circle cx="672.1" cy="263.4" r="5.6"/><circle cx="273.5" cy="389.9" r="5.6"/><circle cx="1164.8" cy="199.4" r="5.6"/><circle cx="467.8" cy="332.1" r="5.6"/><circle cx="290.2" cy="376.2" r="5.6"/><circle cx="740" cy="197.4" r="5.6"/><circle cx="575.4" cy="204.3" r="5.6"/><circle cx="772.2" cy="190.4" r="5.6"/><circle cx="1045.3" cy="231.1" r="5.6"/><circle cx="1095.7" cy="161" r="5.6"/><circle cx="789" cy="160.3" r="5.6"/><circle cx="611.4" cy="280.9" r="5.6"/><circle cx="316.4" cy="354.2" r="5.6"/><circle cx="1344.9" cy="178.6" r="5.6"/><circle cx="1307.1" cy="155" r="5.6"/><circle cx="531.7" cy="231.9" r="5.6"/><circle cx="1066.3" cy="178.1" r="5.6"/><circle cx="385.1" cy="451.8" r="5.6"/><circle cx="1079" cy="206.6" r="5.6"/><circle cx="1008.4" cy="222.1" r="5.6"/><circle cx="1037.9" cy="220.6" r="5.6"/><circle cx="449.8" cy="367.8" r="5.6"/><circle cx="268.3" cy="504.3" r="5.6"/><circle cx="1318" cy="208.8" r="5.6"/><circle cx="968.7" cy="158.6" r="5.6"/><circle cx="1224.7" cy="214.2" r="5.6"/><circle cx="1342.7" cy="228.7" r="5.6"/><circle cx="456.3" cy="312" r="5.6"/><circle cx="266.3" cy="486.1" r="5.6"/><circle cx="319.6" cy="412.4" r="5.6"/><circle cx="352.3" cy="415.5" r="5.6"/><circle cx="494.5" cy="240.8" r="5.6"/><circle cx="656.5" cy="189.4" r="5.6"/><circle cx="993.8" cy="160.6" r="5.6"/><circle cx="1161.8" cy="145" r="5.6"/><circle cx="424" cy="331.3" r="5.6"/><circle cx="1282.3" cy="237.5" r="5.6"/><circle cx="370.7" cy="390.7" r="5.6"/><circle cx="1048.2" cy="199.9" r="5.6"/><circle cx="692.4" cy="311.8" r="5.6"/><circle cx="309.6" cy="446.6" r="5.6"/><circle cx="287.4" cy="504.6" r="5.6"/><circle cx="1266" cy="230.6" r="5.6"/><circle cx="731.2" cy="195.9" r="5.6"/><circle cx="804.1" cy="220.7" r="5.6"/><circle cx="697.3" cy="215.9" r="5.6"/><circle cx="1144.8" cy="162.5" r="5.6"/><circle cx="568.8" cy="236" r="5.6"/><circle cx="725.9" cy="221" r="5.6"/><circle cx="934.9" cy="179.6" r="5.6"/><circle cx="1298.3" cy="205.5" r="5.6"/><circle cx="533.5" cy="368.1" r="5.6"/><circle cx="906.7" cy="243.1" r="5.6"/><circle cx="534.1" cy="257.1" r="5.6"/><circle cx="735.1" cy="248.4" r="5.6"/><circle cx="590.3" cy="334.1" r="5.6"/><circle cx="478.2" cy="315.2" r="5.6"/><circle cx="1008.5" cy="219.8" r="5.6"/><circle cx="1133.6" cy="196.2" r="5.6"/><circle cx="1109.3" cy="228.4" r="5.6"/><circle cx="530.5" cy="208.8" r="5.6"/><circle cx="1230.4" cy="188.4" r="5.6"/><circle cx="853.5" cy="172.7" r="5.6"/><circle cx="1322.2" cy="225" r="5.6"/><circle cx="393.5" cy="375" r="5.6"/><circle cx="383.5" cy="352.6" r="5.6"/><circle cx="704.3" cy="298.9" r="5.6"/><circle cx="1321.6" cy="173.6" r="5.6"/><circle cx="418.1" cy="304.5" r="5.6"/><circle cx="707.8" cy="157.7" r="5.6"/><circle cx="690" cy="214.5" r="5.6"/><circle cx="807.7" cy="238.7" r="5.6"/><circle cx="641.3" cy="233.2" r="5.6"/><circle cx="307.9" cy="438" r="5.6"/><circle cx="445.7" cy="282.5" r="5.6"/><circle cx="778.7" cy="246.5" r="5.6"/><circle cx="778.9" cy="227.1" r="5.6"/><circle cx="920.4" cy="156.3" r="5.6"/><circle cx="443.2" cy="367" r="5.6"/><circle cx="894.2" cy="183.4" r="5.6"/><circle cx="1036.8" cy="161.6" r="5.6"/><circle cx="704.8" cy="157.6" r="5.6"/><circle cx="654.9" cy="277.7" r="5.6"/><circle cx="800.8" cy="266.4" r="5.6"/><circle cx="303.3" cy="442.6" r="5.6"/><circle cx="871.6" cy="192.5" r="5.6"/><circle cx="943.2" cy="158.7" r="5.6"/><circle cx="910.1" cy="231" r="5.6"/><circle cx="295.3" cy="367.7" r="5.6"/><circle cx="559.6" cy="278.1" r="5.6"/><circle cx="1228.7" cy="210.6" r="5.6"/><circle cx="1179" cy="185.4" r="5.6"/><circle cx="1033.2" cy="223.5" r="5.6"/><circle cx="1122" cy="162.1" r="5.6"/><circle cx="670.9" cy="200.6" r="5.6"/><circle cx="1181.4" cy="228.7" r="5.6"/><circle cx="431" cy="356.8" r="5.6"/><circle cx="1052" cy="226.9" r="5.6"/><circle cx="1190.2" cy="244.1" r="5.6"/><circle cx="1204.9" cy="207.5" r="5.6"/><circle cx="990.1" cy="195" r="5.6"/><circle cx="454.8" cy="287.6" r="5.6"/><circle cx="1124.8" cy="187.1" r="5.6"/><circle cx="572" cy="247.5" r="5.6"/><circle cx="1152.7" cy="186.7" r="5.6"/><circle cx="303.8" cy="445.7" r="5.6"/><circle cx="993.7" cy="206.4" r="5.6"/><circle cx="936.7" cy="140.9" r="5.6"/><circle cx="379.9" cy="377.1" r="5.6"/><circle cx="1334.5" cy="222.1" r="5.6"/><circle cx="880" cy="160.7" r="5.6"/><circle cx="1083.1" cy="232.2" r="5.6"/><circle cx="272.3" cy="389.1" r="5.6"/><circle cx="1053.2" cy="245.6" r="5.6"/><circle cx="1086.6" cy="186.2" r="5.6"/><circle cx="404.9" cy="297.3" r="5.6"/><circle cx="746.4" cy="302.7" r="5.6"/><circle cx="652.2" cy="269.4" r="5.6"/><circle cx="374.7" cy="314.1" r="5.6"/><circle cx="757.6" cy="210.6" r="5.6"/><circle cx="590.2" cy="294.2" r="5.6"/><circle cx="487.9" cy="261.5" r="5.6"/><circle cx="668" cy="276.2" r="5.6"/><circle cx="663" cy="189.6" r="5.6"/><circle cx="1334.4" cy="197.9" r="5.6"/><circle cx="640.6" cy="228.6" r="5.6"/><circle cx="261.9" cy="469.6" r="5.6"/><circle cx="323.2" cy="465.6" r="5.6"/><circle cx="980.5" cy="168.5" r="5.6"/><circle cx="1051.8" cy="182.9" r="5.6"/><circle cx="778.9" cy="250.1" r="5.6"/><circle cx="451.8" cy="318.7" r="5.6"/><circle cx="874.4" cy="237.5" r="5.6"/><circle cx="1329" cy="177.6" r="5.6"/><circle cx="1025" cy="155.6" r="5.6"/><circle cx="757.8" cy="216.4" r="5.6"/><circle cx="644.2" cy="253.9" r="5.6"/><circle cx="583.7" cy="214" r="5.6"/><circle cx="928.2" cy="179.6" r="5.6"/><circle cx="1189.6" cy="255.8" r="5.6"/><circle cx="1202.4" cy="168.4" r="5.6"/><circle cx="657.5" cy="209.2" r="5.6"/><circle cx="618.8" cy="213.7" r="5.6"/><circle cx="517.9" cy="222.1" r="5.6"/><circle cx="1336.9" cy="209.2" r="5.6"/><circle cx="531" cy="339.2" r="5.6"/><circle cx="749.2" cy="238.2" r="5.6"/><circle cx="977.8" cy="213.9" r="5.6"/><circle cx="368.1" cy="439" r="5.6"/><circle cx="684.3" cy="166.7" r="5.6"/><circle cx="732" cy="267.5" r="5.6"/><circle cx="633.7" cy="284.4" r="5.6"/><circle cx="357.7" cy="434.5" r="5.6"/><circle cx="953.1" cy="136.5" r="5.6"/><circle cx="466.5" cy="247.9" r="5.6"/><circle cx="1185.8" cy="212" r="5.6"/><circle cx="1019" cy="154.5" r="5.6"/><circle cx="427" cy="413.6" r="5.6"/><circle cx="280.2" cy="399.6" r="5.6"/><circle cx="923.5" cy="191.6" r="5.6"/><circle cx="846.7" cy="230.7" r="5.6"/><circle cx="1128.9" cy="191.1" r="5.6"/><circle cx="877.4" cy="149" r="5.6"/><circle cx="1231" cy="238.4" r="5.6"/><circle cx="328" cy="371.2" r="5.6"/><circle cx="366.3" cy="393.2" r="5.6"/><circle cx="381.9" cy="392" r="5.6"/><circle cx="667.8" cy="181.8" r="5.6"/><circle cx="267.7" cy="415.1" r="5.6"/><circle cx="902.7" cy="146" r="5.6"/><circle cx="653.4" cy="225.4" r="5.6"/><circle cx="815.6" cy="296.4" r="5.6"/><circle cx="1242.7" cy="208.9" r="5.6"/><circle cx="1326.5" cy="160.6" r="5.6"/><circle cx="951.3" cy="219" r="5.6"/><circle cx="278.3" cy="508.8" r="5.6"/><circle cx="998.9" cy="222.7" r="5.6"/><circle cx="517.2" cy="238.4" r="5.6"/><circle cx="995.2" cy="155.3" r="5.6"/><circle cx="887.5" cy="174.1" r="5.6"/><circle cx="428.4" cy="288.4" r="5.6"/><circle cx="1218.1" cy="157.3" r="5.6"/><circle cx="363.2" cy="370.9" r="5.6"/><circle cx="498.1" cy="305.9" r="5.6"/><circle cx="1059.5" cy="257.4" r="5.6"/><circle cx="989.6" cy="167.7" r="5.6"/><circle cx="544.7" cy="272.9" r="5.6"/><circle cx="574.8" cy="281.1" r="5.6"/><circle cx="739.6" cy="291.1" r="5.6"/><circle cx="1103.6" cy="225.5" r="5.6"/><circle cx="1296.7" cy="230.3" r="5.6"/><circle cx="557.7" cy="336.8" r="5.6"/><circle cx="1241" cy="225.3" r="5.6"/><circle cx="1250.2" cy="156.9" r="5.6"/><circle cx="1277.7" cy="212.7" r="5.6"/><circle cx="462.8" cy="362.5" r="5.6"/><circle cx="1223.9" cy="207.2" r="5.6"/><circle cx="1289.7" cy="213.1" r="5.6"/><circle cx="896.1" cy="241.3" r="5.6"/><circle cx="1310.3" cy="222.1" r="5.6"/><circle cx="855.1" cy="234.7" r="5.6"/><circle cx="528.3" cy="238.7" r="5.6"/><circle cx="380" cy="355" r="5.6"/><circle cx="1106.1" cy="231.9" r="5.6"/><circle cx="1131.9" cy="178.6" r="5.6"/><circle cx="602.6" cy="323" r="5.6"/><circle cx="391.1" cy="444.1" r="5.6"/><circle cx="1151.8" cy="181.3" r="5.6"/><circle cx="1151.8" cy="266" r="5.6"/><circle cx="888.2" cy="235.5" r="5.6"/><circle cx="409" cy="438" r="5.6"/><circle cx="304.6" cy="451" r="5.6"/><circle cx="1078.9" cy="241.3" r="5.6"/><circle cx="524.2" cy="309" r="5.6"/><circle cx="482.3" cy="269.3" r="5.6"/><circle cx="1077.2" cy="253.2" r="5.6"/><circle cx="491.8" cy="354.9" r="5.6"/><circle cx="885.3" cy="194.8" r="5.6"/><circle cx="667.5" cy="267" r="5.6"/><circle cx="898.3" cy="148.6" r="5.6"/><circle cx="1265.1" cy="232" r="5.6"/><circle cx="963.9" cy="192.8" r="5.6"/><circle cx="1180.5" cy="214.3" r="5.6"/><circle cx="1010.7" cy="176.9" r="5.6"/><circle cx="420.5" cy="424.6" r="5.6"/><circle cx="1284.4" cy="217.4" r="5.6"/><circle cx="1050.2" cy="162" r="5.6"/><circle cx="1096.9" cy="251.9" r="5.6"/><circle cx="609.4" cy="233.4" r="5.6"/><circle cx="315.6" cy="420.2" r="5.6"/><circle cx="1264" cy="229.1" r="5.6"/><circle cx="782" cy="295" r="5.6"/><circle cx="897.6" cy="152.5" r="5.6"/><circle cx="688.2" cy="293.4" r="5.6"/><circle cx="926.3" cy="152.5" r="5.6"/><circle cx="485.8" cy="337.8" r="5.6"/><circle cx="833.2" cy="170.2" r="5.6"/><circle cx="490.5" cy="242" r="5.6"/><circle cx="1199.2" cy="236" r="5.6"/><circle cx="1137.4" cy="237.3" r="5.6"/><circle cx="335" cy="331.2" r="5.6"/><circle cx="1032.2" cy="198.1" r="5.6"/><circle cx="1159.1" cy="241.5" r="5.6"/><circle cx="722.6" cy="252.8" r="5.6"/><circle cx="1292.2" cy="158.7" r="5.6"/><circle cx="933.6" cy="192.5" r="5.6"/><circle cx="801.6" cy="245.7" r="5.6"/><circle cx="701.3" cy="179.7" r="5.6"/><circle cx="1060.2" cy="259.1" r="5.6"/><circle cx="782.5" cy="283.4" r="5.6"/><circle cx="1174.4" cy="210.5" r="5.6"/><circle cx="1201.9" cy="180.5" r="5.6"/><circle cx="664.3" cy="244.9" r="5.6"/><circle cx="760.5" cy="164.9" r="5.6"/><circle cx="367.8" cy="407" r="5.6"/><circle cx="489.4" cy="309.7" r="5.6"/><circle cx="631" cy="239.9" r="5.6"/><circle cx="648.8" cy="317.4" r="5.6"/><circle cx="300.9" cy="370.8" r="5.6"/><circle cx="273.5" cy="402.8" r="5.6"/><circle cx="923.2" cy="180.2" r="5.6"/><circle cx="1263.1" cy="172.8" r="5.6"/><circle cx="648.5" cy="320.8" r="5.6"/><circle cx="795.9" cy="197.2" r="5.6"/><circle cx="880.3" cy="262.6" r="5.6"/><circle cx="1159" cy="193.7" r="5.6"/><circle cx="1167.4" cy="267.1" r="5.6"/><circle cx="631.1" cy="228.3" r="5.6"/><circle cx="1237.1" cy="187.1" r="5.6"/><circle cx="340.6" cy="369.8" r="5.6"/><circle cx="1041.6" cy="169" r="5.6"/><circle cx="871.2" cy="145.2" r="5.6"/><circle cx="734.1" cy="257" r="5.6"/><circle cx="342.1" cy="416.8" r="5.6"/><circle cx="514.4" cy="284.9" r="5.6"/><circle cx="998.5" cy="143.3" r="5.6"/><circle cx="742.5" cy="236.1" r="5.6"/><circle cx="1326.8" cy="195.2" r="5.6"/><circle cx="1215.4" cy="243.3" r="5.6"/><circle cx="1203.8" cy="201.9" r="5.6"/><circle cx="419.6" cy="308.6" r="5.6"/><circle cx="358.2" cy="313" r="5.6"/><circle cx="737.1" cy="265.2" r="5.6"/><circle cx="1025.9" cy="207.7" r="5.6"/><circle cx="476.9" cy="250.7" r="5.6"/><circle cx="294.1" cy="436.7" r="5.6"/><circle cx="578.1" cy="310.3" r="5.6"/><circle cx="1080.6" cy="191.3" r="5.6"/><circle cx="543" cy="284.5" r="5.6"/><circle cx="1193.4" cy="250" r="5.6"/><circle cx="1057.7" cy="231.7" r="5.6"/><circle cx="984.1" cy="141.5" r="5.6"/><circle cx="1019.4" cy="148" r="5.6"/><circle cx="280.5" cy="407.3" r="5.6"/><circle cx="583.3" cy="311.9" r="5.6"/><circle cx="1020.3" cy="164.2" r="5.6"/><circle cx="1317.6" cy="155" r="5.6"/><circle cx="831.9" cy="267.1" r="5.6"/><circle cx="382.9" cy="402.8" r="5.6"/><circle cx="558.8" cy="286.1" r="5.6"/><circle cx="287.8" cy="476.6" r="5.6"/><circle cx="893.8" cy="188.3" r="5.6"/><circle cx="432.3" cy="274.1" r="5.6"/><circle cx="671.2" cy="225.5" r="5.6"/><circle cx="637.4" cy="211.6" r="5.6"/><circle cx="759.9" cy="193" r="5.6"/><circle cx="990.4" cy="174.5" r="5.6"/><circle cx="283.1" cy="392.5" r="5.6"/><circle cx="268.1" cy="441.9" r="5.6"/><circle cx="765.2" cy="191.1" r="5.6"/><circle cx="866.8" cy="234.7" r="5.6"/><circle cx="760.9" cy="239.4" r="5.6"/><circle cx="1250.1" cy="152.3" r="5.6"/><circle cx="541.5" cy="220.2" r="5.6"/><circle cx="860.7" cy="251.5" r="5.6"/><circle cx="913.2" cy="226.3" r="5.6"/><circle cx="695.9" cy="310.4" r="5.6"/><circle cx="1004.5" cy="213.3" r="5.6"/><circle cx="418.1" cy="297.4" r="5.6"/><circle cx="1025.6" cy="165.2" r="5.6"/><circle cx="1038" cy="195" r="5.6"/><circle cx="1317.3" cy="191.9" r="5.6"/><circle cx="828.9" cy="189.1" r="5.6"/><circle cx="1221.7" cy="161.6" r="5.6"/><circle cx="369.3" cy="470.3" r="5.6"/><circle cx="1304.4" cy="180.9" r="5.6"/><circle cx="438.9" cy="317.4" r="5.6"/><circle cx="510.1" cy="289.8" r="5.6"/><circle cx="960.7" cy="179.6" r="5.6"/><circle cx="872" cy="182.5" r="5.6"/><circle cx="1020.2" cy="178.4" r="5.6"/><circle cx="562.1" cy="264.7" r="5.6"/><circle cx="811" cy="244.5" r="5.6"/><circle cx="1344.4" cy="180.3" r="5.6"/><circle cx="860.4" cy="156.6" r="5.6"/><circle cx="1100.3" cy="247.2" r="5.6"/><circle cx="792.5" cy="175.6" r="5.6"/><circle cx="397.5" cy="347.7" r="5.6"/><circle cx="520.1" cy="352.1" r="5.6"/><circle cx="724.8" cy="301.9" r="5.6"/><circle cx="1169.2" cy="208.4" r="5.6"/><circle cx="362" cy="432.7" r="5.6"/><circle cx="647.8" cy="330.6" r="5.6"/><circle cx="949.5" cy="205.1" r="5.6"/><circle cx="748.8" cy="154" r="5.6"/><circle cx="390.7" cy="357.2" r="5.6"/><circle cx="487.6" cy="222.2" r="5.6"/><circle cx="1171.8" cy="195.2" r="5.6"/><circle cx="1005.9" cy="224.6" r="5.6"/><circle cx="1042.4" cy="184.6" r="5.6"/><circle cx="624.2" cy="223.1" r="5.6"/><circle cx="665.6" cy="179.4" r="5.6"/><circle cx="363.9" cy="356.3" r="5.6"/><circle cx="629.1" cy="303.6" r="5.6"/><circle cx="428.9" cy="404" r="5.6"/><circle cx="496.5" cy="221.5" r="5.6"/><circle cx="884" cy="167.8" r="5.6"/><circle cx="500.3" cy="316.1" r="5.6"/><circle cx="508.6" cy="243.4" r="5.6"/><circle cx="1101.7" cy="250.7" r="5.6"/><circle cx="1205.4" cy="170.5" r="5.6"/><circle cx="682.8" cy="235.7" r="5.6"/><circle cx="567.5" cy="240.1" r="5.6"/><circle cx="802.3" cy="154.1" r="5.6"/><circle cx="820.1" cy="198.5" r="5.6"/><circle cx="1330.3" cy="182.5" r="5.6"/><circle cx="282.4" cy="454.9" r="5.6"/><circle cx="936" cy="232.6" r="5.6"/><circle cx="957.4" cy="156.9" r="5.6"/><circle cx="604.5" cy="225.8" r="5.6"/><circle cx="1041.2" cy="197" r="5.6"/><circle cx="717.8" cy="283.4" r="5.6"/><circle cx="1076.8" cy="201.5" r="5.6"/><circle cx="439.3" cy="280.6" r="5.6"/><circle cx="664.7" cy="219.1" r="5.6"/><circle cx="492.9" cy="226.8" r="5.6"/><circle cx="877.6" cy="193.8" r="5.6"/><circle cx="859.3" cy="272" r="5.6"/><circle cx="1281.7" cy="188.9" r="5.6"/><circle cx="635.7" cy="287.3" r="5.6"/><circle cx="590.6" cy="222.5" r="5.6"/><circle cx="913.4" cy="157.8" r="5.6"/><circle cx="820.5" cy="257.3" r="5.6"/><circle cx="555.6" cy="198.7" r="5.6"/><circle cx="710.2" cy="171.3" r="5.6"/><circle cx="996.4" cy="147.2" r="5.6"/><circle cx="360.6" cy="434.2" r="5.6"/><circle cx="1291.5" cy="210.4" r="5.6"/><circle cx="333.1" cy="375.1" r="5.6"/><circle cx="592.7" cy="296.2" r="5.6"/><circle cx="636.7" cy="308.7" r="5.6"/><circle cx="878.4" cy="138.9" r="5.6"/><circle cx="661.7" cy="193.8" r="5.6"/><circle cx="1118.8" cy="150.5" r="5.6"/><circle cx="1015.1" cy="165.5" r="5.6"/><circle cx="1224.8" cy="154.2" r="5.6"/><circle cx="312.8" cy="450.5" r="5.6"/><circle cx="432.1" cy="274.9" r="5.6"/><circle cx="1153.5" cy="253.9" r="5.6"/><circle cx="1135.3" cy="251.3" r="5.6"/><circle cx="1066.4" cy="198.1" r="5.6"/><circle cx="1225.6" cy="166.2" r="5.6"/><circle cx="1201" cy="247.5" r="5.6"/><circle cx="1258.4" cy="188.6" r="5.6"/><circle cx="1283.9" cy="202.4" r="5.6"/><circle cx="654.1" cy="197.6" r="5.6"/><circle cx="901.5" cy="238.9" r="5.6"/><circle cx="966.7" cy="148.9" r="5.6"/><circle cx="265.7" cy="511" r="5.6"/><circle cx="1010.7" cy="154.7" r="5.6"/><circle cx="1112.9" cy="243.4" r="5.6"/><circle cx="291.8" cy="384.5" r="5.6"/><circle cx="1246" cy="213.9" r="5.6"/><circle cx="1237.5" cy="172.2" r="5.6"/><circle cx="441.8" cy="371.5" r="5.6"/><circle cx="1038.5" cy="181.6" r="5.6"/><circle cx="694.5" cy="219" r="5.6"/><circle cx="986.4" cy="224.3" r="5.6"/><circle cx="303" cy="449.6" r="5.6"/><circle cx="1326.1" cy="172.5" r="5.6"/><circle cx="363.3" cy="330" r="5.6"/><circle cx="1098.5" cy="251.8" r="5.6"/><circle cx="266.8" cy="417.7" r="5.6"/><circle cx="998.5" cy="166" r="5.6"/><circle cx="984.1" cy="212.5" r="5.6"/><circle cx="1341.3" cy="167.9" r="5.6"/><circle cx="1170.3" cy="168.5" r="5.6"/><circle cx="878.9" cy="162.8" r="5.6"/><circle cx="380.4" cy="360.1" r="5.6"/><circle cx="292.3" cy="454.3" r="5.6"/><circle cx="1130" cy="188.8" r="5.6"/><circle cx="991.4" cy="145.2" r="5.6"/><circle cx="765.9" cy="283.7" r="5.6"/><circle cx="888.8" cy="178.9" r="5.6"/><circle cx="558.7" cy="304.7" r="5.6"/><circle cx="1195.9" cy="188" r="5.6"/><circle cx="1303" cy="184.5" r="5.6"/><circle cx="264.3" cy="422.2" r="5.6"/><circle cx="1009.2" cy="192.7" r="5.6"/><circle cx="1053.4" cy="182.5" r="5.6"/><circle cx="1247.4" cy="210.4" r="5.6"/><circle cx="1187.1" cy="232.9" r="5.6"/><circle cx="431.7" cy="257.1" r="5.6"/><circle cx="812.1" cy="176.7" r="5.6"/><circle cx="1007.4" cy="193.4" r="5.6"/><circle cx="1275.6" cy="230" r="5.6"/><circle cx="1144.5" cy="221.4" r="5.6"/><circle cx="466.3" cy="237.5" r="5.6"/><circle cx="1167.7" cy="162.6" r="5.6"/><circle cx="752.7" cy="202.9" r="5.6"/><circle cx="952.2" cy="215.3" r="5.6"/><circle cx="1285" cy="209.7" r="5.6"/><circle cx="1031.2" cy="156.8" r="5.6"/><circle cx="566.6" cy="207.1" r="5.6"/><circle cx="1031" cy="197.9" r="5.6"/><circle cx="1292.3" cy="197.1" r="5.6"/><circle cx="681.2" cy="258.2" r="5.6"/><circle cx="1267.2" cy="223.7" r="5.6"/><circle cx="825" cy="169.2" r="5.6"/><circle cx="266.2" cy="448.1" r="5.6"/><circle cx="1150.4" cy="269.2" r="5.6"/><circle cx="704.6" cy="171" r="5.6"/><circle cx="304.2" cy="475.9" r="5.6"/><circle cx="1133.2" cy="239.9" r="5.6"/><circle cx="630" cy="285.2" r="5.6"/><circle cx="1028.2" cy="203.1" r="5.6"/><circle cx="904.9" cy="249.4" r="5.6"/><circle cx="1094.5" cy="199.2" r="5.6"/><circle cx="854.8" cy="274.2" r="5.6"/><circle cx="858.3" cy="275.8" r="5.6"/><circle cx="372" cy="368.1" r="5.6"/><circle cx="302.2" cy="358.1" r="5.6"/><circle cx="524" cy="332.5" r="5.6"/><circle cx="356.2" cy="324.5" r="5.6"/><circle cx="1137.5" cy="203.5" r="5.6"/><circle cx="649.7" cy="325.5" r="5.6"/><circle cx="626" cy="214.4" r="5.6"/><circle cx="1139.2" cy="246.2" r="5.6"/><circle cx="811.1" cy="245.5" r="5.6"/><circle cx="664" cy="228.8" r="5.6"/><circle cx="307.7" cy="486.2" r="5.6"/><circle cx="347.3" cy="415.6" r="5.6"/><circle cx="1045" cy="237.5" r="5.6"/><circle cx="311.5" cy="326.1" r="5.6"/><circle cx="298.3" cy="302.7" r="5.6"/><circle cx="241.9" cy="394.5" r="5.6"/><circle cx="307.1" cy="323.3" r="5.6"/><circle cx="281.8" cy="369" r="5.6"/><circle cx="309" cy="330" r="5.6"/><circle cx="338.4" cy="310.6" r="5.6"/><circle cx="198.8" cy="416" r="5.6"/><circle cx="248.6" cy="382.7" r="5.6"/><circle cx="252.6" cy="405.6" r="5.6"/><circle cx="278.2" cy="370.4" r="5.6"/><circle cx="296.6" cy="321.8" r="5.6"/><circle cx="280.1" cy="354.4" r="5.6"/><circle cx="240.4" cy="419.9" r="5.6"/><circle cx="331" cy="307.3" r="5.6"/><circle cx="281.7" cy="365" r="5.6"/><circle cx="338.9" cy="303.8" r="5.6"/><circle cx="334.1" cy="300.2" r="5.6"/><circle cx="239.4" cy="424.1" r="5.6"/><circle cx="321.3" cy="326.4" r="5.6"/><circle cx="232.1" cy="372.1" r="5.6"/><circle cx="250.8" cy="410.7" r="5.6"/><circle cx="225.9" cy="424.9" r="5.6"/><circle cx="284.2" cy="365" r="5.6"/><circle cx="285.9" cy="365.8" r="5.6"/><circle cx="251.1" cy="404.7" r="5.6"/><circle cx="285.7" cy="355.3" r="5.6"/><circle cx="232.4" cy="397.1" r="5.6"/><circle cx="234" cy="399.2" r="5.6"/><circle cx="247.3" cy="394.9" r="5.6"/><circle cx="288.7" cy="361.4" r="5.6"/><circle cx="245" cy="399" r="5.6"/><circle cx="331.1" cy="307.5" r="5.6"/><circle cx="231.5" cy="400.2" r="5.6"/><circle cx="269" cy="379.4" r="5.6"/><circle cx="276" cy="372.5" r="5.6"/><circle cx="335.6" cy="308.7" r="5.6"/><circle cx="281.5" cy="363.8" r="5.6"/><circle cx="258.6" cy="396.6" r="5.6"/><circle cx="318.7" cy="324.1" r="5.6"/><circle cx="296.5" cy="354.2" r="5.6"/><circle cx="230.4" cy="425" r="5.6"/><circle cx="216.5" cy="416.4" r="5.6"/><circle cx="282.6" cy="366.1" r="5.6"/><circle cx="338.5" cy="307.9" r="5.6"/><circle cx="313.2" cy="330.2" r="5.6"/><circle cx="262.2" cy="367" r="5.6"/><circle cx="248.7" cy="401.6" r="5.6"/><circle cx="267.5" cy="362.3" r="5.6"/><circle cx="233.6" cy="417.1" r="5.6"/><circle cx="273.3" cy="377.5" r="5.6"/><circle cx="296.9" cy="330" r="5.6"/><circle cx="265.4" cy="385.5" r="5.6"/><circle cx="263.1" cy="392.7" r="5.6"/><circle cx="334" cy="305.9" r="5.6"/><circle cx="243.5" cy="411.3" r="5.6"/><circle cx="240.1" cy="422.2" r="5.6"/><circle cx="324.4" cy="322.3" r="5.6"/><circle cx="260.4" cy="350.4" r="5.6"/><circle cx="285.2" cy="365" r="5.6"/><circle cx="613.4" cy="429.6" r="5.6"/><circle cx="784.4" cy="408.8" r="5.6"/><circle cx="819.2" cy="413.3" r="5.6"/><circle cx="821.6" cy="391" r="5.6"/><circle cx="857.2" cy="382" r="5.6"/><circle cx="858.7" cy="367.2" r="5.6"/><circle cx="866.2" cy="359.7" r="5.6"/><circle cx="845.4" cy="454.3" r="5.6"/><circle cx="786.8" cy="481.1" r="5.6"/><circle cx="789.1" cy="558.4" r="5.6"/><circle cx="748.7" cy="374.6" r="5.6"/><circle cx="814.1" cy="368.7" r="5.6"/><circle cx="780" cy="370" r="5.6"/><circle cx="933" cy="336" r="5.6"/><circle cx="992.6" cy="330" r="5.6"/><circle cx="787.4" cy="353.8" r="5.6"/><circle cx="328.1" cy="629.8" r="5.6"/><circle cx="821.7" cy="24.7" r="5.6"/><circle cx="863" cy="22.5" r="5.6"/><circle cx="663.7" cy="62" r="5.6"/><circle cx="885.3" cy="49" r="5.6"/><circle cx="990.4" cy="55.6" r="5.6"/><circle cx="1070.7" cy="44.5" r="5.6"/><circle cx="1101.7" cy="27" r="5.6"/><circle cx="1138" cy="24.8" r="5.6"/><circle cx="1190" cy="35.8" r="5.6"/><circle cx="1270.2" cy="42.7" r="5.6"/><circle cx="1170.6" cy="8.3" r="5.6"/><circle cx="605.5" cy="85.9" r="5.6"/><circle cx="608.3" cy="102.5" r="5.6"/><circle cx="1172" cy="44.6" r="5.6"/><circle cx="1231" cy="58" r="5.6"/><circle cx="1290" cy="25" r="5.6"/><circle cx="1130" cy="398.6" r="5.6"/></g>
<path d="M245 425 C249.9 418.9 253.8 410.9 259 403.2 C264.2 395.5 270.1 386.5 276.5 378.6 C282.9 370.7 291.5 362.8 297.7 355.7 C303.9 348.6 305.9 343.9 313.5 336.3 C321.1 328.7 331.6 319.1 343.5 310 C355.4 300.9 374.2 289.3 385 281.8 C395.8 274.3 396.7 271.9 408 265 C419.3 258.1 439.9 247.6 452.7 240.6 C465.5 233.6 472.2 228.5 485 223 C497.8 217.5 514.7 212.7 529.6 207.5 C544.5 202.3 559.3 197 574.2 191.8 C589.1 186.6 603.9 180.5 618.8 176.2 C633.7 171.9 650.5 169.2 663.5 166.2 C676.5 163.2 685.9 161.6 697 158.4 C708.1 155.2 715.7 151.1 730.4 147.2 C745.1 143.3 761 137.8 785 135 C809 132.2 848.2 130.9 874.2 130.5 C900.2 130.1 922.5 131.2 941.1 132.7 C959.7 134.2 970.9 136.6 985.8 139.4 C1000.7 142.2 1019.3 147.1 1030.4 149.5 C1041.6 151.9 1046.6 153.2 1052.7 154 C1058.8 154.8 1059.3 155.5 1067.3 154 C1075.3 152.5 1085.9 148 1100.8 145 C1115.7 142 1136 136.9 1156.5 136 C1177 135.1 1209.4 137.9 1223.5 139.4 C1237.6 140.9 1236.5 142.6 1241.3 145 C1246.1 147.4 1248 151.9 1252.5 154 C1257 156.1 1259.8 157.3 1268 157.3 C1276.2 157.3 1286.2 155.1 1301.5 154 C1316.8 152.9 1350.2 138.5 1360 151 C1369.8 163.5 1365.4 215.3 1360 229 C1354.6 242.7 1338.1 231.3 1327.6 233 C1317.1 234.7 1310.7 236.7 1297.2 239.1 C1283.7 241.5 1263.5 243.1 1246.6 247.2 C1229.7 251.2 1211.2 259 1196 263.4 C1180.8 267.8 1169 271.3 1155.5 273.5 C1142 275.7 1124.5 276 1115 276.5 C1105.5 277 1106.1 277 1098.8 276.7 C1091.5 276.4 1078 277.3 1070.9 274.8 C1063.8 272.3 1060 267.7 1056 261.8 C1052 255.9 1050.4 245.4 1046.7 239.5 C1043 233.6 1039 229.1 1033.7 226.5 C1028.4 223.9 1027.5 222.1 1015.1 223.7 C1002.7 225.2 974.8 231.3 959.3 235.8 C943.8 240.3 934.6 245.3 922.2 250.6 C909.8 255.9 894.1 263.9 885 267.5 C875.9 271.1 873.3 269.5 867.3 272.5 C861.3 275.5 855 281.5 848.8 285.5 C842.6 289.5 838 293.6 830.2 296.7 C822.5 299.8 816.2 301.6 802.3 304.1 C788.3 306.6 765.1 308.7 746.5 311.5 C727.9 314.3 709.4 317.1 690.8 320.8 C672.2 324.5 648.8 330.2 635 333.6 C621.2 337 618.7 337.5 608 340.9 C597.3 344.3 583.3 349.2 570.9 353.9 C558.5 358.5 546.1 363.5 533.7 368.8 C521.3 374.1 508.9 379 496.5 385.5 C484.1 392 471.7 399.6 459.3 407.8 C446.9 416.1 434.6 424.8 422.2 435 C409.8 445.2 393.7 461.6 385 469 C376.3 476.4 376.8 475.2 369.9 479.3 C363 483.4 352.3 489 343.5 493.4 C334.7 497.8 325.8 502.2 317 505.7 C308.2 509.2 299.4 512.5 290.6 514.5 C281.8 516.5 273 517.8 264.2 518 C255.4 518.2 242.8 518.4 238 516 C233.2 513.6 235.4 508.1 235.7 503.4 C236 498.6 240 492.8 240 487.5 C240 482.2 237.8 476.1 235.7 471.7 C233.6 467.3 228.2 466.3 227.2 461 C226.1 455.7 226.4 446 229.4 440 C232.4 434 240.1 431.1 245 425Z" fill="#d8d8dd" fill-opacity="0.4"/>
<path d="M267.7 470.5 C268.8 466.1 273.1 458.3 276.5 452.9 C279.9 447.5 284.2 442.8 288 438 C291.8 433.2 293.1 431.1 299.4 424.4 C305.7 417.7 317 405.6 325.8 398 C334.6 390.4 342.4 385.7 352.3 378.6 C362.2 371.6 373.4 364.8 385 355.7 C396.6 346.6 409.2 333.5 422.2 324.2 C435.2 314.9 452.5 305.9 463 300 C473.5 294.1 473.8 294.7 485 289 C496.2 283.3 515.9 272.5 530 266 C544.1 259.5 555 255.5 569.8 250 C584.6 244.5 603.8 237.7 618.8 233 C633.8 228.3 648 225.1 660 222 C672 218.9 679.1 217.5 690.8 214.5 C702.5 211.5 714.7 207.2 730.4 204 C746.1 200.8 768.5 197.4 785 195.2 C801.5 193 814.7 190.9 829.6 190.7 C844.5 190.5 861.6 192.7 874.2 194 C886.8 195.3 898 197.2 905 198.5 C912 199.8 913.1 199.9 916 201.5 C918.9 203.1 922.4 205.9 922.2 208.3 C922 210.7 918.7 213.2 915 216 C911.3 218.8 905 222.1 900 225 C895 227.9 889.3 231.4 885 233.5 C880.7 235.6 879.7 235.1 874.2 237.5 C868.7 239.9 857.8 245.3 852 248 C846.2 250.7 847.8 250.8 839.5 253.9 C831.2 257.1 817.8 261.6 802.3 266.9 C786.8 272.2 765.1 279.8 746.5 285.5 C727.9 291.2 709.4 295.9 690.8 301.3 C672.2 306.7 648.8 314.5 635 318 C621.2 321.5 618.7 319.4 608 322.3 C597.3 325.2 583.3 331 570.9 335.3 C558.5 339.6 546.1 344 533.7 348.3 C521.3 352.6 508.9 356 496.5 361.3 C484.1 366.6 471.7 372.9 459.3 380 C446.9 387.1 434.6 395.1 422.2 404 C409.8 412.9 395.2 425.2 385 433.5 C374.8 441.8 369.4 447.6 361 454 C352.6 460.4 343.4 467.2 334.6 472 C325.8 476.8 316.7 480.7 308.2 482.8 C299.7 484.9 290 485.2 283.6 484.6 C277.2 484 272.6 481.4 270 479 C267.4 476.6 266.6 474.9 267.7 470.5Z" fill="#dcdcdc"/>
<line x1="306.3" y1="1022.7" x2="306.3" y2="5.3" stroke="#11918c" stroke-width="3.3" stroke-dasharray="22.4 6.85 2.8 6.85" stroke-dashoffset="37.3"/>
<line x1="462.2" y1="1022.7" x2="462.2" y2="5.3" stroke="#4e86b0" stroke-width="3.3" stroke-dasharray="22.4 6.85 2.8 6.85" stroke-dashoffset="37.3"/>
<circle cx="494.3" cy="205.7" r="9.5" fill="#43b8ae" stroke="#16958b" stroke-width="2.1"/><circle cx="1042.4" cy="210.5" r="9.5" fill="#43b8ae" stroke="#16958b" stroke-width="2.1"/><circle cx="302.6" cy="405.6" r="9.5" fill="#43b8ae" stroke="#16958b" stroke-width="2.1"/><circle cx="282.8" cy="413.6" r="9.5" fill="#43b8ae" stroke="#16958b" stroke-width="2.1"/><circle cx="335.6" cy="412.2" r="9.5" fill="#43b8ae" stroke="#16958b" stroke-width="2.1"/><circle cx="356.8" cy="396.4" r="9.5" fill="#43b8ae" stroke="#16958b" stroke-width="2.1"/><circle cx="374" cy="395" r="9.5" fill="#43b8ae" stroke="#16958b" stroke-width="2.1"/><circle cx="306.6" cy="438.7" r="9.5" fill="#43b8ae" stroke="#16958b" stroke-width="2.1"/><circle cx="469" cy="324.3" r="9.5" fill="#43b8ae" stroke="#16958b" stroke-width="2.1"/><circle cx="494.1" cy="329.6" r="9.5" fill="#43b8ae" stroke="#16958b" stroke-width="2.1"/><circle cx="516.6" cy="342.8" r="9.5" fill="#43b8ae" stroke="#16958b" stroke-width="2.1"/><circle cx="470.4" cy="358.7" r="9.5" fill="#43b8ae" stroke="#16958b" stroke-width="2.1"/><circle cx="499.4" cy="369.2" r="9.5" fill="#43b8ae" stroke="#16958b" stroke-width="2.1"/><circle cx="449.2" cy="395.6" r="9.5" fill="#43b8ae" stroke="#16958b" stroke-width="2.1"/><circle cx="495.4" cy="402.2" r="9.5" fill="#43b8ae" stroke="#16958b" stroke-width="2.1"/><circle cx="478.3" cy="416.8" r="9.5" fill="#43b8ae" stroke="#16958b" stroke-width="2.1"/><circle cx="400.4" cy="390.4" r="9.5" fill="#43b8ae" stroke="#16958b" stroke-width="2.1"/><circle cx="383.2" cy="393" r="9.5" fill="#43b8ae" stroke="#16958b" stroke-width="2.1"/><circle cx="416.2" cy="428.7" r="9.5" fill="#43b8ae" stroke="#16958b" stroke-width="2.1"/><circle cx="502" cy="437.9" r="9.5" fill="#43b8ae" stroke="#16958b" stroke-width="2.1"/><circle cx="449.2" cy="350.7" r="9.5" fill="#43b8ae" stroke="#16958b" stroke-width="2.1"/><circle cx="229.6" cy="539.6" r="9.5" fill="#43b8ae" stroke="#16958b" stroke-width="2.1"/><circle cx="227" cy="546.2" r="9.5" fill="#43b8ae" stroke="#16958b" stroke-width="2.1"/><circle cx="252" cy="539.6" r="9.5" fill="#43b8ae" stroke="#16958b" stroke-width="2.1"/><circle cx="266.6" cy="501.3" r="9.5" fill="#43b8ae" stroke="#16958b" stroke-width="2.1"/><circle cx="262.6" cy="514.5" r="9.5" fill="#43b8ae" stroke="#16958b" stroke-width="2.1"/><circle cx="246.8" cy="566" r="9.5" fill="#43b8ae" stroke="#16958b" stroke-width="2.1"/><circle cx="306.2" cy="437.9" r="9.5" fill="#43b8ae" stroke="#16958b" stroke-width="2.1"/><circle cx="299.6" cy="456.4" r="9.5" fill="#43b8ae" stroke="#16958b" stroke-width="2.1"/><circle cx="302.2" cy="469.6" r="9.5" fill="#43b8ae" stroke="#16958b" stroke-width="2.1"/><circle cx="264" cy="559.4" r="9.5" fill="#43b8ae" stroke="#16958b" stroke-width="2.1"/><circle cx="225.7" cy="600.4" r="9.5" fill="#43b8ae" stroke="#16958b" stroke-width="2.1"/><circle cx="249.4" cy="577.9" r="9.5" fill="#43b8ae" stroke="#16958b" stroke-width="2.1"/><circle cx="229.6" cy="628.1" r="9.5" fill="#43b8ae" stroke="#16958b" stroke-width="2.1"/><circle cx="245.5" cy="645.3" r="9.5" fill="#43b8ae" stroke="#16958b" stroke-width="2.1"/><circle cx="279.8" cy="651.9" r="9.5" fill="#43b8ae" stroke="#16958b" stroke-width="2.1"/><circle cx="264" cy="616.2" r="9.5" fill="#43b8ae" stroke="#16958b" stroke-width="2.1"/><circle cx="282.4" cy="613.6" r="9.5" fill="#43b8ae" stroke="#16958b" stroke-width="2.1"/><circle cx="275.8" cy="596.4" r="9.5" fill="#43b8ae" stroke="#16958b" stroke-width="2.1"/><circle cx="308.8" cy="612.3" r="9.5" fill="#43b8ae" stroke="#16958b" stroke-width="2.1"/><circle cx="269.2" cy="686.2" r="9.5" fill="#43b8ae" stroke="#16958b" stroke-width="2.1"/><circle cx="245.5" cy="704.7" r="9.5" fill="#43b8ae" stroke="#16958b" stroke-width="2.1"/><circle cx="223" cy="712.6" r="9.5" fill="#43b8ae" stroke="#16958b" stroke-width="2.1"/><circle cx="242.8" cy="683.6" r="9.5" fill="#43b8ae" stroke="#16958b" stroke-width="2.1"/><circle cx="235" cy="670" r="9.5" fill="#43b8ae" stroke="#16958b" stroke-width="2.1"/><circle cx="243.9" cy="706" r="9.5" fill="#43b8ae" stroke="#16958b" stroke-width="2.1"/><circle cx="222.9" cy="716.5" r="9.5" fill="#43b8ae" stroke="#16958b" stroke-width="2.1"/><circle cx="258.9" cy="732.2" r="9.5" fill="#43b8ae" stroke="#16958b" stroke-width="2.1"/><circle cx="227.4" cy="749.4" r="9.5" fill="#43b8ae" stroke="#16958b" stroke-width="2.1"/><circle cx="219.2" cy="770.4" r="9.5" fill="#43b8ae" stroke="#16958b" stroke-width="2.1"/><circle cx="224.4" cy="789.8" r="9.5" fill="#43b8ae" stroke="#16958b" stroke-width="2.1"/><circle cx="414.5" cy="431.9" r="9.5" fill="#43b8ae" stroke="#16958b" stroke-width="2.1"/><circle cx="413.2" cy="447.7" r="9.5" fill="#43b8ae" stroke="#16958b" stroke-width="2.1"/><circle cx="430.4" cy="468.9" r="9.5" fill="#43b8ae" stroke="#16958b" stroke-width="2.1"/><circle cx="454.1" cy="439.8" r="9.5" fill="#43b8ae" stroke="#16958b" stroke-width="2.1"/><circle cx="374.9" cy="462.3" r="9.5" fill="#43b8ae" stroke="#16958b" stroke-width="2.1"/><circle cx="347.2" cy="507.2" r="9.5" fill="#43b8ae" stroke="#16958b" stroke-width="2.1"/><circle cx="364.3" cy="520.4" r="9.5" fill="#43b8ae" stroke="#16958b" stroke-width="2.1"/><circle cx="345.8" cy="546.8" r="9.5" fill="#43b8ae" stroke="#16958b" stroke-width="2.1"/><circle cx="332.6" cy="497.9" r="9.5" fill="#43b8ae" stroke="#16958b" stroke-width="2.1"/><circle cx="477.9" cy="425.3" r="9.5" fill="#43b8ae" stroke="#16958b" stroke-width="2.1"/><circle cx="349.2" cy="545.3" r="9.5" fill="#43b8ae" stroke="#16958b" stroke-width="2.1"/><circle cx="310.9" cy="612.6" r="9.5" fill="#43b8ae" stroke="#16958b" stroke-width="2.1"/><circle cx="280.6" cy="616.6" r="9.5" fill="#43b8ae" stroke="#16958b" stroke-width="2.1"/><circle cx="283.2" cy="625.8" r="9.5" fill="#43b8ae" stroke="#16958b" stroke-width="2.1"/><circle cx="320.2" cy="571.7" r="9.5" fill="#43b8ae" stroke="#16958b" stroke-width="2.1"/><circle cx="277.9" cy="656.2" r="9.5" fill="#43b8ae" stroke="#16958b" stroke-width="2.1"/><circle cx="274" cy="683.9" r="9.5" fill="#43b8ae" stroke="#16958b" stroke-width="2.1"/><circle cx="277.9" cy="592.8" r="9.5" fill="#43b8ae" stroke="#16958b" stroke-width="2.1"/><circle cx="303" cy="582.3" r="9.5" fill="#43b8ae" stroke="#16958b" stroke-width="2.1"/><circle cx="563.2" cy="306" r="9.5" fill="#43b8ae" stroke="#16958b" stroke-width="2.1"/><circle cx="495.8" cy="329.8" r="9.5" fill="#43b8ae" stroke="#16958b" stroke-width="2.1"/><circle cx="519.6" cy="343" r="9.5" fill="#43b8ae" stroke="#16958b" stroke-width="2.1"/><circle cx="498.5" cy="366.8" r="9.5" fill="#43b8ae" stroke="#16958b" stroke-width="2.1"/><circle cx="625.3" cy="286.2" r="9.5" fill="#43b8ae" stroke="#16958b" stroke-width="2.1"/><circle cx="621.3" cy="298.1" r="9.5" fill="#43b8ae" stroke="#16958b" stroke-width="2.1"/><circle cx="630" cy="285.9" r="9.5" fill="#43b8ae" stroke="#16958b" stroke-width="2.1"/><circle cx="671.3" cy="284.8" r="9.5" fill="#43b8ae" stroke="#16958b" stroke-width="2.1"/><circle cx="762.7" cy="303.7" r="9.5" fill="#43b8ae" stroke="#16958b" stroke-width="2.1"/><circle cx="672.2" cy="285.5" r="9.5" fill="#43b8ae" stroke="#16958b" stroke-width="2.1"/><circle cx="653.6" cy="302.2" r="9.5" fill="#43b8ae" stroke="#16958b" stroke-width="2.1"/><circle cx="500.6" cy="442" r="9.5" fill="#43b8ae" stroke="#16958b" stroke-width="2.1"/><circle cx="229" cy="537" r="9.5" fill="#43b8ae" stroke="#16958b" stroke-width="2.1"/><circle cx="229" cy="545.8" r="9.5" fill="#43b8ae" stroke="#16958b" stroke-width="2.1"/><circle cx="252" cy="538.7" r="9.5" fill="#43b8ae" stroke="#16958b" stroke-width="2.1"/><circle cx="257.2" cy="529" r="9.5" fill="#43b8ae" stroke="#16958b" stroke-width="2.1"/><circle cx="264.3" cy="508.8" r="9.5" fill="#43b8ae" stroke="#16958b" stroke-width="2.1"/><circle cx="261.6" cy="522" r="9.5" fill="#43b8ae" stroke="#16958b" stroke-width="2.1"/><circle cx="247.5" cy="566.9" r="9.5" fill="#43b8ae" stroke="#16958b" stroke-width="2.1"/><circle cx="241.4" cy="572.2" r="9.5" fill="#43b8ae" stroke="#16958b" stroke-width="2.1"/><circle cx="239.6" cy="588" r="9.5" fill="#43b8ae" stroke="#16958b" stroke-width="2.1"/><circle cx="226.4" cy="596.8" r="9.5" fill="#43b8ae" stroke="#16958b" stroke-width="2.1"/><circle cx="257.2" cy="557.2" r="9.5" fill="#43b8ae" stroke="#16958b" stroke-width="2.1"/><circle cx="270.4" cy="592.4" r="9.5" fill="#43b8ae" stroke="#16958b" stroke-width="2.1"/><circle cx="288" cy="535.2" r="9.5" fill="#43b8ae" stroke="#16958b" stroke-width="2.1"/><circle cx="261.6" cy="552.8" r="9.5" fill="#43b8ae" stroke="#16958b" stroke-width="2.1"/><circle cx="694.5" cy="161.2" r="9.5" fill="#5e8eb4" stroke="#1b5f8c" stroke-width="2.1"/><circle cx="1080" cy="174.8" r="9.5" fill="#5e8eb4" stroke="#1b5f8c" stroke-width="2.1"/><circle cx="1099" cy="159.2" r="9.5" fill="#5e8eb4" stroke="#1b5f8c" stroke-width="2.1"/><circle cx="1158.6" cy="207.8" r="9.5" fill="#5e8eb4" stroke="#1b5f8c" stroke-width="2.1"/><circle cx="1231.5" cy="188" r="9.5" fill="#5e8eb4" stroke="#1b5f8c" stroke-width="2.1"/><circle cx="803.8" cy="209.3" r="9.5" fill="#5e8eb4" stroke="#1b5f8c" stroke-width="2.1"/><circle cx="838.6" cy="223.3" r="9.5" fill="#5e8eb4" stroke="#1b5f8c" stroke-width="2.1"/><circle cx="848.3" cy="247.5" r="9.5" fill="#5e8eb4" stroke="#1b5f8c" stroke-width="2.1"/><circle cx="786.5" cy="255.8" r="9.5" fill="#5e8eb4" stroke="#1b5f8c" stroke-width="2.1"/><circle cx="767" cy="262.3" r="9.5" fill="#5e8eb4" stroke="#1b5f8c" stroke-width="2.1"/><circle cx="699" cy="251.3" r="9.5" fill="#5e8eb4" stroke="#1b5f8c" stroke-width="2.1"/><circle cx="716.8" cy="264.1" r="9.5" fill="#5e8eb4" stroke="#1b5f8c" stroke-width="2.1"/><circle cx="739" cy="278" r="9.5" fill="#5e8eb4" stroke="#1b5f8c" stroke-width="2.1"/><circle cx="636.9" cy="272.5" r="9.5" fill="#5e8eb4" stroke="#1b5f8c" stroke-width="2.1"/><circle cx="700" cy="274.3" r="9.5" fill="#5e8eb4" stroke="#1b5f8c" stroke-width="2.1"/><circle cx="703.8" cy="283.6" r="9.5" fill="#5e8eb4" stroke="#1b5f8c" stroke-width="2.1"/><circle cx="709.3" cy="293" r="9.5" fill="#5e8eb4" stroke="#1b5f8c" stroke-width="2.1"/><circle cx="715" cy="315.2" r="9.5" fill="#5e8eb4" stroke="#1b5f8c" stroke-width="2.1"/><circle cx="696.3" cy="319" r="9.5" fill="#5e8eb4" stroke="#1b5f8c" stroke-width="2.1"/><circle cx="762.3" cy="326.4" r="9.5" fill="#5e8eb4" stroke="#1b5f8c" stroke-width="2.1"/><circle cx="798.6" cy="281.8" r="9.5" fill="#5e8eb4" stroke="#1b5f8c" stroke-width="2.1"/><circle cx="809.7" cy="280" r="9.5" fill="#5e8eb4" stroke="#1b5f8c" stroke-width="2.1"/><circle cx="798.6" cy="300.4" r="9.5" fill="#5e8eb4" stroke="#1b5f8c" stroke-width="2.1"/><circle cx="813.4" cy="315.2" r="9.5" fill="#5e8eb4" stroke="#1b5f8c" stroke-width="2.1"/><circle cx="674" cy="337.5" r="9.5" fill="#5e8eb4" stroke="#1b5f8c" stroke-width="2.1"/><circle cx="668" cy="340" r="9.5" fill="#5e8eb4" stroke="#1b5f8c" stroke-width="2.1"/><circle cx="636.9" cy="348.7" r="9.5" fill="#5e8eb4" stroke="#1b5f8c" stroke-width="2.1"/><circle cx="683.3" cy="368.2" r="9.5" fill="#5e8eb4" stroke="#1b5f8c" stroke-width="2.1"/><circle cx="640.6" cy="374.7" r="9.5" fill="#5e8eb4" stroke="#1b5f8c" stroke-width="2.1"/><circle cx="912.5" cy="240.4" r="9.5" fill="#5e8eb4" stroke="#1b5f8c" stroke-width="2.1"/><circle cx="898" cy="260" r="9.5" fill="#5e8eb4" stroke="#1b5f8c" stroke-width="2.1"/><circle cx="918.5" cy="273" r="9.5" fill="#5e8eb4" stroke="#1b5f8c" stroke-width="2.1"/><circle cx="942.6" cy="285" r="9.5" fill="#5e8eb4" stroke="#1b5f8c" stroke-width="2.1"/><circle cx="912.9" cy="267.4" r="9.5" fill="#5e8eb4" stroke="#1b5f8c" stroke-width="2.1"/><circle cx="784" cy="255.8" r="9.5" fill="#5e8eb4" stroke="#1b5f8c" stroke-width="2.1"/><circle cx="766" cy="262.5" r="9.5" fill="#5e8eb4" stroke="#1b5f8c" stroke-width="2.1"/><circle cx="307.9" cy="346.2" r="9.5" fill="#5e8eb4" stroke="#1b5f8c" stroke-width="2.1"/><circle cx="335.6" cy="391.1" r="9.5" fill="#5e8eb4" stroke="#1b5f8c" stroke-width="2.1"/><circle cx="282.8" cy="433.4" r="9.5" fill="#5e8eb4" stroke="#1b5f8c" stroke-width="2.1"/><circle cx="318" cy="420" r="9.5" fill="#5e8eb4" stroke="#1b5f8c" stroke-width="2.1"/><circle cx="326" cy="436" r="9.5" fill="#5e8eb4" stroke="#1b5f8c" stroke-width="2.1"/><circle cx="348.8" cy="413.6" r="9.5" fill="#5e8eb4" stroke="#1b5f8c" stroke-width="2.1"/><circle cx="502" cy="294" r="9.5" fill="#5e8eb4" stroke="#1b5f8c" stroke-width="2.1"/><circle cx="484.9" cy="320.4" r="9.5" fill="#5e8eb4" stroke="#1b5f8c" stroke-width="2.1"/><circle cx="444" cy="333.6" r="9.5" fill="#5e8eb4" stroke="#1b5f8c" stroke-width="2.1"/><circle cx="436" cy="361.3" r="9.5" fill="#5e8eb4" stroke="#1b5f8c" stroke-width="2.1"/><circle cx="412.3" cy="360" r="9.5" fill="#5e8eb4" stroke="#1b5f8c" stroke-width="2.1"/><circle cx="504.7" cy="342.8" r="9.5" fill="#5e8eb4" stroke="#1b5f8c" stroke-width="2.1"/><circle cx="474.3" cy="375.8" r="9.5" fill="#5e8eb4" stroke="#1b5f8c" stroke-width="2.1"/><circle cx="488.8" cy="382.4" r="9.5" fill="#5e8eb4" stroke="#1b5f8c" stroke-width="2.1"/><circle cx="504.7" cy="379.8" r="9.5" fill="#5e8eb4" stroke="#1b5f8c" stroke-width="2.1"/><circle cx="442.6" cy="406.2" r="9.5" fill="#5e8eb4" stroke="#1b5f8c" stroke-width="2.1"/><circle cx="429.4" cy="419.4" r="9.5" fill="#5e8eb4" stroke="#1b5f8c" stroke-width="2.1"/><circle cx="467.7" cy="385" r="9.5" fill="#5e8eb4" stroke="#1b5f8c" stroke-width="2.1"/><circle cx="232.3" cy="517.2" r="9.5" fill="#5e8eb4" stroke="#1b5f8c" stroke-width="2.1"/><circle cx="260" cy="461.7" r="9.5" fill="#5e8eb4" stroke="#1b5f8c" stroke-width="2.1"/><circle cx="256" cy="473.6" r="9.5" fill="#5e8eb4" stroke="#1b5f8c" stroke-width="2.1"/><circle cx="254.7" cy="486.8" r="9.5" fill="#5e8eb4" stroke="#1b5f8c" stroke-width="2.1"/><circle cx="269.2" cy="435.3" r="9.5" fill="#5e8eb4" stroke="#1b5f8c" stroke-width="2.1"/><circle cx="282.4" cy="432.6" r="9.5" fill="#5e8eb4" stroke="#1b5f8c" stroke-width="2.1"/><circle cx="322" cy="434" r="9.5" fill="#5e8eb4" stroke="#1b5f8c" stroke-width="2.1"/><circle cx="219.2" cy="850.4" r="9.5" fill="#5e8eb4" stroke="#1b5f8c" stroke-width="2.1"/><circle cx="394.7" cy="505.8" r="9.5" fill="#5e8eb4" stroke="#1b5f8c" stroke-width="2.1"/><circle cx="376.2" cy="523" r="9.5" fill="#5e8eb4" stroke="#1b5f8c" stroke-width="2.1"/><circle cx="430.4" cy="425.3" r="9.5" fill="#5e8eb4" stroke="#1b5f8c" stroke-width="2.1"/><circle cx="349.8" cy="497.9" r="9.5" fill="#5e8eb4" stroke="#1b5f8c" stroke-width="2.1"/><circle cx="503.8" cy="290.8" r="9.5" fill="#5e8eb4" stroke="#1b5f8c" stroke-width="2.1"/><circle cx="569.8" cy="261.1" r="9.5" fill="#5e8eb4" stroke="#1b5f8c" stroke-width="2.1"/><circle cx="548.7" cy="278.3" r="9.5" fill="#5e8eb4" stroke="#1b5f8c" stroke-width="2.1"/><circle cx="559.2" cy="287.5" r="9.5" fill="#5e8eb4" stroke="#1b5f8c" stroke-width="2.1"/><circle cx="528.9" cy="306" r="9.5" fill="#5e8eb4" stroke="#1b5f8c" stroke-width="2.1"/><circle cx="572.4" cy="304.7" r="9.5" fill="#5e8eb4" stroke="#1b5f8c" stroke-width="2.1"/><circle cx="592.2" cy="295.5" r="9.5" fill="#5e8eb4" stroke="#1b5f8c" stroke-width="2.1"/><circle cx="625.3" cy="271.7" r="9.5" fill="#5e8eb4" stroke="#1b5f8c" stroke-width="2.1"/><circle cx="579" cy="319.2" r="9.5" fill="#5e8eb4" stroke="#1b5f8c" stroke-width="2.1"/><circle cx="484" cy="324.5" r="9.5" fill="#5e8eb4" stroke="#1b5f8c" stroke-width="2.1"/><circle cx="506.4" cy="343" r="9.5" fill="#5e8eb4" stroke="#1b5f8c" stroke-width="2.1"/><circle cx="522.3" cy="329.8" r="9.5" fill="#5e8eb4" stroke="#1b5f8c" stroke-width="2.1"/><circle cx="627.9" cy="350.9" r="9.5" fill="#5e8eb4" stroke="#1b5f8c" stroke-width="2.1"/><circle cx="596.2" cy="352.2" r="9.5" fill="#5e8eb4" stroke="#1b5f8c" stroke-width="2.1"/><circle cx="567.2" cy="376" r="9.5" fill="#5e8eb4" stroke="#1b5f8c" stroke-width="2.1"/><circle cx="568.6" cy="260.2" r="9.5" fill="#5e8eb4" stroke="#1b5f8c" stroke-width="2.1"/><circle cx="699" cy="273.6" r="9.5" fill="#5e8eb4" stroke="#1b5f8c" stroke-width="2.1"/><circle cx="762.7" cy="323.8" r="9.5" fill="#5e8eb4" stroke="#1b5f8c" stroke-width="2.1"/><circle cx="672.4" cy="336.1" r="9.5" fill="#5e8eb4" stroke="#1b5f8c" stroke-width="2.1"/><circle cx="632.2" cy="350.6" r="9.5" fill="#5e8eb4" stroke="#1b5f8c" stroke-width="2.1"/><circle cx="682.4" cy="367.3" r="9.5" fill="#5e8eb4" stroke="#1b5f8c" stroke-width="2.1"/><circle cx="638.9" cy="374" r="9.5" fill="#5e8eb4" stroke="#1b5f8c" stroke-width="2.1"/><circle cx="616.6" cy="376.2" r="9.5" fill="#5e8eb4" stroke="#1b5f8c" stroke-width="2.1"/><circle cx="585.4" cy="411.9" r="9.5" fill="#5e8eb4" stroke="#1b5f8c" stroke-width="2.1"/><circle cx="537.4" cy="407.5" r="9.5" fill="#5e8eb4" stroke="#1b5f8c" stroke-width="2.1"/><circle cx="235.2" cy="515.8" r="9.5" fill="#5e8eb4" stroke="#1b5f8c" stroke-width="2.1"/><circle cx="229" cy="524.6" r="9.5" fill="#5e8eb4" stroke="#1b5f8c" stroke-width="2.1"/><circle cx="652" cy="147.3" r="9.5" fill="#5e8eb4" stroke="#1b5f8c" stroke-width="2.1"/><circle cx="1016.8" cy="203.2" r="9.5" fill="#5e8eb4" stroke="#1b5f8c" stroke-width="2.1"/><circle cx="986.5" cy="258.3" r="9.5" fill="#5e8eb4" stroke="#1b5f8c" stroke-width="2.1"/><circle cx="888.5" cy="277" r="9.5" fill="#5e8eb4" stroke="#1b5f8c" stroke-width="2.1"/><circle cx="797.4" cy="229.5" r="9.5" fill="#5e8eb4" stroke="#1b5f8c" stroke-width="2.1"/><circle cx="819.2" cy="254.7" r="9.5" fill="#5e8eb4" stroke="#1b5f8c" stroke-width="2.1"/><circle cx="741" cy="256.7" r="9.5" fill="#5e8eb4" stroke="#1b5f8c" stroke-width="2.1"/><circle cx="728" cy="264.1" r="9.5" fill="#5e8eb4" stroke="#1b5f8c" stroke-width="2.1"/><circle cx="658.2" cy="266" r="9.5" fill="#5e8eb4" stroke="#1b5f8c" stroke-width="2.1"/><circle cx="667.5" cy="300.4" r="9.5" fill="#5e8eb4" stroke="#1b5f8c" stroke-width="2.1"/><circle cx="694.5" cy="306" r="9.5" fill="#5e8eb4" stroke="#1b5f8c" stroke-width="2.1"/><circle cx="720.5" cy="298.5" r="9.5" fill="#5e8eb4" stroke="#1b5f8c" stroke-width="2.1"/><circle cx="735.4" cy="313.4" r="9.5" fill="#5e8eb4" stroke="#1b5f8c" stroke-width="2.1"/><circle cx="635" cy="320.8" r="9.5" fill="#5e8eb4" stroke="#1b5f8c" stroke-width="2.1"/><circle cx="709.3" cy="336.6" r="9.5" fill="#5e8eb4" stroke="#1b5f8c" stroke-width="2.1"/><circle cx="722.4" cy="367.3" r="9.5" fill="#5e8eb4" stroke="#1b5f8c" stroke-width="2.1"/><circle cx="566.4" cy="224.5" r="9.5" fill="#5e8eb4" stroke="#1b5f8c" stroke-width="2.1"/><circle cx="366" cy="325.1" r="9.5" fill="#5e8eb4" stroke="#1b5f8c" stroke-width="2.1"/><circle cx="376" cy="344.9" r="9.5" fill="#5e8eb4" stroke="#1b5f8c" stroke-width="2.1"/><circle cx="322.4" cy="389.8" r="9.5" fill="#5e8eb4" stroke="#1b5f8c" stroke-width="2.1"/><circle cx="374" cy="379.2" r="9.5" fill="#5e8eb4" stroke="#1b5f8c" stroke-width="2.1"/><circle cx="348.8" cy="425.4" r="9.5" fill="#5e8eb4" stroke="#1b5f8c" stroke-width="2.1"/><circle cx="364.7" cy="412.2" r="9.5" fill="#5e8eb4" stroke="#1b5f8c" stroke-width="2.1"/><circle cx="355.4" cy="438.7" r="9.5" fill="#5e8eb4" stroke="#1b5f8c" stroke-width="2.1"/><circle cx="276.2" cy="445.3" r="9.5" fill="#5e8eb4" stroke="#1b5f8c" stroke-width="2.1"/><circle cx="316" cy="446" r="9.5" fill="#43b8ae" stroke="#16958b" stroke-width="2.1"/><circle cx="453.2" cy="318.4" r="9.5" fill="#5e8eb4" stroke="#1b5f8c" stroke-width="2.1"/><circle cx="437.3" cy="348.1" r="9.5" fill="#43b8ae" stroke="#16958b" stroke-width="2.1"/><circle cx="463.1" cy="341.5" r="9.5" fill="#43b8ae" stroke="#16958b" stroke-width="2.1"/><circle cx="475.6" cy="348.1" r="9.5" fill="#43b8ae" stroke="#16958b" stroke-width="2.1"/><circle cx="414.9" cy="367.9" r="9.5" fill="#5e8eb4" stroke="#1b5f8c" stroke-width="2.1"/><circle cx="458.5" cy="369.2" r="9.5" fill="#43b8ae" stroke="#16958b" stroke-width="2.1"/><circle cx="377.9" cy="377.2" r="9.5" fill="#43b8ae" stroke="#16958b" stroke-width="2.1"/><circle cx="426.8" cy="389" r="9.5" fill="#43b8ae" stroke="#16958b" stroke-width="2.1"/><circle cx="379.2" cy="408.8" r="9.5" fill="#43b8ae" stroke="#16958b" stroke-width="2.1"/><circle cx="401.7" cy="412.8" r="9.5" fill="#43b8ae" stroke="#16958b" stroke-width="2.1"/><circle cx="418.9" cy="403.6" r="9.5" fill="#43b8ae" stroke="#16958b" stroke-width="2.1"/><circle cx="461.1" cy="420.7" r="9.5" fill="#43b8ae" stroke="#16958b" stroke-width="2.1"/><circle cx="381.9" cy="426" r="9.5" fill="#43b8ae" stroke="#16958b" stroke-width="2.1"/><circle cx="400.4" cy="428.7" r="9.5" fill="#43b8ae" stroke="#16958b" stroke-width="2.1"/><circle cx="513.9" cy="391.7" r="9.5" fill="#5e8eb4" stroke="#1b5f8c" stroke-width="2.1"/><circle cx="278.5" cy="449.8" r="9.5" fill="#5e8eb4" stroke="#1b5f8c" stroke-width="2.1"/><circle cx="315.4" cy="452.4" r="9.5" fill="#43b8ae" stroke="#16958b" stroke-width="2.1"/><circle cx="332.6" cy="456.4" r="9.5" fill="#43b8ae" stroke="#16958b" stroke-width="2.1"/><circle cx="278.5" cy="478.9" r="9.5" fill="#5e8eb4" stroke="#1b5f8c" stroke-width="2.1"/><circle cx="332.6" cy="480.2" r="9.5" fill="#43b8ae" stroke="#16958b" stroke-width="2.1"/><circle cx="306.2" cy="489.4" r="9.5" fill="#43b8ae" stroke="#16958b" stroke-width="2.1"/><circle cx="285" cy="511.9" r="9.5" fill="#43b8ae" stroke="#16958b" stroke-width="2.1"/><circle cx="282.4" cy="522.4" r="9.5" fill="#43b8ae" stroke="#16958b" stroke-width="2.1"/><circle cx="315.4" cy="515.8" r="9.5" fill="#43b8ae" stroke="#16958b" stroke-width="2.1"/><circle cx="328.6" cy="522.4" r="9.5" fill="#43b8ae" stroke="#16958b" stroke-width="2.1"/><circle cx="274.5" cy="538.3" r="9.5" fill="#43b8ae" stroke="#16958b" stroke-width="2.1"/><circle cx="275.8" cy="555.4" r="9.5" fill="#43b8ae" stroke="#16958b" stroke-width="2.1"/><circle cx="295.6" cy="562" r="9.5" fill="#43b8ae" stroke="#16958b" stroke-width="2.1"/><circle cx="315.4" cy="555.4" r="9.5" fill="#43b8ae" stroke="#16958b" stroke-width="2.1"/><circle cx="332.6" cy="559.4" r="9.5" fill="#43b8ae" stroke="#16958b" stroke-width="2.1"/><circle cx="282.4" cy="572.6" r="9.5" fill="#43b8ae" stroke="#16958b" stroke-width="2.1"/><circle cx="308.8" cy="568.7" r="9.5" fill="#43b8ae" stroke="#16958b" stroke-width="2.1"/><circle cx="300" cy="528" r="9.5" fill="#43b8ae" stroke="#16958b" stroke-width="2.1"/><circle cx="298" cy="505" r="9.5" fill="#43b8ae" stroke="#16958b" stroke-width="2.1"/><circle cx="253.4" cy="591.1" r="9.5" fill="#43b8ae" stroke="#16958b" stroke-width="2.1"/><circle cx="273.2" cy="580.6" r="9.5" fill="#43b8ae" stroke="#16958b" stroke-width="2.1"/><circle cx="295.6" cy="603" r="9.5" fill="#43b8ae" stroke="#16958b" stroke-width="2.1"/><circle cx="293" cy="574" r="9.5" fill="#43b8ae" stroke="#16958b" stroke-width="2.1"/><circle cx="242.8" cy="673" r="9.5" fill="#43b8ae" stroke="#16958b" stroke-width="2.1"/><circle cx="221.7" cy="696.8" r="9.5" fill="#5e8eb4" stroke="#1b5f8c" stroke-width="2.1"/><circle cx="222.9" cy="701.5" r="9.5" fill="#5e8eb4" stroke="#1b5f8c" stroke-width="2.1"/><circle cx="343.2" cy="427.9" r="9.5" fill="#43b8ae" stroke="#16958b" stroke-width="2.1"/><circle cx="356.4" cy="439.8" r="9.5" fill="#43b8ae" stroke="#16958b" stroke-width="2.1"/><circle cx="334" cy="451.7" r="9.5" fill="#43b8ae" stroke="#16958b" stroke-width="2.1"/><circle cx="372.3" cy="450.4" r="9.5" fill="#43b8ae" stroke="#16958b" stroke-width="2.1"/><circle cx="392" cy="454.3" r="9.5" fill="#43b8ae" stroke="#16958b" stroke-width="2.1"/><circle cx="400" cy="446.4" r="9.5" fill="#43b8ae" stroke="#16958b" stroke-width="2.1"/><circle cx="429" cy="446.4" r="9.5" fill="#43b8ae" stroke="#16958b" stroke-width="2.1"/><circle cx="444.9" cy="445.1" r="9.5" fill="#43b8ae" stroke="#16958b" stroke-width="2.1"/><circle cx="458.1" cy="459.6" r="9.5" fill="#5e8eb4" stroke="#1b5f8c" stroke-width="2.1"/><circle cx="394.7" cy="479.4" r="9.5" fill="#5e8eb4" stroke="#1b5f8c" stroke-width="2.1"/><circle cx="365.7" cy="494" r="9.5" fill="#43b8ae" stroke="#16958b" stroke-width="2.1"/><circle cx="376.2" cy="513.8" r="9.5" fill="#5e8eb4" stroke="#1b5f8c" stroke-width="2.1"/><circle cx="335.3" cy="482.1" r="9.5" fill="#43b8ae" stroke="#16958b" stroke-width="2.1"/><circle cx="347.2" cy="532.2" r="9.5" fill="#43b8ae" stroke="#16958b" stroke-width="2.1"/><circle cx="337.9" cy="560" r="9.5" fill="#43b8ae" stroke="#16958b" stroke-width="2.1"/><circle cx="460.7" cy="422.6" r="9.5" fill="#43b8ae" stroke="#16958b" stroke-width="2.1"/><circle cx="380.2" cy="425.3" r="9.5" fill="#43b8ae" stroke="#16958b" stroke-width="2.1"/><circle cx="398.7" cy="427.9" r="9.5" fill="#43b8ae" stroke="#16958b" stroke-width="2.1"/><circle cx="337.3" cy="562.4" r="9.5" fill="#43b8ae" stroke="#16958b" stroke-width="2.1"/><circle cx="296.4" cy="603.4" r="9.5" fill="#43b8ae" stroke="#16958b" stroke-width="2.1"/><circle cx="289.8" cy="573" r="9.5" fill="#43b8ae" stroke="#16958b" stroke-width="2.1"/><circle cx="309.6" cy="566.4" r="9.5" fill="#43b8ae" stroke="#16958b" stroke-width="2.1"/><circle cx="276.6" cy="578.3" r="9.5" fill="#43b8ae" stroke="#16958b" stroke-width="2.1"/><circle cx="283.2" cy="555.8" r="9.5" fill="#43b8ae" stroke="#16958b" stroke-width="2.1"/><circle cx="588.3" cy="262.4" r="9.5" fill="#5e8eb4" stroke="#1b5f8c" stroke-width="2.1"/><circle cx="602.8" cy="274.3" r="9.5" fill="#5e8eb4" stroke="#1b5f8c" stroke-width="2.1"/><circle cx="610.7" cy="294.1" r="9.5" fill="#5e8eb4" stroke="#1b5f8c" stroke-width="2.1"/><circle cx="536.8" cy="321.9" r="9.5" fill="#5e8eb4" stroke="#1b5f8c" stroke-width="2.1"/><circle cx="560.5" cy="323.2" r="9.5" fill="#5e8eb4" stroke="#1b5f8c" stroke-width="2.1"/><circle cx="580.4" cy="347" r="9.5" fill="#5e8eb4" stroke="#1b5f8c" stroke-width="2.1"/><circle cx="601.5" cy="339" r="9.5" fill="#5e8eb4" stroke="#1b5f8c" stroke-width="2.1"/><circle cx="618.7" cy="329.8" r="9.5" fill="#5e8eb4" stroke="#1b5f8c" stroke-width="2.1"/><circle cx="539.4" cy="356.2" r="9.5" fill="#5e8eb4" stroke="#1b5f8c" stroke-width="2.1"/><circle cx="524.9" cy="365.4" r="9.5" fill="#5e8eb4" stroke="#1b5f8c" stroke-width="2.1"/><circle cx="556.6" cy="370.7" r="9.5" fill="#5e8eb4" stroke="#1b5f8c" stroke-width="2.1"/><circle cx="481.3" cy="349.6" r="9.5" fill="#5e8eb4" stroke="#1b5f8c" stroke-width="2.1"/><circle cx="518.3" cy="386.6" r="9.5" fill="#5e8eb4" stroke="#1b5f8c" stroke-width="2.1"/><circle cx="606.6" cy="401.9" r="9.5" fill="#5e8eb4" stroke="#1b5f8c" stroke-width="2.1"/><circle cx="564.2" cy="401.9" r="9.5" fill="#5e8eb4" stroke="#1b5f8c" stroke-width="2.1"/><circle cx="518.5" cy="391.8" r="9.5" fill="#5e8eb4" stroke="#1b5f8c" stroke-width="2.1"/><circle cx="252.8" cy="588.9" r="9.5" fill="#43b8ae" stroke="#16958b" stroke-width="2.1"/><circle cx="273" cy="576.6" r="9.5" fill="#43b8ae" stroke="#16958b" stroke-width="2.1"/><circle cx="277.5" cy="537.9" r="9.5" fill="#43b8ae" stroke="#16958b" stroke-width="2.1"/><circle cx="283.6" cy="522.9" r="9.5" fill="#43b8ae" stroke="#16958b" stroke-width="2.1"/><circle cx="284.5" cy="556.3" r="9.5" fill="#43b8ae" stroke="#16958b" stroke-width="2.1"/><circle cx="292.4" cy="570.4" r="9.5" fill="#43b8ae" stroke="#16958b" stroke-width="2.1"/><circle cx="288" cy="510.6" r="9.5" fill="#43b8ae" stroke="#16958b" stroke-width="2.1"/><circle cx="242.8" cy="658.5" r="9.5" fill="#f5bcc0" stroke="#ee9aa2" stroke-width="2.1"/><circle cx="228.3" cy="683.6" r="9.5" fill="#f5bcc0" stroke="#ee9aa2" stroke-width="2.1"/><circle cx="826" cy="300.6" r="9.5" fill="#fff" stroke="#1f6491" stroke-width="2.1"/><circle cx="434" cy="321" r="9.5" fill="#fff" stroke="#1f6491" stroke-width="2.1"/><circle cx="391.1" cy="360" r="9.5" fill="#fff" stroke="#1d9c92" stroke-width="2.1"/><circle cx="433.4" cy="377.2" r="9.5" fill="#fff" stroke="#1f6491" stroke-width="2.1"/><circle cx="326" cy="539.6" r="9.5" fill="#fff" stroke="#1d9c92" stroke-width="2.1"/><circle cx="265.3" cy="567.3" r="9.5" fill="#fff" stroke="#1d9c92" stroke-width="2.1"/><circle cx="262.6" cy="634.7" r="9.5" fill="#fff" stroke="#1d9c92" stroke-width="2.1"/><circle cx="266.6" cy="659.8" r="9.5" fill="#fff" stroke="#1d9c92" stroke-width="2.1"/><circle cx="261.3" cy="607" r="9.5" fill="#fff" stroke="#1d9c92" stroke-width="2.1"/><circle cx="236.2" cy="698.1" r="9.5" fill="#fff" stroke="#1d9c92" stroke-width="2.1"/><circle cx="237.9" cy="700" r="9.5" fill="#fff" stroke="#1d9c92" stroke-width="2.1"/><circle cx="225.2" cy="807.8" r="9.5" fill="#fff" stroke="#1d9c92" stroke-width="2.1"/><circle cx="361.7" cy="463.6" r="9.5" fill="#fff" stroke="#1d9c92" stroke-width="2.1"/><circle cx="332.6" cy="538.8" r="9.5" fill="#fff" stroke="#1d9c92" stroke-width="2.1"/><circle cx="326.8" cy="542.6" r="9.5" fill="#fff" stroke="#1d9c92" stroke-width="2.1"/><circle cx="270" cy="658.8" r="9.5" fill="#fff" stroke="#1d9c92" stroke-width="2.1"/><circle cx="519" cy="288.9" r="9.5" fill="#fff" stroke="#1d9c92" stroke-width="2.1"/><circle cx="539.4" cy="344.3" r="9.5" fill="#fff" stroke="#1f6491" stroke-width="2.1"/><circle cx="606.8" cy="378.7" r="9.5" fill="#fff" stroke="#1f6491" stroke-width="2.1"/><circle cx="266.9" cy="567.8" r="9.5" fill="#fff" stroke="#1d9c92" stroke-width="2.1"/><path d="M652 134.9 L648.5 142.4 L640.2 143.5 L646.3 149.2 L644.7 157.3 L652 153.3 L659.3 157.3 L657.7 149.2 L663.8 143.5 L655.5 142.4Z" fill="#f04283" stroke="#8c0c38" stroke-width="1.9" stroke-linejoin="miter"/><path d="M1016.8 190.8 L1013.3 198.3 L1005 199.4 L1011.1 205.1 L1009.5 213.2 L1016.8 209.2 L1024.1 213.2 L1022.5 205.1 L1028.6 199.4 L1020.3 198.3Z" fill="#f04283" stroke="#8c0c38" stroke-width="1.9" stroke-linejoin="miter"/><path d="M986.5 245.9 L983 253.4 L974.7 254.5 L980.8 260.2 L979.2 268.3 L986.5 264.3 L993.8 268.3 L992.2 260.2 L998.3 254.5 L990 253.4Z" fill="#f04283" stroke="#8c0c38" stroke-width="1.9" stroke-linejoin="miter"/><path d="M888.5 264.6 L885 272.1 L876.7 273.2 L882.8 278.9 L881.2 287 L888.5 283 L895.8 287 L894.2 278.9 L900.3 273.2 L892 272.1Z" fill="#f04283" stroke="#8c0c38" stroke-width="1.9" stroke-linejoin="miter"/><path d="M797.4 217.1 L793.9 224.6 L785.6 225.7 L791.7 231.4 L790.1 239.5 L797.4 235.5 L804.7 239.5 L803.1 231.4 L809.2 225.7 L800.9 224.6Z" fill="#f04283" stroke="#8c0c38" stroke-width="1.9" stroke-linejoin="miter"/><path d="M819.2 242.3 L815.7 249.8 L807.4 250.9 L813.5 256.6 L811.9 264.7 L819.2 260.7 L826.5 264.7 L824.9 256.6 L831 250.9 L822.7 249.8Z" fill="#f04283" stroke="#8c0c38" stroke-width="1.9" stroke-linejoin="miter"/><path d="M741 244.3 L737.5 251.8 L729.2 252.9 L735.3 258.6 L733.7 266.7 L741 262.7 L748.3 266.7 L746.7 258.6 L752.8 252.9 L744.5 251.8Z" fill="#f04283" stroke="#8c0c38" stroke-width="1.9" stroke-linejoin="miter"/><path d="M728 251.7 L724.5 259.2 L716.2 260.3 L722.3 266 L720.7 274.1 L728 270.1 L735.3 274.1 L733.7 266 L739.8 260.3 L731.5 259.2Z" fill="#f04283" stroke="#8c0c38" stroke-width="1.9" stroke-linejoin="miter"/><path d="M658.2 253.6 L654.7 261.1 L646.4 262.2 L652.5 267.9 L650.9 276 L658.2 272 L665.5 276 L663.9 267.9 L670 262.2 L661.7 261.1Z" fill="#f04283" stroke="#8c0c38" stroke-width="1.9" stroke-linejoin="miter"/><path d="M667.5 288 L664 295.5 L655.7 296.6 L661.8 302.3 L660.2 310.4 L667.5 306.4 L674.8 310.4 L673.2 302.3 L679.3 296.6 L671 295.5Z" fill="#f04283" stroke="#8c0c38" stroke-width="1.9" stroke-linejoin="miter"/><path d="M694.5 293.6 L691 301.1 L682.7 302.2 L688.8 307.9 L687.2 316 L694.5 312 L701.8 316 L700.2 307.9 L706.3 302.2 L698 301.1Z" fill="#f04283" stroke="#8c0c38" stroke-width="1.9" stroke-linejoin="miter"/><path d="M720.5 286.1 L717 293.6 L708.7 294.7 L714.8 300.4 L713.2 308.5 L720.5 304.5 L727.8 308.5 L726.2 300.4 L732.3 294.7 L724 293.6Z" fill="#f04283" stroke="#8c0c38" stroke-width="1.9" stroke-linejoin="miter"/><path d="M735.4 301 L731.9 308.5 L723.6 309.6 L729.7 315.3 L728.1 323.4 L735.4 319.4 L742.7 323.4 L741.1 315.3 L747.2 309.6 L738.9 308.5Z" fill="#f04283" stroke="#8c0c38" stroke-width="1.9" stroke-linejoin="miter"/><path d="M635 308.4 L631.5 315.9 L623.2 317 L629.3 322.7 L627.7 330.8 L635 326.8 L642.3 330.8 L640.7 322.7 L646.8 317 L638.5 315.9Z" fill="#f04283" stroke="#8c0c38" stroke-width="1.9" stroke-linejoin="miter"/><path d="M709.3 324.2 L705.8 331.7 L697.5 332.8 L703.6 338.5 L702 346.6 L709.3 342.6 L716.6 346.6 L715 338.5 L721.1 332.8 L712.8 331.7Z" fill="#f04283" stroke="#8c0c38" stroke-width="1.9" stroke-linejoin="miter"/><path d="M722.4 354.9 L718.9 362.4 L710.6 363.5 L716.7 369.2 L715.1 377.3 L722.4 373.3 L729.7 377.3 L728.1 369.2 L734.2 363.5 L725.9 362.4Z" fill="#f04283" stroke="#8c0c38" stroke-width="1.9" stroke-linejoin="miter"/><path d="M566.4 212.1 L562.9 219.6 L554.6 220.7 L560.7 226.4 L559.1 234.5 L566.4 230.5 L573.7 234.5 L572.1 226.4 L578.2 220.7 L569.9 219.6Z" fill="#f04283" stroke="#8c0c38" stroke-width="1.9" stroke-linejoin="miter"/><path d="M366 312.7 L362.5 320.2 L354.2 321.3 L360.3 327 L358.7 335.1 L366 331.1 L373.3 335.1 L371.7 327 L377.8 321.3 L369.5 320.2Z" fill="#f04283" stroke="#8c0c38" stroke-width="1.9" stroke-linejoin="miter"/><path d="M376 332.5 L372.5 340 L364.2 341.1 L370.3 346.8 L368.7 354.9 L376 350.9 L383.3 354.9 L381.7 346.8 L387.8 341.1 L379.5 340Z" fill="#f04283" stroke="#8c0c38" stroke-width="1.9" stroke-linejoin="miter"/><path d="M322.4 377.4 L318.9 384.9 L310.6 386 L316.7 391.7 L315.1 399.8 L322.4 395.8 L329.7 399.8 L328.1 391.7 L334.2 386 L325.9 384.9Z" fill="#f04283" stroke="#8c0c38" stroke-width="1.9" stroke-linejoin="miter"/><path d="M374 366.8 L370.5 374.3 L362.2 375.4 L368.3 381.1 L366.7 389.2 L374 385.2 L381.3 389.2 L379.7 381.1 L385.8 375.4 L377.5 374.3Z" fill="#f04283" stroke="#8c0c38" stroke-width="1.9" stroke-linejoin="miter"/><path d="M348.8 413 L345.3 420.5 L337 421.6 L343.1 427.3 L341.5 435.4 L348.8 431.4 L356.1 435.4 L354.5 427.3 L360.6 421.6 L352.3 420.5Z" fill="#f04283" stroke="#8c0c38" stroke-width="1.9" stroke-linejoin="miter"/><path d="M364.7 399.8 L361.2 407.3 L352.9 408.4 L359 414.1 L357.4 422.2 L364.7 418.2 L372 422.2 L370.4 414.1 L376.5 408.4 L368.2 407.3Z" fill="#f04283" stroke="#8c0c38" stroke-width="1.9" stroke-linejoin="miter"/><path d="M355.4 426.3 L351.9 433.8 L343.6 434.9 L349.7 440.6 L348.1 448.7 L355.4 444.7 L362.7 448.7 L361.1 440.6 L367.2 434.9 L358.9 433.8Z" fill="#f04283" stroke="#8c0c38" stroke-width="1.9" stroke-linejoin="miter"/><path d="M276.2 432.9 L272.7 440.4 L264.4 441.5 L270.5 447.2 L268.9 455.3 L276.2 451.3 L283.5 455.3 L281.9 447.2 L288 441.5 L279.7 440.4Z" fill="#f04283" stroke="#8c0c38" stroke-width="1.9" stroke-linejoin="miter"/><path d="M316 433.6 L312.5 441.1 L304.2 442.2 L310.3 447.9 L308.7 456 L316 452 L323.3 456 L321.7 447.9 L327.8 442.2 L319.5 441.1Z" fill="#f04283" stroke="#8c0c38" stroke-width="1.9" stroke-linejoin="miter"/><path d="M453.2 306 L449.7 313.5 L441.4 314.6 L447.5 320.3 L445.9 328.4 L453.2 324.4 L460.5 328.4 L458.9 320.3 L465 314.6 L456.7 313.5Z" fill="#f04283" stroke="#8c0c38" stroke-width="1.9" stroke-linejoin="miter"/><path d="M437.3 335.7 L433.8 343.2 L425.5 344.3 L431.6 350 L430 358.1 L437.3 354.1 L444.6 358.1 L443 350 L449.1 344.3 L440.8 343.2Z" fill="#f04283" stroke="#8c0c38" stroke-width="1.9" stroke-linejoin="miter"/><path d="M463.1 329.1 L459.6 336.6 L451.3 337.7 L457.4 343.4 L455.8 351.5 L463.1 347.5 L470.4 351.5 L468.8 343.4 L474.9 337.7 L466.6 336.6Z" fill="#f04283" stroke="#8c0c38" stroke-width="1.9" stroke-linejoin="miter"/><path d="M475.6 335.7 L472.1 343.2 L463.8 344.3 L469.9 350 L468.3 358.1 L475.6 354.1 L482.9 358.1 L481.3 350 L487.4 344.3 L479.1 343.2Z" fill="#f04283" stroke="#8c0c38" stroke-width="1.9" stroke-linejoin="miter"/><path d="M414.9 355.5 L411.4 363 L403.1 364.1 L409.2 369.8 L407.6 377.9 L414.9 373.9 L422.2 377.9 L420.6 369.8 L426.7 364.1 L418.4 363Z" fill="#f04283" stroke="#8c0c38" stroke-width="1.9" stroke-linejoin="miter"/><path d="M458.5 356.8 L455 364.3 L446.7 365.4 L452.8 371.1 L451.2 379.2 L458.5 375.2 L465.8 379.2 L464.2 371.1 L470.3 365.4 L462 364.3Z" fill="#f04283" stroke="#8c0c38" stroke-width="1.9" stroke-linejoin="miter"/><path d="M377.9 364.8 L374.4 372.3 L366.1 373.4 L372.2 379.1 L370.6 387.2 L377.9 383.2 L385.2 387.2 L383.6 379.1 L389.7 373.4 L381.4 372.3Z" fill="#f04283" stroke="#8c0c38" stroke-width="1.9" stroke-linejoin="miter"/><path d="M426.8 376.6 L423.3 384.1 L415 385.2 L421.1 390.9 L419.5 399 L426.8 395 L434.1 399 L432.5 390.9 L438.6 385.2 L430.3 384.1Z" fill="#f04283" stroke="#8c0c38" stroke-width="1.9" stroke-linejoin="miter"/><path d="M379.2 396.4 L375.7 403.9 L367.4 405 L373.5 410.7 L371.9 418.8 L379.2 414.8 L386.5 418.8 L384.9 410.7 L391 405 L382.7 403.9Z" fill="#f04283" stroke="#8c0c38" stroke-width="1.9" stroke-linejoin="miter"/><path d="M401.7 400.4 L398.2 407.9 L389.9 409 L396 414.7 L394.4 422.8 L401.7 418.8 L409 422.8 L407.4 414.7 L413.5 409 L405.2 407.9Z" fill="#f04283" stroke="#8c0c38" stroke-width="1.9" stroke-linejoin="miter"/><path d="M418.9 391.2 L415.4 398.7 L407.1 399.8 L413.2 405.5 L411.6 413.6 L418.9 409.6 L426.2 413.6 L424.6 405.5 L430.7 399.8 L422.4 398.7Z" fill="#f04283" stroke="#8c0c38" stroke-width="1.9" stroke-linejoin="miter"/><path d="M461.1 408.3 L457.6 415.8 L449.3 416.9 L455.4 422.6 L453.8 430.7 L461.1 426.7 L468.4 430.7 L466.8 422.6 L472.9 416.9 L464.6 415.8Z" fill="#f04283" stroke="#8c0c38" stroke-width="1.9" stroke-linejoin="miter"/><path d="M381.9 413.6 L378.4 421.1 L370.1 422.2 L376.2 427.9 L374.6 436 L381.9 432 L389.2 436 L387.6 427.9 L393.7 422.2 L385.4 421.1Z" fill="#f04283" stroke="#8c0c38" stroke-width="1.9" stroke-linejoin="miter"/><path d="M400.4 416.3 L396.9 423.8 L388.6 424.9 L394.7 430.6 L393.1 438.7 L400.4 434.7 L407.7 438.7 L406.1 430.6 L412.2 424.9 L403.9 423.8Z" fill="#f04283" stroke="#8c0c38" stroke-width="1.9" stroke-linejoin="miter"/><path d="M513.9 379.3 L510.4 386.8 L502.1 387.9 L508.2 393.6 L506.6 401.7 L513.9 397.7 L521.2 401.7 L519.6 393.6 L525.7 387.9 L517.4 386.8Z" fill="#f04283" stroke="#8c0c38" stroke-width="1.9" stroke-linejoin="miter"/><path d="M278.5 437.4 L275 444.9 L266.7 446 L272.8 451.7 L271.2 459.8 L278.5 455.8 L285.8 459.8 L284.2 451.7 L290.3 446 L282 444.9Z" fill="#f04283" stroke="#8c0c38" stroke-width="1.9" stroke-linejoin="miter"/><path d="M315.4 440 L311.9 447.5 L303.6 448.6 L309.7 454.3 L308.1 462.4 L315.4 458.4 L322.7 462.4 L321.1 454.3 L327.2 448.6 L318.9 447.5Z" fill="#f04283" stroke="#8c0c38" stroke-width="1.9" stroke-linejoin="miter"/><path d="M332.6 444 L329.1 451.5 L320.8 452.6 L326.9 458.3 L325.3 466.4 L332.6 462.4 L339.9 466.4 L338.3 458.3 L344.4 452.6 L336.1 451.5Z" fill="#f04283" stroke="#8c0c38" stroke-width="1.9" stroke-linejoin="miter"/><path d="M278.5 466.5 L275 474 L266.7 475.1 L272.8 480.8 L271.2 488.9 L278.5 484.9 L285.8 488.9 L284.2 480.8 L290.3 475.1 L282 474Z" fill="#f04283" stroke="#8c0c38" stroke-width="1.9" stroke-linejoin="miter"/><path d="M332.6 467.8 L329.1 475.3 L320.8 476.4 L326.9 482.1 L325.3 490.2 L332.6 486.2 L339.9 490.2 L338.3 482.1 L344.4 476.4 L336.1 475.3Z" fill="#f04283" stroke="#8c0c38" stroke-width="1.9" stroke-linejoin="miter"/><path d="M306.2 477 L302.7 484.5 L294.4 485.6 L300.5 491.3 L298.9 499.4 L306.2 495.4 L313.5 499.4 L311.9 491.3 L318 485.6 L309.7 484.5Z" fill="#f04283" stroke="#8c0c38" stroke-width="1.9" stroke-linejoin="miter"/><path d="M285 499.5 L281.5 507 L273.2 508.1 L279.3 513.8 L277.7 521.9 L285 517.9 L292.3 521.9 L290.7 513.8 L296.8 508.1 L288.5 507Z" fill="#f04283" stroke="#8c0c38" stroke-width="1.9" stroke-linejoin="miter"/><path d="M282.4 510 L278.9 517.5 L270.6 518.6 L276.7 524.3 L275.1 532.4 L282.4 528.4 L289.7 532.4 L288.1 524.3 L294.2 518.6 L285.9 517.5Z" fill="#f04283" stroke="#8c0c38" stroke-width="1.9" stroke-linejoin="miter"/><path d="M315.4 503.4 L311.9 510.9 L303.6 512 L309.7 517.7 L308.1 525.8 L315.4 521.8 L322.7 525.8 L321.1 517.7 L327.2 512 L318.9 510.9Z" fill="#f04283" stroke="#8c0c38" stroke-width="1.9" stroke-linejoin="miter"/><path d="M328.6 510 L325.1 517.5 L316.8 518.6 L322.9 524.3 L321.3 532.4 L328.6 528.4 L335.9 532.4 L334.3 524.3 L340.4 518.6 L332.1 517.5Z" fill="#f04283" stroke="#8c0c38" stroke-width="1.9" stroke-linejoin="miter"/><path d="M274.5 525.9 L271 533.4 L262.7 534.5 L268.8 540.2 L267.2 548.3 L274.5 544.3 L281.8 548.3 L280.2 540.2 L286.3 534.5 L278 533.4Z" fill="#f04283" stroke="#8c0c38" stroke-width="1.9" stroke-linejoin="miter"/><path d="M275.8 543 L272.3 550.5 L264 551.6 L270.1 557.3 L268.5 565.4 L275.8 561.4 L283.1 565.4 L281.5 557.3 L287.6 551.6 L279.3 550.5Z" fill="#f04283" stroke="#8c0c38" stroke-width="1.9" stroke-linejoin="miter"/><path d="M295.6 549.6 L292.1 557.1 L283.8 558.2 L289.9 563.9 L288.3 572 L295.6 568 L302.9 572 L301.3 563.9 L307.4 558.2 L299.1 557.1Z" fill="#f04283" stroke="#8c0c38" stroke-width="1.9" stroke-linejoin="miter"/><path d="M315.4 543 L311.9 550.5 L303.6 551.6 L309.7 557.3 L308.1 565.4 L315.4 561.4 L322.7 565.4 L321.1 557.3 L327.2 551.6 L318.9 550.5Z" fill="#f04283" stroke="#8c0c38" stroke-width="1.9" stroke-linejoin="miter"/><path d="M332.6 547 L329.1 554.5 L320.8 555.6 L326.9 561.3 L325.3 569.4 L332.6 565.4 L339.9 569.4 L338.3 561.3 L344.4 555.6 L336.1 554.5Z" fill="#f04283" stroke="#8c0c38" stroke-width="1.9" stroke-linejoin="miter"/><path d="M282.4 560.2 L278.9 567.7 L270.6 568.8 L276.7 574.5 L275.1 582.6 L282.4 578.6 L289.7 582.6 L288.1 574.5 L294.2 568.8 L285.9 567.7Z" fill="#f04283" stroke="#8c0c38" stroke-width="1.9" stroke-linejoin="miter"/><path d="M308.8 556.3 L305.3 563.8 L297 564.9 L303.1 570.6 L301.5 578.7 L308.8 574.7 L316.1 578.7 L314.5 570.6 L320.6 564.9 L312.3 563.8Z" fill="#f04283" stroke="#8c0c38" stroke-width="1.9" stroke-linejoin="miter"/><path d="M300 515.6 L296.5 523.1 L288.2 524.2 L294.3 529.9 L292.7 538 L300 534 L307.3 538 L305.7 529.9 L311.8 524.2 L303.5 523.1Z" fill="#f04283" stroke="#8c0c38" stroke-width="1.9" stroke-linejoin="miter"/><path d="M298 492.6 L294.5 500.1 L286.2 501.2 L292.3 506.9 L290.7 515 L298 511 L305.3 515 L303.7 506.9 L309.8 501.2 L301.5 500.1Z" fill="#f04283" stroke="#8c0c38" stroke-width="1.9" stroke-linejoin="miter"/><path d="M253.4 578.7 L249.9 586.2 L241.6 587.3 L247.7 593 L246.1 601.1 L253.4 597.1 L260.7 601.1 L259.1 593 L265.2 587.3 L256.9 586.2Z" fill="#f04283" stroke="#8c0c38" stroke-width="1.9" stroke-linejoin="miter"/><path d="M273.2 568.2 L269.7 575.7 L261.4 576.8 L267.5 582.5 L265.9 590.6 L273.2 586.6 L280.5 590.6 L278.9 582.5 L285 576.8 L276.7 575.7Z" fill="#f04283" stroke="#8c0c38" stroke-width="1.9" stroke-linejoin="miter"/><path d="M295.6 590.6 L292.1 598.1 L283.8 599.2 L289.9 604.9 L288.3 613 L295.6 609 L302.9 613 L301.3 604.9 L307.4 599.2 L299.1 598.1Z" fill="#f04283" stroke="#8c0c38" stroke-width="1.9" stroke-linejoin="miter"/><path d="M293 561.6 L289.5 569.1 L281.2 570.2 L287.3 575.9 L285.7 584 L293 580 L300.3 584 L298.7 575.9 L304.8 570.2 L296.5 569.1Z" fill="#f04283" stroke="#8c0c38" stroke-width="1.9" stroke-linejoin="miter"/><path d="M242.8 660.6 L239.3 668.1 L231 669.2 L237.1 674.9 L235.5 683 L242.8 679 L250.1 683 L248.5 674.9 L254.6 669.2 L246.3 668.1Z" fill="#f04283" stroke="#8c0c38" stroke-width="1.9" stroke-linejoin="miter"/><path d="M221.7 684.4 L218.2 691.9 L209.9 693 L216 698.7 L214.4 706.8 L221.7 702.8 L229 706.8 L227.4 698.7 L233.5 693 L225.2 691.9Z" fill="#f04283" stroke="#8c0c38" stroke-width="1.9" stroke-linejoin="miter"/><path d="M222.9 689.1 L219.4 696.6 L211.1 697.7 L217.2 703.4 L215.6 711.5 L222.9 707.5 L230.2 711.5 L228.6 703.4 L234.7 697.7 L226.4 696.6Z" fill="#f04283" stroke="#8c0c38" stroke-width="1.9" stroke-linejoin="miter"/><path d="M343.2 415.5 L339.7 423 L331.4 424.1 L337.5 429.8 L335.9 437.9 L343.2 433.9 L350.5 437.9 L348.9 429.8 L355 424.1 L346.7 423Z" fill="#f04283" stroke="#8c0c38" stroke-width="1.9" stroke-linejoin="miter"/><path d="M356.4 427.4 L352.9 434.9 L344.6 436 L350.7 441.7 L349.1 449.8 L356.4 445.8 L363.7 449.8 L362.1 441.7 L368.2 436 L359.9 434.9Z" fill="#f04283" stroke="#8c0c38" stroke-width="1.9" stroke-linejoin="miter"/><path d="M334 439.3 L330.5 446.8 L322.2 447.9 L328.3 453.6 L326.7 461.7 L334 457.7 L341.3 461.7 L339.7 453.6 L345.8 447.9 L337.5 446.8Z" fill="#f04283" stroke="#8c0c38" stroke-width="1.9" stroke-linejoin="miter"/><path d="M372.3 438 L368.8 445.5 L360.5 446.6 L366.6 452.3 L365 460.4 L372.3 456.4 L379.6 460.4 L378 452.3 L384.1 446.6 L375.8 445.5Z" fill="#f04283" stroke="#8c0c38" stroke-width="1.9" stroke-linejoin="miter"/><path d="M392 441.9 L388.5 449.4 L380.2 450.5 L386.3 456.2 L384.7 464.3 L392 460.3 L399.3 464.3 L397.7 456.2 L403.8 450.5 L395.5 449.4Z" fill="#f04283" stroke="#8c0c38" stroke-width="1.9" stroke-linejoin="miter"/><path d="M400 434 L396.5 441.5 L388.2 442.6 L394.3 448.3 L392.7 456.4 L400 452.4 L407.3 456.4 L405.7 448.3 L411.8 442.6 L403.5 441.5Z" fill="#f04283" stroke="#8c0c38" stroke-width="1.9" stroke-linejoin="miter"/><path d="M429 434 L425.5 441.5 L417.2 442.6 L423.3 448.3 L421.7 456.4 L429 452.4 L436.3 456.4 L434.7 448.3 L440.8 442.6 L432.5 441.5Z" fill="#f04283" stroke="#8c0c38" stroke-width="1.9" stroke-linejoin="miter"/><path d="M444.9 432.7 L441.4 440.2 L433.1 441.3 L439.2 447 L437.6 455.1 L444.9 451.1 L452.2 455.1 L450.6 447 L456.7 441.3 L448.4 440.2Z" fill="#f04283" stroke="#8c0c38" stroke-width="1.9" stroke-linejoin="miter"/><path d="M458.1 447.2 L454.6 454.7 L446.3 455.8 L452.4 461.5 L450.8 469.6 L458.1 465.6 L465.4 469.6 L463.8 461.5 L469.9 455.8 L461.6 454.7Z" fill="#f04283" stroke="#8c0c38" stroke-width="1.9" stroke-linejoin="miter"/><path d="M394.7 467 L391.2 474.5 L382.9 475.6 L389 481.3 L387.4 489.4 L394.7 485.4 L402 489.4 L400.4 481.3 L406.5 475.6 L398.2 474.5Z" fill="#f04283" stroke="#8c0c38" stroke-width="1.9" stroke-linejoin="miter"/><path d="M365.7 481.6 L362.2 489.1 L353.9 490.2 L360 495.9 L358.4 504 L365.7 500 L373 504 L371.4 495.9 L377.5 490.2 L369.2 489.1Z" fill="#f04283" stroke="#8c0c38" stroke-width="1.9" stroke-linejoin="miter"/><path d="M376.2 501.4 L372.7 508.9 L364.4 510 L370.5 515.7 L368.9 523.8 L376.2 519.8 L383.5 523.8 L381.9 515.7 L388 510 L379.7 508.9Z" fill="#f04283" stroke="#8c0c38" stroke-width="1.9" stroke-linejoin="miter"/><path d="M335.3 469.7 L331.8 477.2 L323.5 478.3 L329.6 484 L328 492.1 L335.3 488.1 L342.6 492.1 L341 484 L347.1 478.3 L338.8 477.2Z" fill="#f04283" stroke="#8c0c38" stroke-width="1.9" stroke-linejoin="miter"/><path d="M347.2 519.8 L343.7 527.3 L335.4 528.4 L341.5 534.1 L339.9 542.2 L347.2 538.2 L354.5 542.2 L352.9 534.1 L359 528.4 L350.7 527.3Z" fill="#f04283" stroke="#8c0c38" stroke-width="1.9" stroke-linejoin="miter"/><path d="M337.9 547.6 L334.4 555.1 L326.1 556.2 L332.2 561.9 L330.6 570 L337.9 566 L345.2 570 L343.6 561.9 L349.7 556.2 L341.4 555.1Z" fill="#f04283" stroke="#8c0c38" stroke-width="1.9" stroke-linejoin="miter"/><path d="M460.7 410.2 L457.2 417.7 L448.9 418.8 L455 424.5 L453.4 432.6 L460.7 428.6 L468 432.6 L466.4 424.5 L472.5 418.8 L464.2 417.7Z" fill="#f04283" stroke="#8c0c38" stroke-width="1.9" stroke-linejoin="miter"/><path d="M380.2 412.9 L376.7 420.4 L368.4 421.5 L374.5 427.2 L372.9 435.3 L380.2 431.3 L387.5 435.3 L385.9 427.2 L392 421.5 L383.7 420.4Z" fill="#f04283" stroke="#8c0c38" stroke-width="1.9" stroke-linejoin="miter"/><path d="M398.7 415.5 L395.2 423 L386.9 424.1 L393 429.8 L391.4 437.9 L398.7 433.9 L406 437.9 L404.4 429.8 L410.5 424.1 L402.2 423Z" fill="#f04283" stroke="#8c0c38" stroke-width="1.9" stroke-linejoin="miter"/><path d="M337.3 550 L333.8 557.5 L325.5 558.6 L331.6 564.3 L330 572.4 L337.3 568.4 L344.6 572.4 L343 564.3 L349.1 558.6 L340.8 557.5Z" fill="#f04283" stroke="#8c0c38" stroke-width="1.9" stroke-linejoin="miter"/><path d="M296.4 591 L292.9 598.5 L284.6 599.6 L290.7 605.3 L289.1 613.4 L296.4 609.4 L303.7 613.4 L302.1 605.3 L308.2 599.6 L299.9 598.5Z" fill="#f04283" stroke="#8c0c38" stroke-width="1.9" stroke-linejoin="miter"/><path d="M289.8 560.6 L286.3 568.1 L278 569.2 L284.1 574.9 L282.5 583 L289.8 579 L297.1 583 L295.5 574.9 L301.6 569.2 L293.3 568.1Z" fill="#f04283" stroke="#8c0c38" stroke-width="1.9" stroke-linejoin="miter"/><path d="M309.6 554 L306.1 561.5 L297.8 562.6 L303.9 568.3 L302.3 576.4 L309.6 572.4 L316.9 576.4 L315.3 568.3 L321.4 562.6 L313.1 561.5Z" fill="#f04283" stroke="#8c0c38" stroke-width="1.9" stroke-linejoin="miter"/><path d="M276.6 565.9 L273.1 573.4 L264.8 574.5 L270.9 580.2 L269.3 588.3 L276.6 584.3 L283.9 588.3 L282.3 580.2 L288.4 574.5 L280.1 573.4Z" fill="#f04283" stroke="#8c0c38" stroke-width="1.9" stroke-linejoin="miter"/><path d="M283.2 543.4 L279.7 550.9 L271.4 552 L277.5 557.7 L275.9 565.8 L283.2 561.8 L290.5 565.8 L288.9 557.7 L295 552 L286.7 550.9Z" fill="#f04283" stroke="#8c0c38" stroke-width="1.9" stroke-linejoin="miter"/><path d="M588.3 250 L584.8 257.5 L576.5 258.6 L582.6 264.3 L581 272.4 L588.3 268.4 L595.6 272.4 L594 264.3 L600.1 258.6 L591.8 257.5Z" fill="#f04283" stroke="#8c0c38" stroke-width="1.9" stroke-linejoin="miter"/><path d="M602.8 261.9 L599.3 269.4 L591 270.5 L597.1 276.2 L595.5 284.3 L602.8 280.3 L610.1 284.3 L608.5 276.2 L614.6 270.5 L606.3 269.4Z" fill="#f04283" stroke="#8c0c38" stroke-width="1.9" stroke-linejoin="miter"/><path d="M610.7 281.7 L607.2 289.2 L598.9 290.3 L605 296 L603.4 304.1 L610.7 300.1 L618 304.1 L616.4 296 L622.5 290.3 L614.2 289.2Z" fill="#f04283" stroke="#8c0c38" stroke-width="1.9" stroke-linejoin="miter"/><path d="M536.8 309.5 L533.3 317 L525 318.1 L531.1 323.8 L529.5 331.9 L536.8 327.9 L544.1 331.9 L542.5 323.8 L548.6 318.1 L540.3 317Z" fill="#f04283" stroke="#8c0c38" stroke-width="1.9" stroke-linejoin="miter"/><path d="M560.5 310.8 L557 318.3 L548.7 319.4 L554.8 325.1 L553.2 333.2 L560.5 329.2 L567.8 333.2 L566.2 325.1 L572.3 319.4 L564 318.3Z" fill="#f04283" stroke="#8c0c38" stroke-width="1.9" stroke-linejoin="miter"/><path d="M580.4 334.6 L576.9 342.1 L568.6 343.2 L574.7 348.9 L573.1 357 L580.4 353 L587.7 357 L586.1 348.9 L592.2 343.2 L583.9 342.1Z" fill="#f04283" stroke="#8c0c38" stroke-width="1.9" stroke-linejoin="miter"/><path d="M601.5 326.6 L598 334.1 L589.7 335.2 L595.8 340.9 L594.2 349 L601.5 345 L608.8 349 L607.2 340.9 L613.3 335.2 L605 334.1Z" fill="#f04283" stroke="#8c0c38" stroke-width="1.9" stroke-linejoin="miter"/><path d="M618.7 317.4 L615.2 324.9 L606.9 326 L613 331.7 L611.4 339.8 L618.7 335.8 L626 339.8 L624.4 331.7 L630.5 326 L622.2 324.9Z" fill="#f04283" stroke="#8c0c38" stroke-width="1.9" stroke-linejoin="miter"/><path d="M539.4 343.8 L535.9 351.3 L527.6 352.4 L533.7 358.1 L532.1 366.2 L539.4 362.2 L546.7 366.2 L545.1 358.1 L551.2 352.4 L542.9 351.3Z" fill="#f04283" stroke="#8c0c38" stroke-width="1.9" stroke-linejoin="miter"/><path d="M524.9 353 L521.4 360.5 L513.1 361.6 L519.2 367.3 L517.6 375.4 L524.9 371.4 L532.2 375.4 L530.6 367.3 L536.7 361.6 L528.4 360.5Z" fill="#f04283" stroke="#8c0c38" stroke-width="1.9" stroke-linejoin="miter"/><path d="M556.6 358.3 L553.1 365.8 L544.8 366.9 L550.9 372.6 L549.3 380.7 L556.6 376.7 L563.9 380.7 L562.3 372.6 L568.4 366.9 L560.1 365.8Z" fill="#f04283" stroke="#8c0c38" stroke-width="1.9" stroke-linejoin="miter"/><path d="M481.3 337.2 L477.8 344.7 L469.5 345.8 L475.6 351.5 L474 359.6 L481.3 355.6 L488.6 359.6 L487 351.5 L493.1 345.8 L484.8 344.7Z" fill="#f04283" stroke="#8c0c38" stroke-width="1.9" stroke-linejoin="miter"/><path d="M518.3 374.2 L514.8 381.7 L506.5 382.8 L512.6 388.5 L511 396.6 L518.3 392.6 L525.6 396.6 L524 388.5 L530.1 382.8 L521.8 381.7Z" fill="#f04283" stroke="#8c0c38" stroke-width="1.9" stroke-linejoin="miter"/><path d="M606.6 389.5 L603.1 397 L594.8 398.1 L600.9 403.8 L599.3 411.9 L606.6 407.9 L613.9 411.9 L612.3 403.8 L618.4 398.1 L610.1 397Z" fill="#f04283" stroke="#8c0c38" stroke-width="1.9" stroke-linejoin="miter"/><path d="M564.2 389.5 L560.7 397 L552.4 398.1 L558.5 403.8 L556.9 411.9 L564.2 407.9 L571.5 411.9 L569.9 403.8 L576 398.1 L567.7 397Z" fill="#f04283" stroke="#8c0c38" stroke-width="1.9" stroke-linejoin="miter"/><path d="M518.5 379.4 L515 386.9 L506.7 388 L512.8 393.7 L511.2 401.8 L518.5 397.8 L525.8 401.8 L524.2 393.7 L530.3 388 L522 386.9Z" fill="#f04283" stroke="#8c0c38" stroke-width="1.9" stroke-linejoin="miter"/><path d="M252.8 576.5 L249.3 584 L241 585.1 L247.1 590.8 L245.5 598.9 L252.8 594.9 L260.1 598.9 L258.5 590.8 L264.6 585.1 L256.3 584Z" fill="#f04283" stroke="#8c0c38" stroke-width="1.9" stroke-linejoin="miter"/><path d="M273 564.2 L269.5 571.7 L261.2 572.8 L267.3 578.5 L265.7 586.6 L273 582.6 L280.3 586.6 L278.7 578.5 L284.8 572.8 L276.5 571.7Z" fill="#f04283" stroke="#8c0c38" stroke-width="1.9" stroke-linejoin="miter"/><path d="M277.5 525.5 L274 533 L265.7 534.1 L271.8 539.8 L270.2 547.9 L277.5 543.9 L284.8 547.9 L283.2 539.8 L289.3 534.1 L281 533Z" fill="#f04283" stroke="#8c0c38" stroke-width="1.9" stroke-linejoin="miter"/><path d="M283.6 510.5 L280.1 518 L271.8 519.1 L277.9 524.8 L276.3 532.9 L283.6 528.9 L290.9 532.9 L289.3 524.8 L295.4 519.1 L287.1 518Z" fill="#f04283" stroke="#8c0c38" stroke-width="1.9" stroke-linejoin="miter"/><path d="M284.5 543.9 L281 551.4 L272.7 552.5 L278.8 558.2 L277.2 566.3 L284.5 562.3 L291.8 566.3 L290.2 558.2 L296.3 552.5 L288 551.4Z" fill="#f04283" stroke="#8c0c38" stroke-width="1.9" stroke-linejoin="miter"/><path d="M292.4 558 L288.9 565.5 L280.6 566.6 L286.7 572.3 L285.1 580.4 L292.4 576.4 L299.7 580.4 L298.1 572.3 L304.2 566.6 L295.9 565.5Z" fill="#f04283" stroke="#8c0c38" stroke-width="1.9" stroke-linejoin="miter"/><path d="M288 498.2 L284.5 505.7 L276.2 506.8 L282.3 512.5 L280.7 520.6 L288 516.6 L295.3 520.6 L293.7 512.5 L299.8 506.8 L291.5 505.7Z" fill="#f04283" stroke="#8c0c38" stroke-width="1.9" stroke-linejoin="miter"/><path d="M312.4 510.5 L316.8 506.1 L321.2 510.5 L327.3 504.4 L322.9 500 L327.3 495.6 L321.2 489.5 L316.8 493.9 L312.4 489.5 L306.3 495.6 L310.7 500 L306.3 504.4Z" fill="#f6c0c3" stroke="#e58890" stroke-width="1.5"/><path d="M296.6 562 L301 557.6 L305.4 562 L311.5 555.9 L307.1 551.5 L311.5 547.1 L305.4 541 L301 545.4 L296.6 541 L290.5 547.1 L294.9 551.5 L290.5 555.9Z" fill="#f6c0c3" stroke="#e58890" stroke-width="1.5"/><path d="M221.5 801.8 L225.9 797.4 L230.3 801.8 L236.4 795.7 L232 791.3 L236.4 786.9 L230.3 780.8 L225.9 785.2 L221.5 780.8 L215.4 786.9 L219.8 791.3 L215.4 795.7Z" fill="#f6c0c3" stroke="#e58890" stroke-width="1.5"/><path d="M296 562.4 L300.4 558 L304.8 562.4 L310.9 556.3 L306.5 551.9 L310.9 547.5 L304.8 541.4 L300.4 545.8 L296 541.4 L289.9 547.5 L294.3 551.9 L289.9 556.3Z" fill="#f6c0c3" stroke="#e58890" stroke-width="1.5"/><path d="M240.2 603.4 L236.7 611.4 L228 612.2 L234.6 618 L232.7 626.6 L240.2 622.1 L247.7 626.6 L245.8 618 L252.4 612.2 L243.7 611.4Z" fill="#f5c2c2" stroke="#e48a90" stroke-width="1.7"/><path d="M224.3 606.1 L220.8 614.1 L212.1 614.9 L218.7 620.7 L216.8 629.3 L224.3 624.8 L231.8 629.3 L229.9 620.7 L236.5 614.9 L227.8 614.1Z" fill="#f5c2c2" stroke="#e48a90" stroke-width="1.7"/><path d="M234.2 713.4 L230.7 721.4 L222 722.2 L228.6 728 L226.7 736.6 L234.2 732.1 L241.7 736.6 L239.8 728 L246.4 722.2 L237.7 721.4Z" fill="#f5c2c2" stroke="#e48a90" stroke-width="1.7"/><path d="M600.2 303.8 L596.7 311.8 L588 312.6 L594.6 318.4 L592.7 327 L600.2 322.5 L607.7 327 L605.8 318.4 L612.4 312.6 L603.7 311.8Z" fill="#f5c2c2" stroke="#e48a90" stroke-width="1.7"/><path d="M291.4 331.7 L287.8 340 L278.8 340.8 L285.6 346.8 L283.6 355.6 L291.4 351 L299.2 355.6 L297.2 346.8 L304 340.8 L295 340Z" fill="#c6a0d6" stroke="#4e2e5e" stroke-width="1.7"/>
<path d="M160 470 C161.7 454.2 170.5 448.2 175 440 C179.5 431.8 183.4 428.4 186.8 420.8 C190.2 413.2 192.4 401.4 195.6 394.4 C198.8 387.4 202 384.8 206.1 378.6 C210.2 372.5 215.2 364.6 220.2 357.5 C225.2 350.4 230.7 342.5 236 336.3 C241.3 330.1 247.8 325.5 251.9 320.5 C256 315.5 258.3 310.8 260.7 306.4 C263.1 302 262.8 298.4 266 294 C269.2 289.6 273.5 285.6 280.1 280 C286.7 274.4 298.7 267.3 305.5 260.7 C312.3 254.1 314.3 246.2 321 240.6 C327.7 235 335.6 232.4 345.6 227.2 C355.7 222 371.6 214.6 381.3 209.4 C391 204.2 395.4 200.1 403.6 196 C411.8 191.9 421.1 188.5 430.4 184.8 C439.7 181.1 452.9 177.3 459.4 173.7 C465.9 170.1 471.1 165.9 469.5 163 C467.9 160.1 450.9 158.3 450 156 C449.1 153.7 458 151.6 463.8 149 C469.6 146.4 474 143.8 485 140.5 C496 137.2 514 132.6 529.6 129.4 C545.2 126.2 563.8 124.2 578.7 121.6 C593.6 119 608.4 116.6 618.8 113.8 C629.2 111 631.7 108.1 641 104.8 C650.3 101.5 663.4 97 674.6 93.7 C685.8 90.4 698.7 87.4 708 84.8 C717.3 82.2 717.6 80.3 730.4 78 C743.2 75.7 768.5 73.5 785 70.7 C801.5 67.9 814.4 64 829.6 61.3 C844.9 58.6 859.8 52.7 876.5 54.7 C893.2 56.8 911.8 71.5 930 73.6 C948.2 75.6 969.1 69 985.8 67 C1002.5 65 1020.5 62.4 1030.4 61.3 C1040.3 60.2 1033.3 61.3 1045 60.2 C1056.7 59.1 1085.9 56.7 1100.8 54.7 C1115.7 52.7 1124.2 49.9 1134.2 48 C1144.2 46.1 1155.4 43.7 1161 43.5 C1166.6 43.3 1165.5 44.4 1167.7 46.8 C1169.9 49.2 1170.7 55.6 1174.4 58 C1178.1 60.4 1181.8 61.7 1190 61.3 C1198.2 60.9 1212.3 57.5 1223.5 55.8 C1234.7 54.1 1249.6 51.9 1257 51.3 C1264.4 50.7 1262.4 50.2 1268 52.4 C1273.6 54.6 1283 60.6 1290.4 64.7 C1297.9 68.8 1306.8 74.8 1312.7 77 C1318.6 79.2 1320.6 77.9 1326 78 C1331.4 78.1 1336 77.7 1345 77.5 C1354 77.3 1374.2 43.1 1380 77 C1385.8 110.9 1385.8 246 1380 281 C1374.2 316 1351.7 285.9 1345 287 C1338.3 288.1 1344.3 286.6 1339.7 287.7 C1335.1 288.8 1327 291.4 1317.5 293.8 C1308 296.2 1294.8 299.9 1283 301.9 C1271.2 303.9 1261.1 303.2 1246.6 305.9 C1232.1 308.6 1211.2 313.6 1196 318 C1180.8 322.4 1169.5 327.9 1155.5 332.2 C1141.5 336.5 1123.6 341.5 1112 344 C1100.4 346.5 1091.9 349.2 1085.7 347.3 C1079.5 345.4 1081.7 335.8 1074.6 332.4 C1067.5 329 1051.4 329 1043 326.8 C1034.6 324.6 1030.6 322.5 1024.4 319.4 C1018.2 316.3 1012.9 311.2 1005.8 308.3 C998.7 305.4 989.5 302.5 981.7 301.7 C974 300.9 969.2 300.7 959.3 303.6 C949.4 306.6 934.6 314.3 922.2 319.4 C909.8 324.5 895.7 331 885 334.3 C874.3 337.6 867.1 336.4 858 339.4 C848.9 342.4 837.9 347.8 830.2 352.4 C822.5 357 819.4 363.4 811.6 367.3 C803.9 371.2 793 374.1 783.7 375.7 C774.4 377.2 762 376.9 755.8 376.6 C749.6 376.3 748.4 376 746.5 373.8 C744.6 371.6 746.2 366.2 744.7 363.6 C743.2 361 746.2 359.1 737.2 358 C728.2 356.9 707.8 356.3 690.8 357 C673.8 357.7 651.9 359.4 635 362 C618.1 364.6 603.3 368.6 589.5 372.5 C575.7 376.4 563.1 380.9 552.3 385.5 C541.4 390.1 531.2 396.1 524.4 400.4 C517.6 404.7 516 406.9 511.4 411.5 C506.8 416.1 503.6 424 496.5 428.3 C489.4 432.6 477.9 432.9 468.6 437.5 C459.3 442.1 450.1 449.6 440.8 456.1 C431.5 462.6 420.6 470.1 412.9 476.6 C405.1 483.1 398.9 491.2 394.3 495.2 C389.7 499.2 390.6 497.8 385 500.4 C379.4 503 369.4 506.9 361 511 C352.6 515.1 343.4 520.9 334.6 525 C325.8 529.1 317 532.4 308.2 535.6 C299.4 538.8 290.6 541.8 281.8 544.4 C273 547 264.2 549.9 255.4 551.5 C246.6 553.1 237.8 554.1 229 554.1 C220.2 554.1 209.9 552.8 202.6 551.5 C195.3 550.2 191.3 549 185 546.2 C178.7 543.5 169.2 547.7 165 535 C160.8 522.3 158.3 485.8 160 470Z" fill="none" stroke="#a8a8a8" stroke-width="3.4" stroke-linejoin="round"/>
<path d="M201.7 493.4 C202.3 488.1 204.8 480.8 207.9 474 C211 467.2 215.2 460.2 220.2 452.9 C225.2 445.6 231.3 438.3 237.8 430 C244.3 421.7 252.6 411.8 259 403.2 C265.4 394.6 270.1 386.5 276.5 378.6 C282.9 370.7 291.5 362.8 297.7 355.7 C303.9 348.6 305.9 343.9 313.5 336.3 C321.1 328.7 331.6 319.1 343.5 310 C355.4 300.9 374.2 289.3 385 281.8 C395.8 274.3 396.7 271.9 408 265 C419.3 258.1 439.9 247.6 452.7 240.6 C465.5 233.6 472.2 228.5 485 223 C497.8 217.5 514.7 212.7 529.6 207.5 C544.5 202.3 559.3 197 574.2 191.8 C589.1 186.6 603.9 180.5 618.8 176.2 C633.7 171.9 650.5 169.2 663.5 166.2 C676.5 163.2 685.9 161.6 697 158.4 C708.1 155.2 715.7 151.1 730.4 147.2 C745.1 143.3 761 137.8 785 135 C809 132.2 848.2 130.9 874.2 130.5 C900.2 130.1 922.5 131.2 941.1 132.7 C959.7 134.2 970.9 136.6 985.8 139.4 C1000.7 142.2 1019.3 147.1 1030.4 149.5 C1041.6 151.9 1046.6 153.2 1052.7 154 C1058.8 154.8 1059.3 155.5 1067.3 154 C1075.3 152.5 1085.9 148 1100.8 145 C1115.7 142 1136 136.9 1156.5 136 C1177 135.1 1209.4 137.9 1223.5 139.4 C1237.6 140.9 1236.5 142.6 1241.3 145 C1246.1 147.4 1248 151.9 1252.5 154 C1257 156.1 1259.8 157.3 1268 157.3 C1276.2 157.3 1286.2 155.1 1301.5 154 C1316.8 152.9 1350.2 138.5 1360 151 C1369.8 163.5 1365.4 215.3 1360 229 C1354.6 242.7 1338.1 231.3 1327.6 233 C1317.1 234.7 1310.7 236.7 1297.2 239.1 C1283.7 241.5 1263.5 243.1 1246.6 247.2 C1229.7 251.2 1211.2 259 1196 263.4 C1180.8 267.8 1169 271.3 1155.5 273.5 C1142 275.7 1124.5 276 1115 276.5 C1105.5 277 1106.1 277 1098.8 276.7 C1091.5 276.4 1078 277.3 1070.9 274.8 C1063.8 272.3 1060 267.7 1056 261.8 C1052 255.9 1050.4 245.4 1046.7 239.5 C1043 233.6 1039 229.1 1033.7 226.5 C1028.4 223.9 1027.5 222.1 1015.1 223.7 C1002.7 225.2 974.8 231.3 959.3 235.8 C943.8 240.3 934.6 245.3 922.2 250.6 C909.8 255.9 894.1 263.9 885 267.5 C875.9 271.1 873.3 269.5 867.3 272.5 C861.3 275.5 855 281.5 848.8 285.5 C842.6 289.5 838 293.6 830.2 296.7 C822.5 299.8 816.2 301.6 802.3 304.1 C788.3 306.6 765.1 308.7 746.5 311.5 C727.9 314.3 709.4 317.1 690.8 320.8 C672.2 324.5 648.8 330.2 635 333.6 C621.2 337 618.7 337.5 608 340.9 C597.3 344.3 583.3 349.2 570.9 353.9 C558.5 358.5 546.1 363.5 533.7 368.8 C521.3 374.1 508.9 379 496.5 385.5 C484.1 392 471.7 399.6 459.3 407.8 C446.9 416.1 434.6 424.8 422.2 435 C409.8 445.2 393.7 461.6 385 469 C376.3 476.4 376.8 475.2 369.9 479.3 C363 483.4 352.3 489 343.5 493.4 C334.7 497.8 325.8 502.2 317 505.7 C308.2 509.2 299.4 512.5 290.6 514.5 C281.8 516.5 273 517.3 264.2 518 C255.4 518.7 245.1 519.2 237.8 518.9 C230.5 518.6 225.8 518.5 220.2 516.3 C214.6 514.1 207.5 509.5 204.4 505.7 C201.3 501.9 201.1 498.7 201.7 493.4Z" fill="none" stroke="#a8a8a8" stroke-width="3.4" stroke-linejoin="round"/>
<path d="M267.7 470.5 C268.8 466.1 273.1 458.3 276.5 452.9 C279.9 447.5 284.2 442.8 288 438 C291.8 433.2 293.1 431.1 299.4 424.4 C305.7 417.7 317 405.6 325.8 398 C334.6 390.4 342.4 385.7 352.3 378.6 C362.2 371.6 373.4 364.8 385 355.7 C396.6 346.6 409.2 333.5 422.2 324.2 C435.2 314.9 452.5 305.9 463 300 C473.5 294.1 473.8 294.7 485 289 C496.2 283.3 515.9 272.5 530 266 C544.1 259.5 555 255.5 569.8 250 C584.6 244.5 603.8 237.7 618.8 233 C633.8 228.3 648 225.1 660 222 C672 218.9 679.1 217.5 690.8 214.5 C702.5 211.5 714.7 207.2 730.4 204 C746.1 200.8 768.5 197.4 785 195.2 C801.5 193 814.7 190.9 829.6 190.7 C844.5 190.5 861.6 192.7 874.2 194 C886.8 195.3 898 197.2 905 198.5 C912 199.8 913.1 199.9 916 201.5 C918.9 203.1 922.4 205.9 922.2 208.3 C922 210.7 918.7 213.2 915 216 C911.3 218.8 905 222.1 900 225 C895 227.9 889.3 231.4 885 233.5 C880.7 235.6 879.7 235.1 874.2 237.5 C868.7 239.9 857.8 245.3 852 248 C846.2 250.7 847.8 250.8 839.5 253.9 C831.2 257.1 817.8 261.6 802.3 266.9 C786.8 272.2 765.1 279.8 746.5 285.5 C727.9 291.2 709.4 295.9 690.8 301.3 C672.2 306.7 648.8 314.5 635 318 C621.2 321.5 618.7 319.4 608 322.3 C597.3 325.2 583.3 331 570.9 335.3 C558.5 339.6 546.1 344 533.7 348.3 C521.3 352.6 508.9 356 496.5 361.3 C484.1 366.6 471.7 372.9 459.3 380 C446.9 387.1 434.6 395.1 422.2 404 C409.8 412.9 395.2 425.2 385 433.5 C374.8 441.8 369.4 447.6 361 454 C352.6 460.4 343.4 467.2 334.6 472 C325.8 476.8 316.7 480.7 308.2 482.8 C299.7 484.9 290 485.2 283.6 484.6 C277.2 484 272.6 481.4 270 479 C267.4 476.6 266.6 474.9 267.7 470.5Z" fill="none" stroke="#a8a8a8" stroke-width="3.4" stroke-linejoin="round"/>
</g>
<g fill="#a6a6a6" font-family="Liberation Serif, serif">
<text x="996" y="431.6" font-size="28.5" font-style="italic" textLength="13" lengthAdjust="spacingAndGlyphs">L</text>
<text x="1012" y="438.6" font-size="20.5" textLength="109.5" lengthAdjust="spacingAndGlyphs">10 − 40keV</text>
<text x="1127.5" y="431.6" font-size="28.5" textLength="21" lengthAdjust="spacingAndGlyphs">=</text>
<text x="1155.5" y="431.6" font-size="28.5" textLength="31.5" lengthAdjust="spacingAndGlyphs">10</text>
<text x="1190.8" y="419.5" font-size="20.5" textLength="22" lengthAdjust="spacingAndGlyphs">44</text>
<text x="1223.5" y="431.6" font-size="28.5" textLength="45" lengthAdjust="spacingAndGlyphs">erg</text>
<text x="1277.8" y="431.6" font-size="28.5" textLength="13.5" lengthAdjust="spacingAndGlyphs">s</text>
<text x="1293.8" y="419.5" font-size="20.5" textLength="26" lengthAdjust="spacingAndGlyphs">−1</text>
</g>
<path d="M213.3 1022.7V1005.7M213.3 5.3V22.3M361.5 1022.7V1005.7M361.5 5.3V22.3M509.6 1022.7V1005.7M509.6 5.3V22.3M657.8 1022.7V1005.7M657.8 5.3V22.3M805.9 1022.7V1005.7M805.9 5.3V22.3M954 1022.7V1005.7M954 5.3V22.3M1102.2 1022.7V1005.7M1102.2 5.3V22.3M1250.3 1022.7V1005.7M1250.3 5.3V22.3" stroke="#000" stroke-width="3.6" fill="none"/>
<path d="M242.9 1022.7V1009.7M242.9 5.3V18.3M272.6 1022.7V1009.7M272.6 5.3V18.3M302.2 1022.7V1009.7M302.2 5.3V18.3M331.8 1022.7V1009.7M331.8 5.3V18.3M391.1 1022.7V1009.7M391.1 5.3V18.3M420.7 1022.7V1009.7M420.7 5.3V18.3M450.3 1022.7V1009.7M450.3 5.3V18.3M480 1022.7V1009.7M480 5.3V18.3M539.2 1022.7V1009.7M539.2 5.3V18.3M568.9 1022.7V1009.7M568.9 5.3V18.3M598.5 1022.7V1009.7M598.5 5.3V18.3M628.1 1022.7V1009.7M628.1 5.3V18.3M687.4 1022.7V1009.7M687.4 5.3V18.3M717 1022.7V1009.7M717 5.3V18.3M746.6 1022.7V1009.7M746.6 5.3V18.3M776.3 1022.7V1009.7M776.3 5.3V18.3M835.5 1022.7V1009.7M835.5 5.3V18.3M865.2 1022.7V1009.7M865.2 5.3V18.3M894.8 1022.7V1009.7M894.8 5.3V18.3M924.4 1022.7V1009.7M924.4 5.3V18.3M983.7 1022.7V1009.7M983.7 5.3V18.3M1013.3 1022.7V1009.7M1013.3 5.3V18.3M1042.9 1022.7V1009.7M1042.9 5.3V18.3M1072.6 1022.7V1009.7M1072.6 5.3V18.3M1131.8 1022.7V1009.7M1131.8 5.3V18.3M1161.5 1022.7V1009.7M1161.5 5.3V18.3M1191.1 1022.7V1009.7M1191.1 5.3V18.3M1220.7 1022.7V1009.7M1220.7 5.3V18.3M1280 1022.7V1009.7M1280 5.3V18.3M1309.6 1022.7V1009.7M1309.6 5.3V18.3M1339.2 1022.7V1009.7M1339.2 5.3V18.3" stroke="#000" stroke-width="2.6" fill="none"/>
<path d="M185.6 944.4H201.6M1341.4 944.4H1325.4M185.6 795.5H201.6M1341.4 795.5H1325.4M185.6 646.6H201.6M1341.4 646.6H1325.4M185.6 497.6H201.6M1341.4 497.6H1325.4M185.6 348.7H201.6M1341.4 348.7H1325.4M185.6 199.8H201.6M1341.4 199.8H1325.4M185.6 50.9H201.6M1341.4 50.9H1325.4" stroke="#000" stroke-width="3.6" fill="none"/>
<path d="M185.6 1003.7H198.6M1341.4 1003.7H1328.4M185.6 989.2H198.6M1341.4 989.2H1328.4M185.6 977.4H198.6M1341.4 977.4H1328.4M185.6 967.5H198.6M1341.4 967.5H1328.4M185.6 958.8H198.6M1341.4 958.8H1328.4M185.6 951.2H198.6M1341.4 951.2H1328.4M185.6 899.6H198.6M1341.4 899.6H1328.4M185.6 873.3H198.6M1341.4 873.3H1328.4M185.6 854.7H198.6M1341.4 854.7H1328.4M185.6 840.3H198.6M1341.4 840.3H1328.4M185.6 828.5H198.6M1341.4 828.5H1328.4M185.6 818.5H198.6M1341.4 818.5H1328.4M185.6 809.9H198.6M1341.4 809.9H1328.4M185.6 802.3H198.6M1341.4 802.3H1328.4M185.6 750.7H198.6M1341.4 750.7H1328.4M185.6 724.4H198.6M1341.4 724.4H1328.4M185.6 705.8H198.6M1341.4 705.8H1328.4M185.6 691.4H198.6M1341.4 691.4H1328.4M185.6 679.6H198.6M1341.4 679.6H1328.4M185.6 669.6H198.6M1341.4 669.6H1328.4M185.6 661H198.6M1341.4 661H1328.4M185.6 653.4H198.6M1341.4 653.4H1328.4M185.6 601.7H198.6M1341.4 601.7H1328.4M185.6 575.5H198.6M1341.4 575.5H1328.4M185.6 556.9H198.6M1341.4 556.9H1328.4M185.6 542.5H198.6M1341.4 542.5H1328.4M185.6 530.7H198.6M1341.4 530.7H1328.4M185.6 520.7H198.6M1341.4 520.7H1328.4M185.6 512.1H198.6M1341.4 512.1H1328.4M185.6 504.5H198.6M1341.4 504.5H1328.4M185.6 452.8H198.6M1341.4 452.8H1328.4M185.6 426.6H198.6M1341.4 426.6H1328.4M185.6 408H198.6M1341.4 408H1328.4M185.6 393.5H198.6M1341.4 393.5H1328.4M185.6 381.8H198.6M1341.4 381.8H1328.4M185.6 371.8H198.6M1341.4 371.8H1328.4M185.6 363.2H198.6M1341.4 363.2H1328.4M185.6 355.5H198.6M1341.4 355.5H1328.4M185.6 303.9H198.6M1341.4 303.9H1328.4M185.6 277.7H198.6M1341.4 277.7H1328.4M185.6 259.1H198.6M1341.4 259.1H1328.4M185.6 244.6H198.6M1341.4 244.6H1328.4M185.6 232.8H198.6M1341.4 232.8H1328.4M185.6 222.9H198.6M1341.4 222.9H1328.4M185.6 214.2H198.6M1341.4 214.2H1328.4M185.6 206.6H198.6M1341.4 206.6H1328.4M185.6 155H198.6M1341.4 155H1328.4M185.6 128.7H198.6M1341.4 128.7H1328.4M185.6 110.1H198.6M1341.4 110.1H1328.4M185.6 95.7H198.6M1341.4 95.7H1328.4M185.6 83.9H198.6M1341.4 83.9H1328.4M185.6 73.9H198.6M1341.4 73.9H1328.4M185.6 65.3H198.6M1341.4 65.3H1328.4M185.6 57.7H198.6M1341.4 57.7H1328.4" stroke="#000" stroke-width="2.6" fill="none"/>
<rect x="185.6" y="5.3" width="1155.8" height="1017.4" fill="none" stroke="#000" stroke-width="2.6"/>
<text x="213.6" y="1068" font-family="Liberation Serif, serif" font-size="49" text-anchor="middle" textLength="68" lengthAdjust="spacingAndGlyphs">0.0</text>
<text x="361.8" y="1068" font-family="Liberation Serif, serif" font-size="49" text-anchor="middle" textLength="68" lengthAdjust="spacingAndGlyphs">0.5</text>
<text x="509.9" y="1068" font-family="Liberation Serif, serif" font-size="49" text-anchor="middle" textLength="68" lengthAdjust="spacingAndGlyphs">1.0</text>
<text x="658" y="1068" font-family="Liberation Serif, serif" font-size="49" text-anchor="middle" textLength="68" lengthAdjust="spacingAndGlyphs">1.5</text>
<text x="806.2" y="1068" font-family="Liberation Serif, serif" font-size="49" text-anchor="middle" textLength="68" lengthAdjust="spacingAndGlyphs">2.0</text>
<text x="954.3" y="1068" font-family="Liberation Serif, serif" font-size="49" text-anchor="middle" textLength="68" lengthAdjust="spacingAndGlyphs">2.5</text>
<text x="1102.5" y="1068" font-family="Liberation Serif, serif" font-size="49" text-anchor="middle" textLength="68" lengthAdjust="spacingAndGlyphs">3.0</text>
<text x="1250.6" y="1068" font-family="Liberation Serif, serif" font-size="49" text-anchor="middle" textLength="68" lengthAdjust="spacingAndGlyphs">3.5</text>
<text x="74.5" y="962.7" font-family="Liberation Serif, serif" font-size="50.5" textLength="56.5" lengthAdjust="spacingAndGlyphs">10</text>
<text x="130.5" y="947" font-family="Liberation Serif, serif" font-size="38" textLength="39" lengthAdjust="spacingAndGlyphs">42</text>
<text x="74.5" y="813.8" font-family="Liberation Serif, serif" font-size="50.5" textLength="56.5" lengthAdjust="spacingAndGlyphs">10</text>
<text x="130.5" y="798.1" font-family="Liberation Serif, serif" font-size="38" textLength="39" lengthAdjust="spacingAndGlyphs">43</text>
<text x="74.5" y="664.9" font-family="Liberation Serif, serif" font-size="50.5" textLength="56.5" lengthAdjust="spacingAndGlyphs">10</text>
<text x="130.5" y="649.2" font-family="Liberation Serif, serif" font-size="38" textLength="39" lengthAdjust="spacingAndGlyphs">44</text>
<text x="74.5" y="515.9" font-family="Liberation Serif, serif" font-size="50.5" textLength="56.5" lengthAdjust="spacingAndGlyphs">10</text>
<text x="130.5" y="500.2" font-family="Liberation Serif, serif" font-size="38" textLength="39" lengthAdjust="spacingAndGlyphs">45</text>
<text x="74.5" y="367" font-family="Liberation Serif, serif" font-size="50.5" textLength="56.5" lengthAdjust="spacingAndGlyphs">10</text>
<text x="130.5" y="351.3" font-family="Liberation Serif, serif" font-size="38" textLength="39" lengthAdjust="spacingAndGlyphs">46</text>
<text x="74.5" y="218.1" font-family="Liberation Serif, serif" font-size="50.5" textLength="56.5" lengthAdjust="spacingAndGlyphs">10</text>
<text x="130.5" y="202.4" font-family="Liberation Serif, serif" font-size="38" textLength="39" lengthAdjust="spacingAndGlyphs">47</text>
<text x="74.5" y="69.2" font-family="Liberation Serif, serif" font-size="50.5" textLength="56.5" lengthAdjust="spacingAndGlyphs">10</text>
<text x="130.5" y="53.5" font-family="Liberation Serif, serif" font-size="38" textLength="39" lengthAdjust="spacingAndGlyphs">48</text>
<text x="630.5" y="1127.8" font-family="Liberation Serif, serif" font-size="50" textLength="265" lengthAdjust="spacingAndGlyphs">Redshift (<tspan font-style="italic">z</tspan>)</text>
<g transform="translate(41.5 0) rotate(-90)" font-family="Liberation Serif, serif">
<text x="-665" y="0" font-size="50" textLength="29" lengthAdjust="spacingAndGlyphs">L</text>
<text x="-632" y="9.2" font-size="36" textLength="44.5" lengthAdjust="spacingAndGlyphs">bol</text>
<text x="-568.5" y="0" font-size="50" textLength="14.5" lengthAdjust="spacingAndGlyphs">[</text>
<text x="-551" y="0" font-size="50" textLength="79.5" lengthAdjust="spacingAndGlyphs">erg</text>
<text x="-458.5" y="0" font-size="50" textLength="18.5" lengthAdjust="spacingAndGlyphs">s</text>
<text x="-433.5" y="-17.5" font-size="36" textLength="41" lengthAdjust="spacingAndGlyphs">−1</text>
<text x="-385.5" y="0" font-size="50" textLength="14.5" lengthAdjust="spacingAndGlyphs">]</text>
</g>
<rect x="879.5" y="586" width="427" height="406" rx="8" fill="#fff" fill-opacity="0.8" stroke="#d8d8d8" stroke-width="2"/>
<text x="962" y="625.7" font-family="Liberation Sans, sans-serif" font-size="36.5" textLength="166" lengthAdjust="spacingAndGlyphs">NSS80 NL</text>
<text x="962" y="675.3" font-family="Liberation Sans, sans-serif" font-size="36.5" textLength="164" lengthAdjust="spacingAndGlyphs">NSS80 BL</text>
<text x="962" y="724.9" font-family="Liberation Sans, sans-serif" font-size="36.5" textLength="321" lengthAdjust="spacingAndGlyphs">NSS80 unclassified</text>
<text x="962" y="774.5" font-family="Liberation Sans, sans-serif" font-size="36.5" textLength="186.5" lengthAdjust="spacingAndGlyphs">NSS80 Gxy</text>
<text x="962" y="824.1" font-family="Liberation Sans, sans-serif" font-size="36.5" textLength="347" lengthAdjust="spacingAndGlyphs">NSS80 AGN/Gxy Pair</text>
<text x="962" y="873.7" font-family="Liberation Sans, sans-serif" font-size="36.5" textLength="282.5" lengthAdjust="spacingAndGlyphs">NSS80 Dual AGN</text>
<text x="962" y="923.3" font-family="Liberation Sans, sans-serif" font-size="36.5" textLength="268.5" lengthAdjust="spacingAndGlyphs">NSS80 Nu-rQSO</text>
<text x="962" y="972.9" font-family="Liberation Sans, sans-serif" font-size="36.5" textLength="317" lengthAdjust="spacingAndGlyphs">SDSS-DR7 Uniform</text>
<circle cx="925.8" cy="611.3" r="8.7" fill="#46b5ab" stroke="#1c998e" stroke-width="2.2"/>
<circle cx="925.8" cy="660.9" r="8.7" fill="#5f8ab0" stroke="#275b8a" stroke-width="2.2"/>
<circle cx="925.8" cy="710.5" r="8.7" fill="#f4c2c5" stroke="#f5a2a8" stroke-width="2.2"/>
<path d="M921.6 770.8 L925.8 766.6 L930 770.8 L936.5 764.3 L932.3 760.1 L936.5 755.9 L930 749.4 L925.8 753.6 L921.6 749.4 L915.1 755.9 L919.3 760.1 L915.1 764.3Z" fill="#f7c6c9" stroke="#f9a9ae" stroke-width="1.5"/>
<path d="M925.8 795.2 L922.1 804.1 L912.5 804.9 L919.8 811.1 L917.6 820.5 L925.8 815.5 L934 820.5 L931.8 811.1 L939.1 804.9 L929.5 804.1Z" fill="#f6c6c6" stroke="#f7a4a4" stroke-width="1.5"/>
<path d="M925.8 844.8 L922.1 853.7 L912.5 854.5 L919.8 860.7 L917.6 870.1 L925.8 865.1 L934 870.1 L931.8 860.7 L939.1 854.5 L929.5 853.7Z" fill="#b496c8" stroke="#7a5292" stroke-width="1.6"/>
<path d="M925.8 896.4 L922.6 904 L914.4 904.7 L920.7 910.1 L918.7 918.1 L925.8 913.8 L932.9 918.1 L930.9 910.1 L937.2 904.7 L929 904Z" fill="#ee4386" stroke="#e0306f" stroke-width="1.2"/>
<circle cx="925.8" cy="958.5" r="5.6" fill="#fff" stroke="#8cb2cc" stroke-width="2"/>
</svg></div></body></html>
